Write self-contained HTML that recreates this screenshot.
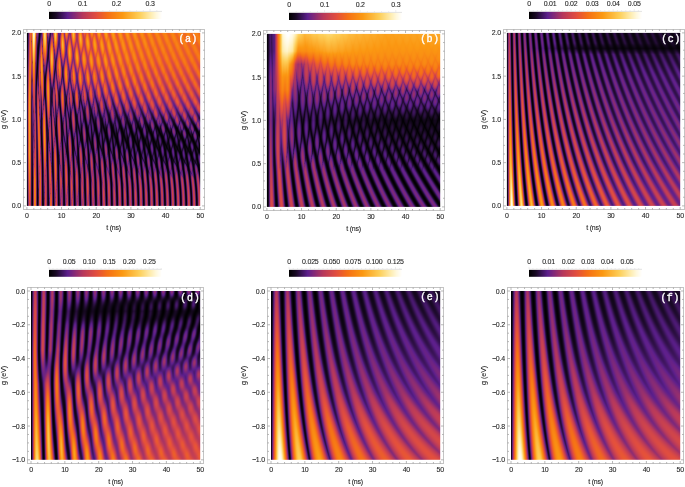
<!DOCTYPE html>
<html><head><meta charset="utf-8">
<style>
html,body{margin:0;padding:0;background:#fff;width:685px;height:487px;overflow:hidden}
#c,#s,#fb{position:absolute;left:0;top:0}
</style></head>
<body>
<svg id="fb" width="685" height="487" viewBox="0 0 685 487" shape-rendering="crispEdges"><defs><linearGradient id="fga"><stop offset="0.00" stop-color="#000"/><stop offset="0.06" stop-color="#18092a"/><stop offset="0.17" stop-color="#5c1f8c"/><stop offset="0.30" stop-color="#b6385c"/><stop offset="0.42" stop-color="#e24e3e"/><stop offset="0.52" stop-color="#f57016"/><stop offset="0.65" stop-color="#fb9812"/><stop offset="0.80" stop-color="#fdce58"/><stop offset="0.90" stop-color="#feecaf"/><stop offset="1.00" stop-color="#fff"/></linearGradient><linearGradient id="fgb"><stop offset="0.00" stop-color="#000"/><stop offset="0.06" stop-color="#18092a"/><stop offset="0.17" stop-color="#5c1f8c"/><stop offset="0.30" stop-color="#b6385c"/><stop offset="0.42" stop-color="#e24e3e"/><stop offset="0.52" stop-color="#f57016"/><stop offset="0.65" stop-color="#fb9812"/><stop offset="0.80" stop-color="#fdce58"/><stop offset="0.90" stop-color="#feecaf"/><stop offset="1.00" stop-color="#fff"/></linearGradient><linearGradient id="fgc"><stop offset="0.00" stop-color="#000"/><stop offset="0.06" stop-color="#18092a"/><stop offset="0.17" stop-color="#5c1f8c"/><stop offset="0.30" stop-color="#b6385c"/><stop offset="0.42" stop-color="#e24e3e"/><stop offset="0.52" stop-color="#f57016"/><stop offset="0.65" stop-color="#fb9812"/><stop offset="0.80" stop-color="#fdce58"/><stop offset="0.90" stop-color="#feecaf"/><stop offset="1.00" stop-color="#fff"/></linearGradient><linearGradient id="fgd"><stop offset="0.00" stop-color="#000"/><stop offset="0.06" stop-color="#18092a"/><stop offset="0.17" stop-color="#5c1f8c"/><stop offset="0.30" stop-color="#b6385c"/><stop offset="0.42" stop-color="#e24e3e"/><stop offset="0.52" stop-color="#f57016"/><stop offset="0.65" stop-color="#fb9812"/><stop offset="0.80" stop-color="#fdce58"/><stop offset="0.90" stop-color="#feecaf"/><stop offset="1.00" stop-color="#fff"/></linearGradient><linearGradient id="fge"><stop offset="0.00" stop-color="#000"/><stop offset="0.06" stop-color="#18092a"/><stop offset="0.17" stop-color="#5c1f8c"/><stop offset="0.30" stop-color="#b6385c"/><stop offset="0.42" stop-color="#e24e3e"/><stop offset="0.52" stop-color="#f57016"/><stop offset="0.65" stop-color="#fb9812"/><stop offset="0.80" stop-color="#fdce58"/><stop offset="0.90" stop-color="#feecaf"/><stop offset="1.00" stop-color="#fff"/></linearGradient><linearGradient id="fgf"><stop offset="0.00" stop-color="#000"/><stop offset="0.06" stop-color="#18092a"/><stop offset="0.17" stop-color="#5c1f8c"/><stop offset="0.30" stop-color="#b6385c"/><stop offset="0.42" stop-color="#e24e3e"/><stop offset="0.52" stop-color="#f57016"/><stop offset="0.65" stop-color="#fb9812"/><stop offset="0.80" stop-color="#fdce58"/><stop offset="0.90" stop-color="#feecaf"/><stop offset="1.00" stop-color="#fff"/></linearGradient></defs><rect x="26.9" y="32.9" width="10.1" height="10.1" fill="#bb6d52"/><rect x="37.0" y="32.9" width="10.0" height="10.1" fill="#96524b"/><rect x="47.0" y="32.9" width="10.0" height="10.1" fill="#a04b50"/><rect x="57.0" y="32.9" width="10.0" height="10.1" fill="#b84c4b"/><rect x="67.0" y="32.9" width="10.0" height="10.1" fill="#cc5644"/><rect x="77.0" y="32.9" width="10.0" height="10.1" fill="#de6336"/><rect x="87.0" y="32.9" width="10.0" height="10.1" fill="#e9672a"/><rect x="97.0" y="32.9" width="10.0" height="10.1" fill="#ed6b26"/><rect x="107.0" y="32.9" width="10.0" height="10.1" fill="#f17121"/><rect x="117.0" y="32.9" width="10.0" height="10.1" fill="#f16f21"/><rect x="127.0" y="32.9" width="10.0" height="10.1" fill="#f4771b"/><rect x="137.0" y="32.9" width="10.0" height="10.1" fill="#f3721d"/><rect x="147.0" y="32.9" width="10.0" height="10.1" fill="#f3711c"/><rect x="157.0" y="32.9" width="10.0" height="10.1" fill="#f4751a"/><rect x="167.0" y="32.9" width="10.0" height="10.1" fill="#f4731a"/><rect x="177.0" y="32.9" width="10.0" height="10.1" fill="#f68e48"/><rect x="187.0" y="32.9" width="10.0" height="10.1" fill="#f79a58"/><rect x="197.0" y="32.9" width="3.2" height="10.1" fill="#f67916"/><rect x="26.9" y="43.0" width="10.1" height="10.0" fill="#bc6245"/><rect x="37.0" y="43.0" width="10.0" height="10.0" fill="#9f4838"/><rect x="47.0" y="43.0" width="10.0" height="10.0" fill="#a34342"/><rect x="57.0" y="43.0" width="10.0" height="10.0" fill="#a64955"/><rect x="67.0" y="43.0" width="10.0" height="10.0" fill="#ce5541"/><rect x="77.0" y="43.0" width="10.0" height="10.0" fill="#d6533e"/><rect x="87.0" y="43.0" width="10.0" height="10.0" fill="#ea6c28"/><rect x="97.0" y="43.0" width="10.0" height="10.0" fill="#e66130"/><rect x="107.0" y="43.0" width="10.0" height="10.0" fill="#ef7023"/><rect x="117.0" y="43.0" width="10.0" height="10.0" fill="#f06f21"/><rect x="127.0" y="43.0" width="10.0" height="10.0" fill="#ef6a24"/><rect x="137.0" y="43.0" width="10.0" height="10.0" fill="#f2701e"/><rect x="147.0" y="43.0" width="10.0" height="10.0" fill="#f26f1e"/><rect x="157.0" y="43.0" width="10.0" height="10.0" fill="#f06b21"/><rect x="167.0" y="43.0" width="10.0" height="10.0" fill="#f16d1f"/><rect x="177.0" y="43.0" width="10.0" height="10.0" fill="#f37221"/><rect x="187.0" y="43.0" width="10.0" height="10.0" fill="#f27121"/><rect x="197.0" y="43.0" width="3.2" height="10.0" fill="#f06721"/><rect x="26.9" y="53.0" width="10.1" height="10.0" fill="#b5553d"/><rect x="37.0" y="53.0" width="10.0" height="10.0" fill="#9f3e3f"/><rect x="47.0" y="53.0" width="10.0" height="10.0" fill="#8c4348"/><rect x="57.0" y="53.0" width="10.0" height="10.0" fill="#ac3e57"/><rect x="67.0" y="53.0" width="10.0" height="10.0" fill="#c45347"/><rect x="77.0" y="53.0" width="10.0" height="10.0" fill="#d95f37"/><rect x="87.0" y="53.0" width="10.0" height="10.0" fill="#dc5938"/><rect x="97.0" y="53.0" width="10.0" height="10.0" fill="#ea6928"/><rect x="107.0" y="53.0" width="10.0" height="10.0" fill="#e6602f"/><rect x="117.0" y="53.0" width="10.0" height="10.0" fill="#ee6a25"/><rect x="127.0" y="53.0" width="10.0" height="10.0" fill="#ef6b23"/><rect x="137.0" y="53.0" width="10.0" height="10.0" fill="#ed6428"/><rect x="147.0" y="53.0" width="10.0" height="10.0" fill="#ee6626"/><rect x="157.0" y="53.0" width="10.0" height="10.0" fill="#f06922"/><rect x="167.0" y="53.0" width="10.0" height="10.0" fill="#ef6823"/><rect x="177.0" y="53.0" width="10.0" height="10.0" fill="#ee6624"/><rect x="187.0" y="53.0" width="10.0" height="10.0" fill="#ef6624"/><rect x="197.0" y="53.0" width="3.2" height="10.0" fill="#f26c1e"/><rect x="26.9" y="63.0" width="10.1" height="10.0" fill="#a9493a"/><rect x="37.0" y="63.0" width="10.0" height="10.0" fill="#873844"/><rect x="47.0" y="63.0" width="10.0" height="10.0" fill="#8d3b4d"/><rect x="57.0" y="63.0" width="10.0" height="10.0" fill="#b84c42"/><rect x="67.0" y="63.0" width="10.0" height="10.0" fill="#a7395e"/><rect x="77.0" y="63.0" width="10.0" height="10.0" fill="#c7484a"/><rect x="87.0" y="63.0" width="10.0" height="10.0" fill="#cf4c44"/><rect x="97.0" y="63.0" width="10.0" height="10.0" fill="#db5738"/><rect x="107.0" y="63.0" width="10.0" height="10.0" fill="#e45e2f"/><rect x="117.0" y="63.0" width="10.0" height="10.0" fill="#e15a34"/><rect x="127.0" y="63.0" width="10.0" height="10.0" fill="#e55d30"/><rect x="137.0" y="63.0" width="10.0" height="10.0" fill="#e9622a"/><rect x="147.0" y="63.0" width="10.0" height="10.0" fill="#e75e2d"/><rect x="157.0" y="63.0" width="10.0" height="10.0" fill="#e65b31"/><rect x="167.0" y="63.0" width="10.0" height="10.0" fill="#e75c2f"/><rect x="177.0" y="63.0" width="10.0" height="10.0" fill="#e95e2c"/><rect x="187.0" y="63.0" width="10.0" height="10.0" fill="#ea5f2b"/><rect x="197.0" y="63.0" width="3.2" height="10.0" fill="#e85b2f"/><rect x="26.9" y="73.0" width="10.1" height="10.0" fill="#9b3f39"/><rect x="37.0" y="73.0" width="10.0" height="10.0" fill="#853540"/><rect x="47.0" y="73.0" width="10.0" height="10.0" fill="#8f3351"/><rect x="57.0" y="73.0" width="10.0" height="10.0" fill="#a4404a"/><rect x="67.0" y="73.0" width="10.0" height="10.0" fill="#a13c55"/><rect x="77.0" y="73.0" width="10.0" height="10.0" fill="#b04254"/><rect x="87.0" y="73.0" width="10.0" height="10.0" fill="#cf533f"/><rect x="97.0" y="73.0" width="10.0" height="10.0" fill="#c1484c"/><rect x="107.0" y="73.0" width="10.0" height="10.0" fill="#d4523d"/><rect x="117.0" y="73.0" width="10.0" height="10.0" fill="#de5835"/><rect x="127.0" y="73.0" width="10.0" height="10.0" fill="#db543a"/><rect x="137.0" y="73.0" width="10.0" height="10.0" fill="#d8513d"/><rect x="147.0" y="73.0" width="10.0" height="10.0" fill="#dd5438"/><rect x="157.0" y="73.0" width="10.0" height="10.0" fill="#e05635"/><rect x="167.0" y="73.0" width="10.0" height="10.0" fill="#df5537"/><rect x="177.0" y="73.0" width="10.0" height="10.0" fill="#de5339"/><rect x="187.0" y="73.0" width="10.0" height="10.0" fill="#dd523a"/><rect x="197.0" y="73.0" width="3.2" height="10.0" fill="#db523b"/><rect x="26.9" y="83.0" width="10.1" height="10.0" fill="#933a41"/><rect x="37.0" y="83.0" width="10.0" height="10.0" fill="#89304a"/><rect x="47.0" y="83.0" width="10.0" height="10.0" fill="#923b4a"/><rect x="57.0" y="83.0" width="10.0" height="10.0" fill="#7a295b"/><rect x="67.0" y="83.0" width="10.0" height="10.0" fill="#882c66"/><rect x="77.0" y="83.0" width="10.0" height="10.0" fill="#8f2f65"/><rect x="87.0" y="83.0" width="10.0" height="10.0" fill="#a4375f"/><rect x="97.0" y="83.0" width="10.0" height="10.0" fill="#bf444e"/><rect x="107.0" y="83.0" width="10.0" height="10.0" fill="#b84253"/><rect x="117.0" y="83.0" width="10.0" height="10.0" fill="#c2464c"/><rect x="127.0" y="83.0" width="10.0" height="10.0" fill="#cd4b45"/><rect x="137.0" y="83.0" width="10.0" height="10.0" fill="#d04d42"/><rect x="147.0" y="83.0" width="10.0" height="10.0" fill="#cd4947"/><rect x="157.0" y="83.0" width="10.0" height="10.0" fill="#cc4848"/><rect x="167.0" y="83.0" width="10.0" height="10.0" fill="#ce4947"/><rect x="177.0" y="83.0" width="10.0" height="10.0" fill="#d04a45"/><rect x="187.0" y="83.0" width="10.0" height="10.0" fill="#d34c43"/><rect x="197.0" y="83.0" width="3.2" height="10.0" fill="#dd513b"/><rect x="26.9" y="93.0" width="10.1" height="10.0" fill="#8c3943"/><rect x="37.0" y="93.0" width="10.0" height="10.0" fill="#802a53"/><rect x="47.0" y="93.0" width="10.0" height="10.0" fill="#943b41"/><rect x="57.0" y="93.0" width="10.0" height="10.0" fill="#712941"/><rect x="67.0" y="93.0" width="10.0" height="10.0" fill="#852d55"/><rect x="77.0" y="93.0" width="10.0" height="10.0" fill="#842c5c"/><rect x="87.0" y="93.0" width="10.0" height="10.0" fill="#77285e"/><rect x="97.0" y="93.0" width="10.0" height="10.0" fill="#913062"/><rect x="107.0" y="93.0" width="10.0" height="10.0" fill="#a8385a"/><rect x="117.0" y="93.0" width="10.0" height="10.0" fill="#a7395d"/><rect x="127.0" y="93.0" width="10.0" height="10.0" fill="#a63860"/><rect x="137.0" y="93.0" width="10.0" height="10.0" fill="#ad3a5c"/><rect x="147.0" y="93.0" width="10.0" height="10.0" fill="#b94055"/><rect x="157.0" y="93.0" width="10.0" height="10.0" fill="#be4152"/><rect x="167.0" y="93.0" width="10.0" height="10.0" fill="#be4053"/><rect x="177.0" y="93.0" width="10.0" height="10.0" fill="#bd4054"/><rect x="187.0" y="93.0" width="10.0" height="10.0" fill="#bd4054"/><rect x="197.0" y="93.0" width="3.2" height="10.0" fill="#a83762"/><rect x="26.9" y="103.0" width="10.1" height="10.0" fill="#883847"/><rect x="37.0" y="103.0" width="10.0" height="10.0" fill="#812b55"/><rect x="47.0" y="103.0" width="10.0" height="10.0" fill="#812e50"/><rect x="57.0" y="103.0" width="10.0" height="10.0" fill="#65224e"/><rect x="67.0" y="103.0" width="10.0" height="10.0" fill="#5a1d5c"/><rect x="77.0" y="103.0" width="10.0" height="10.0" fill="#591d5e"/><rect x="87.0" y="103.0" width="10.0" height="10.0" fill="#652160"/><rect x="97.0" y="103.0" width="10.0" height="10.0" fill="#5f1f58"/><rect x="107.0" y="103.0" width="10.0" height="10.0" fill="#6f2460"/><rect x="117.0" y="103.0" width="10.0" height="10.0" fill="#812a63"/><rect x="127.0" y="103.0" width="10.0" height="10.0" fill="#872c64"/><rect x="137.0" y="103.0" width="10.0" height="10.0" fill="#8d2e65"/><rect x="147.0" y="103.0" width="10.0" height="10.0" fill="#8c2e69"/><rect x="157.0" y="103.0" width="10.0" height="10.0" fill="#912f68"/><rect x="167.0" y="103.0" width="10.0" height="10.0" fill="#963166"/><rect x="177.0" y="103.0" width="10.0" height="10.0" fill="#993265"/><rect x="187.0" y="103.0" width="10.0" height="10.0" fill="#9d3364"/><rect x="197.0" y="103.0" width="3.2" height="10.0" fill="#be3e54"/><rect x="26.9" y="113.0" width="10.1" height="10.0" fill="#89394a"/><rect x="37.0" y="113.0" width="10.0" height="10.0" fill="#8a3542"/><rect x="47.0" y="113.0" width="10.0" height="10.0" fill="#682256"/><rect x="57.0" y="113.0" width="10.0" height="10.0" fill="#642155"/><rect x="67.0" y="113.0" width="10.0" height="10.0" fill="#541b47"/><rect x="77.0" y="113.0" width="10.0" height="10.0" fill="#411652"/><rect x="87.0" y="113.0" width="10.0" height="10.0" fill="#43164c"/><rect x="97.0" y="113.0" width="10.0" height="10.0" fill="#49185b"/><rect x="107.0" y="113.0" width="10.0" height="10.0" fill="#451751"/><rect x="117.0" y="113.0" width="10.0" height="10.0" fill="#431651"/><rect x="127.0" y="113.0" width="10.0" height="10.0" fill="#4b1955"/><rect x="137.0" y="113.0" width="10.0" height="10.0" fill="#551c5d"/><rect x="147.0" y="113.0" width="10.0" height="10.0" fill="#622061"/><rect x="157.0" y="113.0" width="10.0" height="10.0" fill="#662164"/><rect x="167.0" y="113.0" width="10.0" height="10.0" fill="#672263"/><rect x="177.0" y="113.0" width="10.0" height="10.0" fill="#6b2362"/><rect x="187.0" y="113.0" width="10.0" height="10.0" fill="#702462"/><rect x="197.0" y="113.0" width="3.2" height="10.0" fill="#501b68"/><rect x="26.9" y="123.0" width="10.1" height="10.0" fill="#883848"/><rect x="37.0" y="123.0" width="10.0" height="10.0" fill="#923c37"/><rect x="47.0" y="123.0" width="10.0" height="10.0" fill="#601f4a"/><rect x="57.0" y="123.0" width="10.0" height="10.0" fill="#672348"/><rect x="67.0" y="123.0" width="10.0" height="10.0" fill="#4c194d"/><rect x="77.0" y="123.0" width="10.0" height="10.0" fill="#361243"/><rect x="87.0" y="123.0" width="10.0" height="10.0" fill="#280e3c"/><rect x="97.0" y="123.0" width="10.0" height="10.0" fill="#2e103b"/><rect x="107.0" y="123.0" width="10.0" height="10.0" fill="#2f1040"/><rect x="117.0" y="123.0" width="10.0" height="10.0" fill="#2a0e3c"/><rect x="127.0" y="123.0" width="10.0" height="10.0" fill="#2f1041"/><rect x="137.0" y="123.0" width="10.0" height="10.0" fill="#2d0f3d"/><rect x="147.0" y="123.0" width="10.0" height="10.0" fill="#2d0f3a"/><rect x="157.0" y="123.0" width="10.0" height="10.0" fill="#321141"/><rect x="167.0" y="123.0" width="10.0" height="10.0" fill="#361246"/><rect x="177.0" y="123.0" width="10.0" height="10.0" fill="#38134a"/><rect x="187.0" y="123.0" width="10.0" height="10.0" fill="#3c144a"/><rect x="197.0" y="123.0" width="3.2" height="10.0" fill="#561c55"/><rect x="26.9" y="133.0" width="10.1" height="10.0" fill="#883846"/><rect x="37.0" y="133.0" width="10.0" height="10.0" fill="#943e34"/><rect x="47.0" y="133.0" width="10.0" height="10.0" fill="#5f1f49"/><rect x="57.0" y="133.0" width="10.0" height="10.0" fill="#591e4b"/><rect x="67.0" y="133.0" width="10.0" height="10.0" fill="#4f1a4d"/><rect x="77.0" y="133.0" width="10.0" height="10.0" fill="#3d1445"/><rect x="87.0" y="133.0" width="10.0" height="10.0" fill="#2d0f3b"/><rect x="97.0" y="133.0" width="10.0" height="10.0" fill="#220c34"/><rect x="107.0" y="133.0" width="10.0" height="10.0" fill="#210c30"/><rect x="117.0" y="133.0" width="10.0" height="10.0" fill="#240c32"/><rect x="127.0" y="133.0" width="10.0" height="10.0" fill="#1f0b2d"/><rect x="137.0" y="133.0" width="10.0" height="10.0" fill="#200b30"/><rect x="147.0" y="133.0" width="10.0" height="10.0" fill="#230c33"/><rect x="157.0" y="133.0" width="10.0" height="10.0" fill="#210c32"/><rect x="167.0" y="133.0" width="10.0" height="10.0" fill="#210b30"/><rect x="177.0" y="133.0" width="10.0" height="10.0" fill="#230c30"/><rect x="187.0" y="133.0" width="10.0" height="10.0" fill="#250d32"/><rect x="197.0" y="133.0" width="3.2" height="10.0" fill="#170823"/><rect x="26.9" y="143.0" width="10.1" height="10.0" fill="#8d3a44"/><rect x="37.0" y="143.0" width="10.0" height="10.0" fill="#8f3b38"/><rect x="47.0" y="143.0" width="10.0" height="10.0" fill="#682251"/><rect x="57.0" y="143.0" width="10.0" height="10.0" fill="#4d194c"/><rect x="67.0" y="143.0" width="10.0" height="10.0" fill="#561c46"/><rect x="77.0" y="143.0" width="10.0" height="10.0" fill="#451749"/><rect x="87.0" y="143.0" width="10.0" height="10.0" fill="#3a1346"/><rect x="97.0" y="143.0" width="10.0" height="10.0" fill="#35123d"/><rect x="107.0" y="143.0" width="10.0" height="10.0" fill="#2c0f3b"/><rect x="117.0" y="143.0" width="10.0" height="10.0" fill="#270d38"/><rect x="127.0" y="143.0" width="10.0" height="10.0" fill="#260d38"/><rect x="137.0" y="143.0" width="10.0" height="10.0" fill="#240c34"/><rect x="147.0" y="143.0" width="10.0" height="10.0" fill="#200b2f"/><rect x="157.0" y="143.0" width="10.0" height="10.0" fill="#1d0a2b"/><rect x="167.0" y="143.0" width="10.0" height="10.0" fill="#1c0a2a"/><rect x="177.0" y="143.0" width="10.0" height="10.0" fill="#1c0a2a"/><rect x="187.0" y="143.0" width="10.0" height="10.0" fill="#1c0a29"/><rect x="197.0" y="143.0" width="3.2" height="10.0" fill="#170822"/><rect x="26.9" y="153.0" width="10.1" height="10.0" fill="#923b40"/><rect x="37.0" y="153.0" width="10.0" height="10.0" fill="#89333e"/><rect x="47.0" y="153.0" width="10.0" height="10.0" fill="#762946"/><rect x="57.0" y="153.0" width="10.0" height="10.0" fill="#551b49"/><rect x="67.0" y="153.0" width="10.0" height="10.0" fill="#4f1a4b"/><rect x="77.0" y="153.0" width="10.0" height="10.0" fill="#4f1a42"/><rect x="87.0" y="153.0" width="10.0" height="10.0" fill="#4b1847"/><rect x="97.0" y="153.0" width="10.0" height="10.0" fill="#45174a"/><rect x="107.0" y="153.0" width="10.0" height="10.0" fill="#3f1548"/><rect x="117.0" y="153.0" width="10.0" height="10.0" fill="#381345"/><rect x="127.0" y="153.0" width="10.0" height="10.0" fill="#351240"/><rect x="137.0" y="153.0" width="10.0" height="10.0" fill="#33113e"/><rect x="147.0" y="153.0" width="10.0" height="10.0" fill="#2d0f3b"/><rect x="157.0" y="153.0" width="10.0" height="10.0" fill="#280e37"/><rect x="167.0" y="153.0" width="10.0" height="10.0" fill="#270d38"/><rect x="177.0" y="153.0" width="10.0" height="10.0" fill="#260d39"/><rect x="187.0" y="153.0" width="10.0" height="10.0" fill="#260d38"/><rect x="197.0" y="153.0" width="3.2" height="10.0" fill="#2c0f3f"/><rect x="26.9" y="163.0" width="10.1" height="10.0" fill="#923b3c"/><rect x="37.0" y="163.0" width="10.0" height="10.0" fill="#822c47"/><rect x="47.0" y="163.0" width="10.0" height="10.0" fill="#7e2e3a"/><rect x="57.0" y="163.0" width="10.0" height="10.0" fill="#612048"/><rect x="67.0" y="163.0" width="10.0" height="10.0" fill="#5a1d4a"/><rect x="77.0" y="163.0" width="10.0" height="10.0" fill="#551b4c"/><rect x="87.0" y="163.0" width="10.0" height="10.0" fill="#4e1947"/><rect x="97.0" y="163.0" width="10.0" height="10.0" fill="#4f1a46"/><rect x="107.0" y="163.0" width="10.0" height="10.0" fill="#4f1a47"/><rect x="117.0" y="163.0" width="10.0" height="10.0" fill="#4e1a4b"/><rect x="127.0" y="163.0" width="10.0" height="10.0" fill="#48184d"/><rect x="137.0" y="163.0" width="10.0" height="10.0" fill="#46174d"/><rect x="147.0" y="163.0" width="10.0" height="10.0" fill="#42164d"/><rect x="157.0" y="163.0" width="10.0" height="10.0" fill="#40154c"/><rect x="167.0" y="163.0" width="10.0" height="10.0" fill="#40154a"/><rect x="177.0" y="163.0" width="10.0" height="10.0" fill="#3e1448"/><rect x="187.0" y="163.0" width="10.0" height="10.0" fill="#3c1445"/><rect x="197.0" y="163.0" width="3.2" height="10.0" fill="#1e0a29"/><rect x="26.9" y="173.0" width="10.1" height="10.0" fill="#923b37"/><rect x="37.0" y="173.0" width="10.0" height="10.0" fill="#7d2b48"/><rect x="47.0" y="173.0" width="10.0" height="10.0" fill="#7d2c3f"/><rect x="57.0" y="173.0" width="10.0" height="10.0" fill="#6a2442"/><rect x="67.0" y="173.0" width="10.0" height="10.0" fill="#672247"/><rect x="77.0" y="173.0" width="10.0" height="10.0" fill="#5e1f47"/><rect x="87.0" y="173.0" width="10.0" height="10.0" fill="#5e1f48"/><rect x="97.0" y="173.0" width="10.0" height="10.0" fill="#5e1e49"/><rect x="107.0" y="173.0" width="10.0" height="10.0" fill="#5e1e49"/><rect x="117.0" y="173.0" width="10.0" height="10.0" fill="#62204c"/><rect x="127.0" y="173.0" width="10.0" height="10.0" fill="#601f4e"/><rect x="137.0" y="173.0" width="10.0" height="10.0" fill="#601f4d"/><rect x="147.0" y="173.0" width="10.0" height="10.0" fill="#5c1e4a"/><rect x="157.0" y="173.0" width="10.0" height="10.0" fill="#571c48"/><rect x="167.0" y="173.0" width="10.0" height="10.0" fill="#551c49"/><rect x="177.0" y="173.0" width="10.0" height="10.0" fill="#541b4a"/><rect x="187.0" y="173.0" width="10.0" height="10.0" fill="#551c4a"/><rect x="197.0" y="173.0" width="3.2" height="10.0" fill="#7a2756"/><rect x="26.9" y="183.0" width="10.1" height="10.0" fill="#8f3a39"/><rect x="37.0" y="183.0" width="10.0" height="10.0" fill="#792a45"/><rect x="47.0" y="183.0" width="10.0" height="10.0" fill="#762746"/><rect x="57.0" y="183.0" width="10.0" height="10.0" fill="#672247"/><rect x="67.0" y="183.0" width="10.0" height="10.0" fill="#682245"/><rect x="77.0" y="183.0" width="10.0" height="10.0" fill="#632045"/><rect x="87.0" y="183.0" width="10.0" height="10.0" fill="#662243"/><rect x="97.0" y="183.0" width="10.0" height="10.0" fill="#6a2346"/><rect x="107.0" y="183.0" width="10.0" height="10.0" fill="#6a224b"/><rect x="117.0" y="183.0" width="10.0" height="10.0" fill="#6c234c"/><rect x="127.0" y="183.0" width="10.0" height="10.0" fill="#67214b"/><rect x="137.0" y="183.0" width="10.0" height="10.0" fill="#652147"/><rect x="147.0" y="183.0" width="10.0" height="10.0" fill="#601f47"/><rect x="157.0" y="183.0" width="10.0" height="10.0" fill="#5e1e49"/><rect x="167.0" y="183.0" width="10.0" height="10.0" fill="#601f48"/><rect x="177.0" y="183.0" width="10.0" height="10.0" fill="#622047"/><rect x="187.0" y="183.0" width="10.0" height="10.0" fill="#682247"/><rect x="197.0" y="183.0" width="3.2" height="10.0" fill="#9c3261"/><rect x="26.9" y="193.0" width="10.1" height="10.0" fill="#8a363c"/><rect x="37.0" y="193.0" width="10.0" height="10.0" fill="#782a3e"/><rect x="47.0" y="193.0" width="10.0" height="10.0" fill="#732845"/><rect x="57.0" y="193.0" width="10.0" height="10.0" fill="#5d1e4e"/><rect x="67.0" y="193.0" width="10.0" height="10.0" fill="#67214b"/><rect x="77.0" y="193.0" width="10.0" height="10.0" fill="#5f1f4c"/><rect x="87.0" y="193.0" width="10.0" height="10.0" fill="#662146"/><rect x="97.0" y="193.0" width="10.0" height="10.0" fill="#6d234a"/><rect x="107.0" y="193.0" width="10.0" height="10.0" fill="#6d234d"/><rect x="117.0" y="193.0" width="10.0" height="10.0" fill="#71254b"/><rect x="127.0" y="193.0" width="10.0" height="10.0" fill="#6a2247"/><rect x="137.0" y="193.0" width="10.0" height="10.0" fill="#672146"/><rect x="147.0" y="193.0" width="10.0" height="10.0" fill="#622048"/><rect x="157.0" y="193.0" width="10.0" height="10.0" fill="#622048"/><rect x="167.0" y="193.0" width="10.0" height="10.0" fill="#662147"/><rect x="177.0" y="193.0" width="10.0" height="10.0" fill="#6a2245"/><rect x="187.0" y="193.0" width="10.0" height="10.0" fill="#71254a"/><rect x="197.0" y="193.0" width="3.2" height="10.0" fill="#892d50"/><rect x="26.9" y="203.0" width="10.1" height="2.9" fill="#87343d"/><rect x="37.0" y="203.0" width="10.0" height="2.9" fill="#782a3c"/><rect x="47.0" y="203.0" width="10.0" height="2.9" fill="#752b3d"/><rect x="57.0" y="203.0" width="10.0" height="2.9" fill="#5c1e49"/><rect x="67.0" y="203.0" width="10.0" height="2.9" fill="#66224b"/><rect x="77.0" y="203.0" width="10.0" height="2.9" fill="#621f4c"/><rect x="87.0" y="203.0" width="10.0" height="2.9" fill="#672148"/><rect x="97.0" y="203.0" width="10.0" height="2.9" fill="#6e244c"/><rect x="107.0" y="203.0" width="10.0" height="2.9" fill="#6e234f"/><rect x="117.0" y="203.0" width="10.0" height="2.9" fill="#72254b"/><rect x="127.0" y="203.0" width="10.0" height="2.9" fill="#6a2247"/><rect x="137.0" y="203.0" width="10.0" height="2.9" fill="#672247"/><rect x="147.0" y="203.0" width="10.0" height="2.9" fill="#642049"/><rect x="157.0" y="203.0" width="10.0" height="2.9" fill="#642148"/><rect x="167.0" y="203.0" width="10.0" height="2.9" fill="#692247"/><rect x="177.0" y="203.0" width="10.0" height="2.9" fill="#6d2446"/><rect x="187.0" y="203.0" width="10.0" height="2.9" fill="#74264a"/><rect x="197.0" y="203.0" width="3.2" height="2.9" fill="#822a4b"/><rect x="266.9" y="33.9" width="10.1" height="10.1" fill="#501b56"/><rect x="277.0" y="33.9" width="10.0" height="10.1" fill="#fbc887"/><rect x="287.0" y="33.9" width="10.0" height="10.1" fill="#fef0c5"/><rect x="297.0" y="33.9" width="10.0" height="10.1" fill="#fcb63a"/><rect x="307.0" y="33.9" width="10.0" height="10.1" fill="#fcb538"/><rect x="317.0" y="33.9" width="10.0" height="10.1" fill="#fdc249"/><rect x="327.0" y="33.9" width="10.0" height="10.1" fill="#fdc751"/><rect x="337.0" y="33.9" width="10.0" height="10.1" fill="#fcbc41"/><rect x="347.0" y="33.9" width="10.0" height="10.1" fill="#fcb031"/><rect x="357.0" y="33.9" width="10.0" height="10.1" fill="#fcaa29"/><rect x="367.0" y="33.9" width="10.0" height="10.1" fill="#fba522"/><rect x="377.0" y="33.9" width="10.0" height="10.1" fill="#fba01c"/><rect x="387.0" y="33.9" width="10.0" height="10.1" fill="#fb9d18"/><rect x="397.0" y="33.9" width="10.0" height="10.1" fill="#fb9e1a"/><rect x="407.0" y="33.9" width="10.0" height="10.1" fill="#fb9f1b"/><rect x="417.0" y="33.9" width="10.0" height="10.1" fill="#fcad3c"/><rect x="427.0" y="33.9" width="10.0" height="10.1" fill="#fdc26d"/><rect x="437.0" y="33.9" width="3.2" height="10.1" fill="#fcab33"/><rect x="266.9" y="44.0" width="10.1" height="10.0" fill="#501b56"/><rect x="277.0" y="44.0" width="10.0" height="10.0" fill="#fac276"/><rect x="287.0" y="44.0" width="10.0" height="10.0" fill="#fedd8e"/><rect x="297.0" y="44.0" width="10.0" height="10.0" fill="#fa9316"/><rect x="307.0" y="44.0" width="10.0" height="10.0" fill="#fa9818"/><rect x="317.0" y="44.0" width="10.0" height="10.0" fill="#fba423"/><rect x="327.0" y="44.0" width="10.0" height="10.0" fill="#fcab2b"/><rect x="337.0" y="44.0" width="10.0" height="10.0" fill="#fba422"/><rect x="347.0" y="44.0" width="10.0" height="10.0" fill="#fb9e1b"/><rect x="357.0" y="44.0" width="10.0" height="10.0" fill="#fb9b17"/><rect x="367.0" y="44.0" width="10.0" height="10.0" fill="#fb9814"/><rect x="377.0" y="44.0" width="10.0" height="10.0" fill="#fb9613"/><rect x="387.0" y="44.0" width="10.0" height="10.0" fill="#fa9512"/><rect x="397.0" y="44.0" width="10.0" height="10.0" fill="#fa9412"/><rect x="407.0" y="44.0" width="10.0" height="10.0" fill="#fb9513"/><rect x="417.0" y="44.0" width="10.0" height="10.0" fill="#fa9514"/><rect x="427.0" y="44.0" width="10.0" height="10.0" fill="#fb9614"/><rect x="437.0" y="44.0" width="3.2" height="10.0" fill="#fa9413"/><rect x="266.9" y="54.0" width="10.1" height="10.0" fill="#581d60"/><rect x="277.0" y="54.0" width="10.0" height="10.0" fill="#f9ae4b"/><rect x="287.0" y="54.0" width="10.0" height="10.0" fill="#f7a23c"/><rect x="297.0" y="54.0" width="10.0" height="10.0" fill="#db523b"/><rect x="307.0" y="54.0" width="10.0" height="10.0" fill="#ec6626"/><rect x="317.0" y="54.0" width="10.0" height="10.0" fill="#f4771a"/><rect x="327.0" y="54.0" width="10.0" height="10.0" fill="#f78116"/><rect x="337.0" y="54.0" width="10.0" height="10.0" fill="#f88714"/><rect x="347.0" y="54.0" width="10.0" height="10.0" fill="#f88714"/><rect x="357.0" y="54.0" width="10.0" height="10.0" fill="#f98914"/><rect x="367.0" y="54.0" width="10.0" height="10.0" fill="#f98914"/><rect x="377.0" y="54.0" width="10.0" height="10.0" fill="#f98714"/><rect x="387.0" y="54.0" width="10.0" height="10.0" fill="#f98714"/><rect x="397.0" y="54.0" width="10.0" height="10.0" fill="#f98814"/><rect x="407.0" y="54.0" width="10.0" height="10.0" fill="#f98814"/><rect x="417.0" y="54.0" width="10.0" height="10.0" fill="#f98814"/><rect x="427.0" y="54.0" width="10.0" height="10.0" fill="#f88714"/><rect x="437.0" y="54.0" width="3.2" height="10.0" fill="#f98914"/><rect x="266.9" y="64.0" width="10.1" height="10.0" fill="#632064"/><rect x="277.0" y="64.0" width="10.0" height="10.0" fill="#f69229"/><rect x="287.0" y="64.0" width="10.0" height="10.0" fill="#e47030"/><rect x="297.0" y="64.0" width="10.0" height="10.0" fill="#a13366"/><rect x="307.0" y="64.0" width="10.0" height="10.0" fill="#c13f53"/><rect x="317.0" y="64.0" width="10.0" height="10.0" fill="#d44a44"/><rect x="327.0" y="64.0" width="10.0" height="10.0" fill="#e05339"/><rect x="337.0" y="64.0" width="10.0" height="10.0" fill="#e65c30"/><rect x="347.0" y="64.0" width="10.0" height="10.0" fill="#eb6328"/><rect x="357.0" y="64.0" width="10.0" height="10.0" fill="#ed6625"/><rect x="367.0" y="64.0" width="10.0" height="10.0" fill="#ee6724"/><rect x="377.0" y="64.0" width="10.0" height="10.0" fill="#f06b21"/><rect x="387.0" y="64.0" width="10.0" height="10.0" fill="#f16c1f"/><rect x="397.0" y="64.0" width="10.0" height="10.0" fill="#f06b20"/><rect x="407.0" y="64.0" width="10.0" height="10.0" fill="#f16c1f"/><rect x="417.0" y="64.0" width="10.0" height="10.0" fill="#f16d1f"/><rect x="427.0" y="64.0" width="10.0" height="10.0" fill="#f26f1d"/><rect x="437.0" y="64.0" width="3.2" height="10.0" fill="#f36d1b"/><rect x="266.9" y="74.0" width="10.1" height="10.0" fill="#682264"/><rect x="277.0" y="74.0" width="10.0" height="10.0" fill="#f27c1e"/><rect x="287.0" y="74.0" width="10.0" height="10.0" fill="#cf563f"/><rect x="297.0" y="74.0" width="10.0" height="10.0" fill="#832a70"/><rect x="307.0" y="74.0" width="10.0" height="10.0" fill="#953069"/><rect x="317.0" y="74.0" width="10.0" height="10.0" fill="#a03364"/><rect x="327.0" y="74.0" width="10.0" height="10.0" fill="#b43b5a"/><rect x="337.0" y="74.0" width="10.0" height="10.0" fill="#a83761"/><rect x="347.0" y="74.0" width="10.0" height="10.0" fill="#bc3e55"/><rect x="357.0" y="74.0" width="10.0" height="10.0" fill="#bc3e56"/><rect x="367.0" y="74.0" width="10.0" height="10.0" fill="#c54250"/><rect x="377.0" y="74.0" width="10.0" height="10.0" fill="#c24151"/><rect x="387.0" y="74.0" width="10.0" height="10.0" fill="#ca464a"/><rect x="397.0" y="74.0" width="10.0" height="10.0" fill="#ce4649"/><rect x="407.0" y="74.0" width="10.0" height="10.0" fill="#cc4749"/><rect x="417.0" y="74.0" width="10.0" height="10.0" fill="#d04847"/><rect x="427.0" y="74.0" width="10.0" height="10.0" fill="#ce4848"/><rect x="437.0" y="74.0" width="3.2" height="10.0" fill="#cd4c44"/><rect x="266.9" y="84.0" width="10.1" height="10.0" fill="#662165"/><rect x="277.0" y="84.0" width="10.0" height="10.0" fill="#ee6e22"/><rect x="287.0" y="84.0" width="10.0" height="10.0" fill="#b54652"/><rect x="297.0" y="84.0" width="10.0" height="10.0" fill="#581d71"/><rect x="307.0" y="84.0" width="10.0" height="10.0" fill="#6d2476"/><rect x="317.0" y="84.0" width="10.0" height="10.0" fill="#712474"/><rect x="327.0" y="84.0" width="10.0" height="10.0" fill="#70246f"/><rect x="337.0" y="84.0" width="10.0" height="10.0" fill="#82296c"/><rect x="347.0" y="84.0" width="10.0" height="10.0" fill="#73256b"/><rect x="357.0" y="84.0" width="10.0" height="10.0" fill="#7b286e"/><rect x="367.0" y="84.0" width="10.0" height="10.0" fill="#78276f"/><rect x="377.0" y="84.0" width="10.0" height="10.0" fill="#862b6a"/><rect x="387.0" y="84.0" width="10.0" height="10.0" fill="#7a2771"/><rect x="397.0" y="84.0" width="10.0" height="10.0" fill="#7b286d"/><rect x="407.0" y="84.0" width="10.0" height="10.0" fill="#7e296f"/><rect x="417.0" y="84.0" width="10.0" height="10.0" fill="#7c286e"/><rect x="427.0" y="84.0" width="10.0" height="10.0" fill="#822a6d"/><rect x="437.0" y="84.0" width="3.2" height="10.0" fill="#8d2c72"/><rect x="266.9" y="94.0" width="10.1" height="10.0" fill="#5c1e66"/><rect x="277.0" y="94.0" width="10.0" height="10.0" fill="#e15635"/><rect x="287.0" y="94.0" width="10.0" height="10.0" fill="#953561"/><rect x="297.0" y="94.0" width="10.0" height="10.0" fill="#441759"/><rect x="307.0" y="94.0" width="10.0" height="10.0" fill="#5f1f6b"/><rect x="317.0" y="94.0" width="10.0" height="10.0" fill="#5d1e68"/><rect x="327.0" y="94.0" width="10.0" height="10.0" fill="#49185b"/><rect x="337.0" y="94.0" width="10.0" height="10.0" fill="#521b66"/><rect x="347.0" y="94.0" width="10.0" height="10.0" fill="#531c6b"/><rect x="357.0" y="94.0" width="10.0" height="10.0" fill="#511b65"/><rect x="367.0" y="94.0" width="10.0" height="10.0" fill="#4f1b68"/><rect x="377.0" y="94.0" width="10.0" height="10.0" fill="#4c1965"/><rect x="387.0" y="94.0" width="10.0" height="10.0" fill="#561c6a"/><rect x="397.0" y="94.0" width="10.0" height="10.0" fill="#531c6d"/><rect x="407.0" y="94.0" width="10.0" height="10.0" fill="#511b69"/><rect x="417.0" y="94.0" width="10.0" height="10.0" fill="#541c6e"/><rect x="427.0" y="94.0" width="10.0" height="10.0" fill="#521b6c"/><rect x="437.0" y="94.0" width="3.2" height="10.0" fill="#44175e"/><rect x="266.9" y="104.0" width="10.1" height="10.0" fill="#521b60"/><rect x="277.0" y="104.0" width="10.0" height="10.0" fill="#ca434d"/><rect x="287.0" y="104.0" width="10.0" height="10.0" fill="#6f2567"/><rect x="297.0" y="104.0" width="10.0" height="10.0" fill="#301147"/><rect x="307.0" y="104.0" width="10.0" height="10.0" fill="#3b1455"/><rect x="317.0" y="104.0" width="10.0" height="10.0" fill="#34124e"/><rect x="327.0" y="104.0" width="10.0" height="10.0" fill="#3c145a"/><rect x="337.0" y="104.0" width="10.0" height="10.0" fill="#2f1045"/><rect x="347.0" y="104.0" width="10.0" height="10.0" fill="#35124d"/><rect x="357.0" y="104.0" width="10.0" height="10.0" fill="#33124d"/><rect x="367.0" y="104.0" width="10.0" height="10.0" fill="#33124b"/><rect x="377.0" y="104.0" width="10.0" height="10.0" fill="#33124e"/><rect x="387.0" y="104.0" width="10.0" height="10.0" fill="#2d1044"/><rect x="397.0" y="104.0" width="10.0" height="10.0" fill="#2f1047"/><rect x="407.0" y="104.0" width="10.0" height="10.0" fill="#301148"/><rect x="417.0" y="104.0" width="10.0" height="10.0" fill="#2e1045"/><rect x="427.0" y="104.0" width="10.0" height="10.0" fill="#301148"/><rect x="437.0" y="104.0" width="3.2" height="10.0" fill="#3d155d"/><rect x="266.9" y="114.0" width="10.1" height="10.0" fill="#4b1957"/><rect x="277.0" y="114.0" width="10.0" height="10.0" fill="#b2385d"/><rect x="287.0" y="114.0" width="10.0" height="10.0" fill="#4b1960"/><rect x="297.0" y="114.0" width="10.0" height="10.0" fill="#2c0f43"/><rect x="307.0" y="114.0" width="10.0" height="10.0" fill="#280e3d"/><rect x="317.0" y="114.0" width="10.0" height="10.0" fill="#260d3a"/><rect x="327.0" y="114.0" width="10.0" height="10.0" fill="#220c34"/><rect x="337.0" y="114.0" width="10.0" height="10.0" fill="#220c33"/><rect x="347.0" y="114.0" width="10.0" height="10.0" fill="#1a0927"/><rect x="357.0" y="114.0" width="10.0" height="10.0" fill="#180925"/><rect x="367.0" y="114.0" width="10.0" height="10.0" fill="#170822"/><rect x="377.0" y="114.0" width="10.0" height="10.0" fill="#14071f"/><rect x="387.0" y="114.0" width="10.0" height="10.0" fill="#160820"/><rect x="397.0" y="114.0" width="10.0" height="10.0" fill="#13071c"/><rect x="407.0" y="114.0" width="10.0" height="10.0" fill="#12071b"/><rect x="417.0" y="114.0" width="10.0" height="10.0" fill="#11061a"/><rect x="427.0" y="114.0" width="10.0" height="10.0" fill="#110619"/><rect x="437.0" y="114.0" width="3.2" height="10.0" fill="#0b0410"/><rect x="266.9" y="124.0" width="10.1" height="10.0" fill="#4e1a53"/><rect x="277.0" y="124.0" width="10.0" height="10.0" fill="#aa3761"/><rect x="287.0" y="124.0" width="10.0" height="10.0" fill="#471857"/><rect x="297.0" y="124.0" width="10.0" height="10.0" fill="#3f1559"/><rect x="307.0" y="124.0" width="10.0" height="10.0" fill="#290e3e"/><rect x="317.0" y="124.0" width="10.0" height="10.0" fill="#240d36"/><rect x="327.0" y="124.0" width="10.0" height="10.0" fill="#210b32"/><rect x="337.0" y="124.0" width="10.0" height="10.0" fill="#210c31"/><rect x="347.0" y="124.0" width="10.0" height="10.0" fill="#200b30"/><rect x="357.0" y="124.0" width="10.0" height="10.0" fill="#180924"/><rect x="367.0" y="124.0" width="10.0" height="10.0" fill="#180925"/><rect x="377.0" y="124.0" width="10.0" height="10.0" fill="#15081f"/><rect x="387.0" y="124.0" width="10.0" height="10.0" fill="#11061a"/><rect x="397.0" y="124.0" width="10.0" height="10.0" fill="#11061a"/><rect x="407.0" y="124.0" width="10.0" height="10.0" fill="#110619"/><rect x="417.0" y="124.0" width="10.0" height="10.0" fill="#0f0617"/><rect x="427.0" y="124.0" width="10.0" height="10.0" fill="#0e0515"/><rect x="437.0" y="124.0" width="3.2" height="10.0" fill="#100618"/><rect x="266.9" y="134.0" width="10.1" height="10.0" fill="#531b52"/><rect x="277.0" y="134.0" width="10.0" height="10.0" fill="#a63661"/><rect x="287.0" y="134.0" width="10.0" height="10.0" fill="#471852"/><rect x="297.0" y="134.0" width="10.0" height="10.0" fill="#35124d"/><rect x="307.0" y="134.0" width="10.0" height="10.0" fill="#321147"/><rect x="317.0" y="134.0" width="10.0" height="10.0" fill="#34124b"/><rect x="327.0" y="134.0" width="10.0" height="10.0" fill="#290e3d"/><rect x="337.0" y="134.0" width="10.0" height="10.0" fill="#230c36"/><rect x="347.0" y="134.0" width="10.0" height="10.0" fill="#210c32"/><rect x="357.0" y="134.0" width="10.0" height="10.0" fill="#210c32"/><rect x="367.0" y="134.0" width="10.0" height="10.0" fill="#1c0a2b"/><rect x="377.0" y="134.0" width="10.0" height="10.0" fill="#1b0a29"/><rect x="387.0" y="134.0" width="10.0" height="10.0" fill="#1b0a29"/><rect x="397.0" y="134.0" width="10.0" height="10.0" fill="#180924"/><rect x="407.0" y="134.0" width="10.0" height="10.0" fill="#150820"/><rect x="417.0" y="134.0" width="10.0" height="10.0" fill="#150820"/><rect x="427.0" y="134.0" width="10.0" height="10.0" fill="#15081f"/><rect x="437.0" y="134.0" width="3.2" height="10.0" fill="#150820"/><rect x="266.9" y="144.0" width="10.1" height="10.0" fill="#551c50"/><rect x="277.0" y="144.0" width="10.0" height="10.0" fill="#973162"/><rect x="287.0" y="144.0" width="10.0" height="10.0" fill="#44175d"/><rect x="297.0" y="144.0" width="10.0" height="10.0" fill="#351242"/><rect x="307.0" y="144.0" width="10.0" height="10.0" fill="#3f154e"/><rect x="317.0" y="144.0" width="10.0" height="10.0" fill="#331148"/><rect x="327.0" y="144.0" width="10.0" height="10.0" fill="#39134e"/><rect x="337.0" y="144.0" width="10.0" height="10.0" fill="#311147"/><rect x="347.0" y="144.0" width="10.0" height="10.0" fill="#280e3c"/><rect x="357.0" y="144.0" width="10.0" height="10.0" fill="#270e3b"/><rect x="367.0" y="144.0" width="10.0" height="10.0" fill="#240d37"/><rect x="377.0" y="144.0" width="10.0" height="10.0" fill="#200b31"/><rect x="387.0" y="144.0" width="10.0" height="10.0" fill="#1e0b2d"/><rect x="397.0" y="144.0" width="10.0" height="10.0" fill="#1d0a2c"/><rect x="407.0" y="144.0" width="10.0" height="10.0" fill="#1d0a2b"/><rect x="417.0" y="144.0" width="10.0" height="10.0" fill="#1b0a29"/><rect x="427.0" y="144.0" width="10.0" height="10.0" fill="#190926"/><rect x="437.0" y="144.0" width="3.2" height="10.0" fill="#13071c"/><rect x="266.9" y="154.0" width="10.1" height="10.0" fill="#541b4c"/><rect x="277.0" y="154.0" width="10.0" height="10.0" fill="#822a62"/><rect x="287.0" y="154.0" width="10.0" height="10.0" fill="#5b1d5a"/><rect x="297.0" y="154.0" width="10.0" height="10.0" fill="#45174a"/><rect x="307.0" y="154.0" width="10.0" height="10.0" fill="#3c144a"/><rect x="317.0" y="154.0" width="10.0" height="10.0" fill="#3d1448"/><rect x="327.0" y="154.0" width="10.0" height="10.0" fill="#38134a"/><rect x="337.0" y="154.0" width="10.0" height="10.0" fill="#39134d"/><rect x="347.0" y="154.0" width="10.0" height="10.0" fill="#37134b"/><rect x="357.0" y="154.0" width="10.0" height="10.0" fill="#301045"/><rect x="367.0" y="154.0" width="10.0" height="10.0" fill="#2c0f42"/><rect x="377.0" y="154.0" width="10.0" height="10.0" fill="#2b0f41"/><rect x="387.0" y="154.0" width="10.0" height="10.0" fill="#280e3d"/><rect x="397.0" y="154.0" width="10.0" height="10.0" fill="#250d38"/><rect x="407.0" y="154.0" width="10.0" height="10.0" fill="#230c34"/><rect x="417.0" y="154.0" width="10.0" height="10.0" fill="#220c33"/><rect x="427.0" y="154.0" width="10.0" height="10.0" fill="#210c32"/><rect x="437.0" y="154.0" width="3.2" height="10.0" fill="#2f1047"/><rect x="266.9" y="164.0" width="10.1" height="10.0" fill="#521b48"/><rect x="277.0" y="164.0" width="10.0" height="10.0" fill="#7d2857"/><rect x="287.0" y="164.0" width="10.0" height="10.0" fill="#6b224e"/><rect x="297.0" y="164.0" width="10.0" height="10.0" fill="#561c53"/><rect x="307.0" y="164.0" width="10.0" height="10.0" fill="#4e194d"/><rect x="317.0" y="164.0" width="10.0" height="10.0" fill="#46174d"/><rect x="327.0" y="164.0" width="10.0" height="10.0" fill="#42164a"/><rect x="337.0" y="164.0" width="10.0" height="10.0" fill="#3f1549"/><rect x="347.0" y="164.0" width="10.0" height="10.0" fill="#3b144b"/><rect x="357.0" y="164.0" width="10.0" height="10.0" fill="#39134a"/><rect x="367.0" y="164.0" width="10.0" height="10.0" fill="#361249"/><rect x="377.0" y="164.0" width="10.0" height="10.0" fill="#331148"/><rect x="387.0" y="164.0" width="10.0" height="10.0" fill="#301046"/><rect x="397.0" y="164.0" width="10.0" height="10.0" fill="#2f1045"/><rect x="407.0" y="164.0" width="10.0" height="10.0" fill="#2d0f43"/><rect x="417.0" y="164.0" width="10.0" height="10.0" fill="#2b0f41"/><rect x="427.0" y="164.0" width="10.0" height="10.0" fill="#290e3e"/><rect x="437.0" y="164.0" width="3.2" height="10.0" fill="#14071e"/><rect x="266.9" y="174.0" width="10.1" height="10.0" fill="#551c43"/><rect x="277.0" y="174.0" width="10.0" height="10.0" fill="#772751"/><rect x="287.0" y="174.0" width="10.0" height="10.0" fill="#69224b"/><rect x="297.0" y="174.0" width="10.0" height="10.0" fill="#601f4c"/><rect x="307.0" y="174.0" width="10.0" height="10.0" fill="#581c4d"/><rect x="317.0" y="174.0" width="10.0" height="10.0" fill="#511a4e"/><rect x="327.0" y="174.0" width="10.0" height="10.0" fill="#4b184d"/><rect x="337.0" y="174.0" width="10.0" height="10.0" fill="#46174d"/><rect x="347.0" y="174.0" width="10.0" height="10.0" fill="#41164c"/><rect x="357.0" y="174.0" width="10.0" height="10.0" fill="#3e144b"/><rect x="367.0" y="174.0" width="10.0" height="10.0" fill="#3a1349"/><rect x="377.0" y="174.0" width="10.0" height="10.0" fill="#361248"/><rect x="387.0" y="174.0" width="10.0" height="10.0" fill="#341146"/><rect x="397.0" y="174.0" width="10.0" height="10.0" fill="#321145"/><rect x="407.0" y="174.0" width="10.0" height="10.0" fill="#311145"/><rect x="417.0" y="174.0" width="10.0" height="10.0" fill="#301045"/><rect x="427.0" y="174.0" width="10.0" height="10.0" fill="#2f1044"/><rect x="437.0" y="174.0" width="3.2" height="10.0" fill="#40165f"/><rect x="266.9" y="184.0" width="10.1" height="10.0" fill="#591d3f"/><rect x="277.0" y="184.0" width="10.0" height="10.0" fill="#70254b"/><rect x="287.0" y="184.0" width="10.0" height="10.0" fill="#64204a"/><rect x="297.0" y="184.0" width="10.0" height="10.0" fill="#5e1e4b"/><rect x="307.0" y="184.0" width="10.0" height="10.0" fill="#581c4b"/><rect x="317.0" y="184.0" width="10.0" height="10.0" fill="#531b4b"/><rect x="327.0" y="184.0" width="10.0" height="10.0" fill="#4e194b"/><rect x="337.0" y="184.0" width="10.0" height="10.0" fill="#4a184b"/><rect x="347.0" y="184.0" width="10.0" height="10.0" fill="#47174b"/><rect x="357.0" y="184.0" width="10.0" height="10.0" fill="#44164c"/><rect x="367.0" y="184.0" width="10.0" height="10.0" fill="#42164d"/><rect x="377.0" y="184.0" width="10.0" height="10.0" fill="#3f154d"/><rect x="387.0" y="184.0" width="10.0" height="10.0" fill="#3d144e"/><rect x="397.0" y="184.0" width="10.0" height="10.0" fill="#3b144e"/><rect x="407.0" y="184.0" width="10.0" height="10.0" fill="#39134c"/><rect x="417.0" y="184.0" width="10.0" height="10.0" fill="#36124a"/><rect x="427.0" y="184.0" width="10.0" height="10.0" fill="#331147"/><rect x="437.0" y="184.0" width="3.2" height="10.0" fill="#2a0e3a"/><rect x="266.9" y="194.0" width="10.1" height="10.0" fill="#60203f"/><rect x="277.0" y="194.0" width="10.0" height="10.0" fill="#6e2446"/><rect x="287.0" y="194.0" width="10.0" height="10.0" fill="#662148"/><rect x="297.0" y="194.0" width="10.0" height="10.0" fill="#601f4a"/><rect x="307.0" y="194.0" width="10.0" height="10.0" fill="#5c1e4c"/><rect x="317.0" y="194.0" width="10.0" height="10.0" fill="#591d4d"/><rect x="327.0" y="194.0" width="10.0" height="10.0" fill="#561c4f"/><rect x="337.0" y="194.0" width="10.0" height="10.0" fill="#521b50"/><rect x="347.0" y="194.0" width="10.0" height="10.0" fill="#4d194f"/><rect x="357.0" y="194.0" width="10.0" height="10.0" fill="#49184e"/><rect x="367.0" y="194.0" width="10.0" height="10.0" fill="#43164c"/><rect x="377.0" y="194.0" width="10.0" height="10.0" fill="#3e1449"/><rect x="387.0" y="194.0" width="10.0" height="10.0" fill="#3a1347"/><rect x="397.0" y="194.0" width="10.0" height="10.0" fill="#381346"/><rect x="407.0" y="194.0" width="10.0" height="10.0" fill="#391347"/><rect x="417.0" y="194.0" width="10.0" height="10.0" fill="#3a144a"/><rect x="427.0" y="194.0" width="10.0" height="10.0" fill="#3c144d"/><rect x="437.0" y="194.0" width="3.2" height="10.0" fill="#341146"/><rect x="266.9" y="204.0" width="10.1" height="2.9" fill="#65213f"/><rect x="277.0" y="204.0" width="10.0" height="2.9" fill="#702546"/><rect x="287.0" y="204.0" width="10.0" height="2.9" fill="#69224a"/><rect x="297.0" y="204.0" width="10.0" height="2.9" fill="#64204c"/><rect x="307.0" y="204.0" width="10.0" height="2.9" fill="#601f4e"/><rect x="317.0" y="204.0" width="10.0" height="2.9" fill="#5d1e4f"/><rect x="327.0" y="204.0" width="10.0" height="2.9" fill="#581c4f"/><rect x="337.0" y="204.0" width="10.0" height="2.9" fill="#511a4b"/><rect x="347.0" y="204.0" width="10.0" height="2.9" fill="#491848"/><rect x="357.0" y="204.0" width="10.0" height="2.9" fill="#421648"/><rect x="367.0" y="204.0" width="10.0" height="2.9" fill="#3e1448"/><rect x="377.0" y="204.0" width="10.0" height="2.9" fill="#3d1446"/><rect x="387.0" y="204.0" width="10.0" height="2.9" fill="#3f1546"/><rect x="397.0" y="204.0" width="10.0" height="2.9" fill="#44164f"/><rect x="407.0" y="204.0" width="10.0" height="2.9" fill="#461754"/><rect x="417.0" y="204.0" width="10.0" height="2.9" fill="#451754"/><rect x="427.0" y="204.0" width="10.0" height="2.9" fill="#40154f"/><rect x="437.0" y="204.0" width="3.2" height="2.9" fill="#12061a"/><rect x="506.9" y="32.9" width="10.1" height="10.1" fill="#571c48"/><rect x="517.0" y="32.9" width="10.0" height="10.1" fill="#4c194e"/><rect x="527.0" y="32.9" width="10.0" height="10.1" fill="#3b144a"/><rect x="537.0" y="32.9" width="10.0" height="10.1" fill="#290e3a"/><rect x="547.0" y="32.9" width="10.0" height="10.1" fill="#301148"/><rect x="557.0" y="32.9" width="10.0" height="10.1" fill="#260d39"/><rect x="567.0" y="32.9" width="10.0" height="10.1" fill="#200b30"/><rect x="577.0" y="32.9" width="10.0" height="10.1" fill="#1d0a2c"/><rect x="587.0" y="32.9" width="10.0" height="10.1" fill="#1d0a2c"/><rect x="597.0" y="32.9" width="10.0" height="10.1" fill="#180823"/><rect x="607.0" y="32.9" width="10.0" height="10.1" fill="#1c0a2a"/><rect x="617.0" y="32.9" width="10.0" height="10.1" fill="#170923"/><rect x="627.0" y="32.9" width="10.0" height="10.1" fill="#170923"/><rect x="637.0" y="32.9" width="10.0" height="10.1" fill="#1a0a28"/><rect x="647.0" y="32.9" width="10.0" height="10.1" fill="#180924"/><rect x="657.0" y="32.9" width="10.0" height="10.1" fill="#34283d"/><rect x="667.0" y="32.9" width="10.0" height="10.1" fill="#42374b"/><rect x="677.0" y="32.9" width="3.2" height="10.1" fill="#6d6375"/><rect x="506.9" y="43.0" width="10.1" height="10.0" fill="#601f49"/><rect x="517.0" y="43.0" width="10.0" height="10.0" fill="#541b4e"/><rect x="527.0" y="43.0" width="10.0" height="10.0" fill="#381343"/><rect x="537.0" y="43.0" width="10.0" height="10.0" fill="#2f1040"/><rect x="547.0" y="43.0" width="10.0" height="10.0" fill="#301047"/><rect x="557.0" y="43.0" width="10.0" height="10.0" fill="#1b0a29"/><rect x="567.0" y="43.0" width="10.0" height="10.0" fill="#1f0b2f"/><rect x="577.0" y="43.0" width="10.0" height="10.0" fill="#14071e"/><rect x="587.0" y="43.0" width="10.0" height="10.0" fill="#160822"/><rect x="597.0" y="43.0" width="10.0" height="10.0" fill="#14071e"/><rect x="607.0" y="43.0" width="10.0" height="10.0" fill="#100618"/><rect x="617.0" y="43.0" width="10.0" height="10.0" fill="#12071c"/><rect x="627.0" y="43.0" width="10.0" height="10.0" fill="#12071b"/><rect x="637.0" y="43.0" width="10.0" height="10.0" fill="#100618"/><rect x="647.0" y="43.0" width="10.0" height="10.0" fill="#110619"/><rect x="657.0" y="43.0" width="10.0" height="10.0" fill="#160b1e"/><rect x="667.0" y="43.0" width="10.0" height="10.0" fill="#140a1d"/><rect x="677.0" y="43.0" width="3.2" height="10.0" fill="#120919"/><rect x="506.9" y="53.0" width="10.1" height="10.0" fill="#6b234a"/><rect x="517.0" y="53.0" width="10.0" height="10.0" fill="#5b1d48"/><rect x="527.0" y="53.0" width="10.0" height="10.0" fill="#3e1443"/><rect x="537.0" y="53.0" width="10.0" height="10.0" fill="#4c1951"/><rect x="547.0" y="53.0" width="10.0" height="10.0" fill="#3a1449"/><rect x="557.0" y="53.0" width="10.0" height="10.0" fill="#3c144e"/><rect x="567.0" y="53.0" width="10.0" height="10.0" fill="#321146"/><rect x="577.0" y="53.0" width="10.0" height="10.0" fill="#3b1455"/><rect x="587.0" y="53.0" width="10.0" height="10.0" fill="#2c0f41"/><rect x="597.0" y="53.0" width="10.0" height="10.0" fill="#34124f"/><rect x="607.0" y="53.0" width="10.0" height="10.0" fill="#34124f"/><rect x="617.0" y="53.0" width="10.0" height="10.0" fill="#2c0f43"/><rect x="627.0" y="53.0" width="10.0" height="10.0" fill="#2e1046"/><rect x="637.0" y="53.0" width="10.0" height="10.0" fill="#31114b"/><rect x="647.0" y="53.0" width="10.0" height="10.0" fill="#2f1048"/><rect x="657.0" y="53.0" width="10.0" height="10.0" fill="#2c1043"/><rect x="667.0" y="53.0" width="10.0" height="10.0" fill="#2d1044"/><rect x="677.0" y="53.0" width="3.2" height="10.0" fill="#34124f"/><rect x="506.9" y="63.0" width="10.1" height="10.0" fill="#74264a"/><rect x="517.0" y="63.0" width="10.0" height="10.0" fill="#5a1d43"/><rect x="527.0" y="63.0" width="10.0" height="10.0" fill="#471742"/><rect x="537.0" y="63.0" width="10.0" height="10.0" fill="#5a1d58"/><rect x="547.0" y="63.0" width="10.0" height="10.0" fill="#371240"/><rect x="557.0" y="63.0" width="10.0" height="10.0" fill="#4f1a5b"/><rect x="567.0" y="63.0" width="10.0" height="10.0" fill="#371247"/><rect x="577.0" y="63.0" width="10.0" height="10.0" fill="#3e1553"/><rect x="587.0" y="63.0" width="10.0" height="10.0" fill="#43175b"/><rect x="597.0" y="63.0" width="10.0" height="10.0" fill="#36124d"/><rect x="607.0" y="63.0" width="10.0" height="10.0" fill="#3a1456"/><rect x="617.0" y="63.0" width="10.0" height="10.0" fill="#40165f"/><rect x="627.0" y="63.0" width="10.0" height="10.0" fill="#3b1459"/><rect x="637.0" y="63.0" width="10.0" height="10.0" fill="#371354"/><rect x="647.0" y="63.0" width="10.0" height="10.0" fill="#391457"/><rect x="657.0" y="63.0" width="10.0" height="10.0" fill="#3c155b"/><rect x="667.0" y="63.0" width="10.0" height="10.0" fill="#3c155c"/><rect x="677.0" y="63.0" width="3.2" height="10.0" fill="#381456"/><rect x="506.9" y="73.0" width="10.1" height="10.0" fill="#7c2949"/><rect x="517.0" y="73.0" width="10.0" height="10.0" fill="#571c41"/><rect x="527.0" y="73.0" width="10.0" height="10.0" fill="#5b1d47"/><rect x="537.0" y="73.0" width="10.0" height="10.0" fill="#571c4e"/><rect x="547.0" y="73.0" width="10.0" height="10.0" fill="#4a184c"/><rect x="557.0" y="73.0" width="10.0" height="10.0" fill="#45174d"/><rect x="567.0" y="73.0" width="10.0" height="10.0" fill="#521b5a"/><rect x="577.0" y="73.0" width="10.0" height="10.0" fill="#3c144b"/><rect x="587.0" y="73.0" width="10.0" height="10.0" fill="#451759"/><rect x="597.0" y="73.0" width="10.0" height="10.0" fill="#4c1a62"/><rect x="607.0" y="73.0" width="10.0" height="10.0" fill="#43175c"/><rect x="617.0" y="73.0" width="10.0" height="10.0" fill="#40165a"/><rect x="627.0" y="73.0" width="10.0" height="10.0" fill="#451763"/><rect x="637.0" y="73.0" width="10.0" height="10.0" fill="#481868"/><rect x="647.0" y="73.0" width="10.0" height="10.0" fill="#471867"/><rect x="657.0" y="73.0" width="10.0" height="10.0" fill="#441765"/><rect x="667.0" y="73.0" width="10.0" height="10.0" fill="#431764"/><rect x="677.0" y="73.0" width="3.2" height="10.0" fill="#421764"/><rect x="506.9" y="83.0" width="10.1" height="10.0" fill="#832d43"/><rect x="517.0" y="83.0" width="10.0" height="10.0" fill="#561c41"/><rect x="527.0" y="83.0" width="10.0" height="10.0" fill="#71244e"/><rect x="537.0" y="83.0" width="10.0" height="10.0" fill="#4b1842"/><rect x="547.0" y="83.0" width="10.0" height="10.0" fill="#662055"/><rect x="557.0" y="83.0" width="10.0" height="10.0" fill="#431646"/><rect x="567.0" y="83.0" width="10.0" height="10.0" fill="#521b57"/><rect x="577.0" y="83.0" width="10.0" height="10.0" fill="#551c5c"/><rect x="587.0" y="83.0" width="10.0" height="10.0" fill="#451753"/><rect x="597.0" y="83.0" width="10.0" height="10.0" fill="#471859"/><rect x="607.0" y="83.0" width="10.0" height="10.0" fill="#4f1a65"/><rect x="617.0" y="83.0" width="10.0" height="10.0" fill="#4f1a67"/><rect x="627.0" y="83.0" width="10.0" height="10.0" fill="#491964"/><rect x="637.0" y="83.0" width="10.0" height="10.0" fill="#471864"/><rect x="647.0" y="83.0" width="10.0" height="10.0" fill="#481967"/><rect x="657.0" y="83.0" width="10.0" height="10.0" fill="#4a196b"/><rect x="667.0" y="83.0" width="10.0" height="10.0" fill="#4b1a6d"/><rect x="677.0" y="83.0" width="3.2" height="10.0" fill="#531c76"/><rect x="506.9" y="93.0" width="10.1" height="10.0" fill="#88303f"/><rect x="517.0" y="93.0" width="10.0" height="10.0" fill="#5b1e3e"/><rect x="527.0" y="93.0" width="10.0" height="10.0" fill="#7e294e"/><rect x="537.0" y="93.0" width="10.0" height="10.0" fill="#4e1940"/><rect x="547.0" y="93.0" width="10.0" height="10.0" fill="#642052"/><rect x="557.0" y="93.0" width="10.0" height="10.0" fill="#5f1f54"/><rect x="567.0" y="93.0" width="10.0" height="10.0" fill="#481849"/><rect x="577.0" y="93.0" width="10.0" height="10.0" fill="#561c5a"/><rect x="587.0" y="93.0" width="10.0" height="10.0" fill="#5c1e5f"/><rect x="597.0" y="93.0" width="10.0" height="10.0" fill="#511b5f"/><rect x="607.0" y="93.0" width="10.0" height="10.0" fill="#4b195e"/><rect x="617.0" y="93.0" width="10.0" height="10.0" fill="#4e1a63"/><rect x="627.0" y="93.0" width="10.0" height="10.0" fill="#521b69"/><rect x="637.0" y="93.0" width="10.0" height="10.0" fill="#531c6d"/><rect x="647.0" y="93.0" width="10.0" height="10.0" fill="#511b6e"/><rect x="657.0" y="93.0" width="10.0" height="10.0" fill="#4f1b6d"/><rect x="667.0" y="93.0" width="10.0" height="10.0" fill="#4e1a6d"/><rect x="677.0" y="93.0" width="3.2" height="10.0" fill="#411662"/><rect x="506.9" y="103.0" width="10.1" height="10.0" fill="#8a343a"/><rect x="517.0" y="103.0" width="10.0" height="10.0" fill="#67233c"/><rect x="527.0" y="103.0" width="10.0" height="10.0" fill="#7a2849"/><rect x="537.0" y="103.0" width="10.0" height="10.0" fill="#67224a"/><rect x="547.0" y="103.0" width="10.0" height="10.0" fill="#531b44"/><rect x="557.0" y="103.0" width="10.0" height="10.0" fill="#6f2353"/><rect x="567.0" y="103.0" width="10.0" height="10.0" fill="#611f56"/><rect x="577.0" y="103.0" width="10.0" height="10.0" fill="#501a50"/><rect x="587.0" y="103.0" width="10.0" height="10.0" fill="#551c59"/><rect x="597.0" y="103.0" width="10.0" height="10.0" fill="#5d1e63"/><rect x="607.0" y="103.0" width="10.0" height="10.0" fill="#5c1e67"/><rect x="617.0" y="103.0" width="10.0" height="10.0" fill="#571d68"/><rect x="627.0" y="103.0" width="10.0" height="10.0" fill="#531c68"/><rect x="637.0" y="103.0" width="10.0" height="10.0" fill="#521b6a"/><rect x="647.0" y="103.0" width="10.0" height="10.0" fill="#531c6d"/><rect x="657.0" y="103.0" width="10.0" height="10.0" fill="#531c6f"/><rect x="667.0" y="103.0" width="10.0" height="10.0" fill="#541c71"/><rect x="677.0" y="103.0" width="3.2" height="10.0" fill="#60207e"/><rect x="506.9" y="113.0" width="10.1" height="10.0" fill="#8b3637"/><rect x="517.0" y="113.0" width="10.0" height="10.0" fill="#782a3e"/><rect x="527.0" y="113.0" width="10.0" height="10.0" fill="#6d2443"/><rect x="537.0" y="113.0" width="10.0" height="10.0" fill="#822b4a"/><rect x="547.0" y="113.0" width="10.0" height="10.0" fill="#5a1d45"/><rect x="557.0" y="113.0" width="10.0" height="10.0" fill="#5d1e4c"/><rect x="567.0" y="113.0" width="10.0" height="10.0" fill="#6f2455"/><rect x="577.0" y="113.0" width="10.0" height="10.0" fill="#6a2259"/><rect x="587.0" y="113.0" width="10.0" height="10.0" fill="#5c1e5b"/><rect x="597.0" y="113.0" width="10.0" height="10.0" fill="#581d5d"/><rect x="607.0" y="113.0" width="10.0" height="10.0" fill="#591d64"/><rect x="617.0" y="113.0" width="10.0" height="10.0" fill="#5c1e69"/><rect x="627.0" y="113.0" width="10.0" height="10.0" fill="#5e1f6c"/><rect x="637.0" y="113.0" width="10.0" height="10.0" fill="#5d1f6f"/><rect x="647.0" y="113.0" width="10.0" height="10.0" fill="#5b1e71"/><rect x="657.0" y="113.0" width="10.0" height="10.0" fill="#5a1e72"/><rect x="667.0" y="113.0" width="10.0" height="10.0" fill="#581d73"/><rect x="677.0" y="113.0" width="3.2" height="10.0" fill="#4d1a6c"/><rect x="506.9" y="123.0" width="10.1" height="10.0" fill="#8c3935"/><rect x="517.0" y="123.0" width="10.0" height="10.0" fill="#8c353d"/><rect x="527.0" y="123.0" width="10.0" height="10.0" fill="#622239"/><rect x="537.0" y="123.0" width="10.0" height="10.0" fill="#862d47"/><rect x="547.0" y="123.0" width="10.0" height="10.0" fill="#79284c"/><rect x="557.0" y="123.0" width="10.0" height="10.0" fill="#602049"/><rect x="567.0" y="123.0" width="10.0" height="10.0" fill="#61204e"/><rect x="577.0" y="123.0" width="10.0" height="10.0" fill="#6c2359"/><rect x="587.0" y="123.0" width="10.0" height="10.0" fill="#70245d"/><rect x="597.0" y="123.0" width="10.0" height="10.0" fill="#6b2262"/><rect x="607.0" y="123.0" width="10.0" height="10.0" fill="#662166"/><rect x="617.0" y="123.0" width="10.0" height="10.0" fill="#622068"/><rect x="627.0" y="123.0" width="10.0" height="10.0" fill="#601f6b"/><rect x="637.0" y="123.0" width="10.0" height="10.0" fill="#5f1f6e"/><rect x="647.0" y="123.0" width="10.0" height="10.0" fill="#5f1f70"/><rect x="657.0" y="123.0" width="10.0" height="10.0" fill="#5e1f72"/><rect x="667.0" y="123.0" width="10.0" height="10.0" fill="#5e1f74"/><rect x="677.0" y="123.0" width="3.2" height="10.0" fill="#632078"/><rect x="506.9" y="133.0" width="10.1" height="10.0" fill="#8d3c34"/><rect x="517.0" y="133.0" width="10.0" height="10.0" fill="#9d4036"/><rect x="527.0" y="133.0" width="10.0" height="10.0" fill="#692637"/><rect x="537.0" y="133.0" width="10.0" height="10.0" fill="#752845"/><rect x="547.0" y="133.0" width="10.0" height="10.0" fill="#862d48"/><rect x="557.0" y="133.0" width="10.0" height="10.0" fill="#7d294e"/><rect x="567.0" y="133.0" width="10.0" height="10.0" fill="#6d2452"/><rect x="577.0" y="133.0" width="10.0" height="10.0" fill="#672253"/><rect x="587.0" y="133.0" width="10.0" height="10.0" fill="#6a225a"/><rect x="597.0" y="133.0" width="10.0" height="10.0" fill="#6d2361"/><rect x="607.0" y="133.0" width="10.0" height="10.0" fill="#6e2366"/><rect x="617.0" y="133.0" width="10.0" height="10.0" fill="#6d2369"/><rect x="627.0" y="133.0" width="10.0" height="10.0" fill="#6c236c"/><rect x="637.0" y="133.0" width="10.0" height="10.0" fill="#6a226f"/><rect x="647.0" y="133.0" width="10.0" height="10.0" fill="#682271"/><rect x="657.0" y="133.0" width="10.0" height="10.0" fill="#662273"/><rect x="667.0" y="133.0" width="10.0" height="10.0" fill="#652175"/><rect x="677.0" y="133.0" width="3.2" height="10.0" fill="#682275"/><rect x="506.9" y="143.0" width="10.1" height="10.0" fill="#8d3f35"/><rect x="517.0" y="143.0" width="10.0" height="10.0" fill="#a5492e"/><rect x="527.0" y="143.0" width="10.0" height="10.0" fill="#7f2f3e"/><rect x="537.0" y="143.0" width="10.0" height="10.0" fill="#6d2739"/><rect x="547.0" y="143.0" width="10.0" height="10.0" fill="#7a2a49"/><rect x="557.0" y="143.0" width="10.0" height="10.0" fill="#842c4c"/><rect x="567.0" y="143.0" width="10.0" height="10.0" fill="#822b50"/><rect x="577.0" y="143.0" width="10.0" height="10.0" fill="#7c2856"/><rect x="587.0" y="143.0" width="10.0" height="10.0" fill="#76265c"/><rect x="597.0" y="143.0" width="10.0" height="10.0" fill="#732560"/><rect x="607.0" y="143.0" width="10.0" height="10.0" fill="#722565"/><rect x="617.0" y="143.0" width="10.0" height="10.0" fill="#712468"/><rect x="627.0" y="143.0" width="10.0" height="10.0" fill="#6f246b"/><rect x="637.0" y="143.0" width="10.0" height="10.0" fill="#6e246e"/><rect x="647.0" y="143.0" width="10.0" height="10.0" fill="#6d2371"/><rect x="657.0" y="143.0" width="10.0" height="10.0" fill="#6d2373"/><rect x="667.0" y="143.0" width="10.0" height="10.0" fill="#6c2376"/><rect x="677.0" y="143.0" width="3.2" height="10.0" fill="#5f1f78"/><rect x="506.9" y="153.0" width="10.1" height="10.0" fill="#8c4337"/><rect x="517.0" y="153.0" width="10.0" height="10.0" fill="#a54e2d"/><rect x="527.0" y="153.0" width="10.0" height="10.0" fill="#963b38"/><rect x="537.0" y="153.0" width="10.0" height="10.0" fill="#7c2d3f"/><rect x="547.0" y="153.0" width="10.0" height="10.0" fill="#75293f"/><rect x="557.0" y="153.0" width="10.0" height="10.0" fill="#7a2a4a"/><rect x="567.0" y="153.0" width="10.0" height="10.0" fill="#7f2a51"/><rect x="577.0" y="153.0" width="10.0" height="10.0" fill="#802a56"/><rect x="587.0" y="153.0" width="10.0" height="10.0" fill="#802a5b"/><rect x="597.0" y="153.0" width="10.0" height="10.0" fill="#7f295f"/><rect x="607.0" y="153.0" width="10.0" height="10.0" fill="#7d2864"/><rect x="617.0" y="153.0" width="10.0" height="10.0" fill="#7b2767"/><rect x="627.0" y="153.0" width="10.0" height="10.0" fill="#78276b"/><rect x="637.0" y="153.0" width="10.0" height="10.0" fill="#76266e"/><rect x="647.0" y="153.0" width="10.0" height="10.0" fill="#742571"/><rect x="657.0" y="153.0" width="10.0" height="10.0" fill="#732573"/><rect x="667.0" y="153.0" width="10.0" height="10.0" fill="#722576"/><rect x="677.0" y="153.0" width="3.2" height="10.0" fill="#852a74"/><rect x="506.9" y="163.0" width="10.1" height="10.0" fill="#8c4939"/><rect x="517.0" y="163.0" width="10.0" height="10.0" fill="#a34e31"/><rect x="527.0" y="163.0" width="10.0" height="10.0" fill="#9c4530"/><rect x="537.0" y="163.0" width="10.0" height="10.0" fill="#92383b"/><rect x="547.0" y="163.0" width="10.0" height="10.0" fill="#853043"/><rect x="557.0" y="163.0" width="10.0" height="10.0" fill="#812d47"/><rect x="567.0" y="163.0" width="10.0" height="10.0" fill="#812c4d"/><rect x="577.0" y="163.0" width="10.0" height="10.0" fill="#822b54"/><rect x="587.0" y="163.0" width="10.0" height="10.0" fill="#832b5a"/><rect x="597.0" y="163.0" width="10.0" height="10.0" fill="#832b5f"/><rect x="607.0" y="163.0" width="10.0" height="10.0" fill="#832a64"/><rect x="617.0" y="163.0" width="10.0" height="10.0" fill="#822a67"/><rect x="627.0" y="163.0" width="10.0" height="10.0" fill="#80296a"/><rect x="637.0" y="163.0" width="10.0" height="10.0" fill="#7f286d"/><rect x="647.0" y="163.0" width="10.0" height="10.0" fill="#7e2870"/><rect x="657.0" y="163.0" width="10.0" height="10.0" fill="#7d2873"/><rect x="667.0" y="163.0" width="10.0" height="10.0" fill="#7b2875"/><rect x="677.0" y="163.0" width="3.2" height="10.0" fill="#66227e"/><rect x="506.9" y="173.0" width="10.1" height="10.0" fill="#8e513e"/><rect x="517.0" y="173.0" width="10.0" height="10.0" fill="#9f4f37"/><rect x="527.0" y="173.0" width="10.0" height="10.0" fill="#9c4730"/><rect x="537.0" y="173.0" width="10.0" height="10.0" fill="#963f35"/><rect x="547.0" y="173.0" width="10.0" height="10.0" fill="#91383c"/><rect x="557.0" y="173.0" width="10.0" height="10.0" fill="#8e3444"/><rect x="567.0" y="173.0" width="10.0" height="10.0" fill="#8d314c"/><rect x="577.0" y="173.0" width="10.0" height="10.0" fill="#8c3053"/><rect x="587.0" y="173.0" width="10.0" height="10.0" fill="#8b2e59"/><rect x="597.0" y="173.0" width="10.0" height="10.0" fill="#8a2d5f"/><rect x="607.0" y="173.0" width="10.0" height="10.0" fill="#892d64"/><rect x="617.0" y="173.0" width="10.0" height="10.0" fill="#882c68"/><rect x="627.0" y="173.0" width="10.0" height="10.0" fill="#862b6b"/><rect x="637.0" y="173.0" width="10.0" height="10.0" fill="#842a6e"/><rect x="647.0" y="173.0" width="10.0" height="10.0" fill="#842a71"/><rect x="657.0" y="173.0" width="10.0" height="10.0" fill="#842a72"/><rect x="667.0" y="173.0" width="10.0" height="10.0" fill="#852a74"/><rect x="677.0" y="173.0" width="3.2" height="10.0" fill="#962f6d"/><rect x="506.9" y="183.0" width="10.1" height="10.0" fill="#945b44"/><rect x="517.0" y="183.0" width="10.0" height="10.0" fill="#9a533c"/><rect x="527.0" y="183.0" width="10.0" height="10.0" fill="#994834"/><rect x="537.0" y="183.0" width="10.0" height="10.0" fill="#954135"/><rect x="547.0" y="183.0" width="10.0" height="10.0" fill="#913a3b"/><rect x="557.0" y="183.0" width="10.0" height="10.0" fill="#923841"/><rect x="567.0" y="183.0" width="10.0" height="10.0" fill="#933649"/><rect x="577.0" y="183.0" width="10.0" height="10.0" fill="#943550"/><rect x="587.0" y="183.0" width="10.0" height="10.0" fill="#953357"/><rect x="597.0" y="183.0" width="10.0" height="10.0" fill="#96325d"/><rect x="607.0" y="183.0" width="10.0" height="10.0" fill="#963162"/><rect x="617.0" y="183.0" width="10.0" height="10.0" fill="#953165"/><rect x="627.0" y="183.0" width="10.0" height="10.0" fill="#943068"/><rect x="637.0" y="183.0" width="10.0" height="10.0" fill="#922f6b"/><rect x="647.0" y="183.0" width="10.0" height="10.0" fill="#902e6e"/><rect x="657.0" y="183.0" width="10.0" height="10.0" fill="#8e2d70"/><rect x="667.0" y="183.0" width="10.0" height="10.0" fill="#8d2d72"/><rect x="677.0" y="183.0" width="3.2" height="10.0" fill="#852b76"/><rect x="506.9" y="193.0" width="10.1" height="10.0" fill="#9d6650"/><rect x="517.0" y="193.0" width="10.0" height="10.0" fill="#9c5a3d"/><rect x="527.0" y="193.0" width="10.0" height="10.0" fill="#994c35"/><rect x="537.0" y="193.0" width="10.0" height="10.0" fill="#974434"/><rect x="547.0" y="193.0" width="10.0" height="10.0" fill="#973e3a"/><rect x="557.0" y="193.0" width="10.0" height="10.0" fill="#9a3d40"/><rect x="567.0" y="193.0" width="10.0" height="10.0" fill="#9e3c46"/><rect x="577.0" y="193.0" width="10.0" height="10.0" fill="#9f3a4c"/><rect x="587.0" y="193.0" width="10.0" height="10.0" fill="#9e3853"/><rect x="597.0" y="193.0" width="10.0" height="10.0" fill="#9c355a"/><rect x="607.0" y="193.0" width="10.0" height="10.0" fill="#9a3361"/><rect x="617.0" y="193.0" width="10.0" height="10.0" fill="#963166"/><rect x="627.0" y="193.0" width="10.0" height="10.0" fill="#94306a"/><rect x="637.0" y="193.0" width="10.0" height="10.0" fill="#932f6d"/><rect x="647.0" y="193.0" width="10.0" height="10.0" fill="#94306d"/><rect x="657.0" y="193.0" width="10.0" height="10.0" fill="#96306c"/><rect x="667.0" y="193.0" width="10.0" height="10.0" fill="#99316b"/><rect x="677.0" y="193.0" width="3.2" height="10.0" fill="#932f6e"/><rect x="506.9" y="203.0" width="10.1" height="2.9" fill="#a36d59"/><rect x="517.0" y="203.0" width="10.0" height="2.9" fill="#a16041"/><rect x="527.0" y="203.0" width="10.0" height="2.9" fill="#9e5136"/><rect x="537.0" y="203.0" width="10.0" height="2.9" fill="#9d4835"/><rect x="547.0" y="203.0" width="10.0" height="2.9" fill="#9c423a"/><rect x="557.0" y="203.0" width="10.0" height="2.9" fill="#9f403e"/><rect x="567.0" y="203.0" width="10.0" height="2.9" fill="#9f3e3f"/><rect x="577.0" y="203.0" width="10.0" height="2.9" fill="#9c3b48"/><rect x="587.0" y="203.0" width="10.0" height="2.9" fill="#993754"/><rect x="597.0" y="203.0" width="10.0" height="2.9" fill="#97345e"/><rect x="607.0" y="203.0" width="10.0" height="2.9" fill="#983265"/><rect x="617.0" y="203.0" width="10.0" height="2.9" fill="#983267"/><rect x="627.0" y="203.0" width="10.0" height="2.9" fill="#9b3368"/><rect x="637.0" y="203.0" width="10.0" height="2.9" fill="#a03466"/><rect x="647.0" y="203.0" width="10.0" height="2.9" fill="#a33465"/><rect x="657.0" y="203.0" width="10.0" height="2.9" fill="#a23466"/><rect x="667.0" y="203.0" width="10.0" height="2.9" fill="#9d3268"/><rect x="677.0" y="203.0" width="3.2" height="2.9" fill="#7b287b"/><rect x="31.0" y="291.0" width="10.0" height="10.0" fill="#561c41"/><rect x="41.0" y="291.0" width="10.0" height="10.0" fill="#5c1e4f"/><rect x="51.0" y="291.0" width="10.0" height="10.0" fill="#5c1d4f"/><rect x="61.0" y="291.0" width="10.0" height="10.0" fill="#501a53"/><rect x="71.0" y="291.0" width="10.0" height="10.0" fill="#3d144b"/><rect x="81.0" y="291.0" width="10.0" height="10.0" fill="#33113f"/><rect x="91.0" y="291.0" width="10.0" height="10.0" fill="#321140"/><rect x="101.0" y="291.0" width="10.0" height="10.0" fill="#361248"/><rect x="111.0" y="291.0" width="10.0" height="10.0" fill="#391349"/><rect x="121.0" y="291.0" width="10.0" height="10.0" fill="#341144"/><rect x="131.0" y="291.0" width="10.0" height="10.0" fill="#2a0e39"/><rect x="141.0" y="291.0" width="10.0" height="10.0" fill="#260d33"/><rect x="151.0" y="291.0" width="10.0" height="10.0" fill="#270e35"/><rect x="161.0" y="291.0" width="10.0" height="10.0" fill="#2c0f3c"/><rect x="171.0" y="291.0" width="10.0" height="10.0" fill="#2d0f3b"/><rect x="181.0" y="291.0" width="10.0" height="10.0" fill="#60496c"/><rect x="191.0" y="291.0" width="9.2" height="10.0" fill="#5f4b69"/><rect x="31.0" y="301.0" width="10.0" height="10.0" fill="#5d1f40"/><rect x="41.0" y="301.0" width="10.0" height="10.0" fill="#5f1f4f"/><rect x="51.0" y="301.0" width="10.0" height="10.0" fill="#511a51"/><rect x="61.0" y="301.0" width="10.0" height="10.0" fill="#35124a"/><rect x="71.0" y="301.0" width="10.0" height="10.0" fill="#1d0a2c"/><rect x="81.0" y="301.0" width="10.0" height="10.0" fill="#14071e"/><rect x="91.0" y="301.0" width="10.0" height="10.0" fill="#14071e"/><rect x="101.0" y="301.0" width="10.0" height="10.0" fill="#14071e"/><rect x="111.0" y="301.0" width="10.0" height="10.0" fill="#11061a"/><rect x="121.0" y="301.0" width="10.0" height="10.0" fill="#100618"/><rect x="131.0" y="301.0" width="10.0" height="10.0" fill="#12071b"/><rect x="141.0" y="301.0" width="10.0" height="10.0" fill="#180823"/><rect x="151.0" y="301.0" width="10.0" height="10.0" fill="#1b0a29"/><rect x="161.0" y="301.0" width="10.0" height="10.0" fill="#190926"/><rect x="171.0" y="301.0" width="10.0" height="10.0" fill="#170823"/><rect x="181.0" y="301.0" width="10.0" height="10.0" fill="#21122d"/><rect x="191.0" y="301.0" width="9.2" height="10.0" fill="#251433"/><rect x="31.0" y="311.0" width="10.0" height="10.0" fill="#632140"/><rect x="41.0" y="311.0" width="10.0" height="10.0" fill="#63204f"/><rect x="51.0" y="311.0" width="10.0" height="10.0" fill="#4a1854"/><rect x="61.0" y="311.0" width="10.0" height="10.0" fill="#260d39"/><rect x="71.0" y="311.0" width="10.0" height="10.0" fill="#14071e"/><rect x="81.0" y="311.0" width="10.0" height="10.0" fill="#12071b"/><rect x="91.0" y="311.0" width="10.0" height="10.0" fill="#170823"/><rect x="101.0" y="311.0" width="10.0" height="10.0" fill="#160822"/><rect x="111.0" y="311.0" width="10.0" height="10.0" fill="#13071d"/><rect x="121.0" y="311.0" width="10.0" height="10.0" fill="#14071e"/><rect x="131.0" y="311.0" width="10.0" height="10.0" fill="#160821"/><rect x="141.0" y="311.0" width="10.0" height="10.0" fill="#150820"/><rect x="151.0" y="311.0" width="10.0" height="10.0" fill="#100618"/><rect x="161.0" y="311.0" width="10.0" height="10.0" fill="#0e0515"/><rect x="171.0" y="311.0" width="10.0" height="10.0" fill="#110619"/><rect x="181.0" y="311.0" width="10.0" height="10.0" fill="#15071f"/><rect x="191.0" y="311.0" width="9.2" height="10.0" fill="#14071e"/><rect x="31.0" y="321.0" width="10.0" height="10.0" fill="#67223f"/><rect x="41.0" y="321.0" width="10.0" height="10.0" fill="#6c234f"/><rect x="51.0" y="321.0" width="10.0" height="10.0" fill="#521b56"/><rect x="61.0" y="321.0" width="10.0" height="10.0" fill="#2f1042"/><rect x="71.0" y="321.0" width="10.0" height="10.0" fill="#2b0e3b"/><rect x="81.0" y="321.0" width="10.0" height="10.0" fill="#36124a"/><rect x="91.0" y="321.0" width="10.0" height="10.0" fill="#3a134f"/><rect x="101.0" y="321.0" width="10.0" height="10.0" fill="#290e3e"/><rect x="111.0" y="321.0" width="10.0" height="10.0" fill="#200b31"/><rect x="121.0" y="321.0" width="10.0" height="10.0" fill="#240d36"/><rect x="131.0" y="321.0" width="10.0" height="10.0" fill="#270e3b"/><rect x="141.0" y="321.0" width="10.0" height="10.0" fill="#220c33"/><rect x="151.0" y="321.0" width="10.0" height="10.0" fill="#220c32"/><rect x="161.0" y="321.0" width="10.0" height="10.0" fill="#290e3d"/><rect x="171.0" y="321.0" width="10.0" height="10.0" fill="#2b0f42"/><rect x="181.0" y="321.0" width="10.0" height="10.0" fill="#220c34"/><rect x="191.0" y="321.0" width="9.2" height="10.0" fill="#1f0b2f"/><rect x="31.0" y="331.0" width="10.0" height="10.0" fill="#6b253f"/><rect x="41.0" y="331.0" width="10.0" height="10.0" fill="#72254f"/><rect x="51.0" y="331.0" width="10.0" height="10.0" fill="#541b57"/><rect x="61.0" y="331.0" width="10.0" height="10.0" fill="#3d1441"/><rect x="71.0" y="331.0" width="10.0" height="10.0" fill="#4b184c"/><rect x="81.0" y="331.0" width="10.0" height="10.0" fill="#581c54"/><rect x="91.0" y="331.0" width="10.0" height="10.0" fill="#411653"/><rect x="101.0" y="331.0" width="10.0" height="10.0" fill="#290e3d"/><rect x="111.0" y="331.0" width="10.0" height="10.0" fill="#33114a"/><rect x="121.0" y="331.0" width="10.0" height="10.0" fill="#441757"/><rect x="131.0" y="331.0" width="10.0" height="10.0" fill="#3a144f"/><rect x="141.0" y="331.0" width="10.0" height="10.0" fill="#2d0f40"/><rect x="151.0" y="331.0" width="10.0" height="10.0" fill="#301148"/><rect x="161.0" y="331.0" width="10.0" height="10.0" fill="#371350"/><rect x="171.0" y="331.0" width="10.0" height="10.0" fill="#311145"/><rect x="181.0" y="331.0" width="10.0" height="10.0" fill="#301043"/><rect x="191.0" y="331.0" width="9.2" height="10.0" fill="#35124c"/><rect x="31.0" y="341.0" width="10.0" height="10.0" fill="#71293d"/><rect x="41.0" y="341.0" width="10.0" height="10.0" fill="#762650"/><rect x="51.0" y="341.0" width="10.0" height="10.0" fill="#591d54"/><rect x="61.0" y="341.0" width="10.0" height="10.0" fill="#501a3e"/><rect x="71.0" y="341.0" width="10.0" height="10.0" fill="#611f51"/><rect x="81.0" y="341.0" width="10.0" height="10.0" fill="#551c58"/><rect x="91.0" y="341.0" width="10.0" height="10.0" fill="#351249"/><rect x="101.0" y="341.0" width="10.0" height="10.0" fill="#3c144a"/><rect x="111.0" y="341.0" width="10.0" height="10.0" fill="#521b59"/><rect x="121.0" y="341.0" width="10.0" height="10.0" fill="#421657"/><rect x="131.0" y="341.0" width="10.0" height="10.0" fill="#2d1043"/><rect x="141.0" y="341.0" width="10.0" height="10.0" fill="#3b1451"/><rect x="151.0" y="341.0" width="10.0" height="10.0" fill="#4a195c"/><rect x="161.0" y="341.0" width="10.0" height="10.0" fill="#3a1450"/><rect x="171.0" y="341.0" width="10.0" height="10.0" fill="#321148"/><rect x="181.0" y="341.0" width="10.0" height="10.0" fill="#401657"/><rect x="191.0" y="341.0" width="9.2" height="10.0" fill="#421659"/><rect x="31.0" y="351.0" width="10.0" height="10.0" fill="#742b3a"/><rect x="41.0" y="351.0" width="10.0" height="10.0" fill="#6d235d"/><rect x="51.0" y="351.0" width="10.0" height="10.0" fill="#5c1e4e"/><rect x="61.0" y="351.0" width="10.0" height="10.0" fill="#61203e"/><rect x="71.0" y="351.0" width="10.0" height="10.0" fill="#5f1f56"/><rect x="81.0" y="351.0" width="10.0" height="10.0" fill="#45175b"/><rect x="91.0" y="351.0" width="10.0" height="10.0" fill="#481847"/><rect x="101.0" y="351.0" width="10.0" height="10.0" fill="#581d57"/><rect x="111.0" y="351.0" width="10.0" height="10.0" fill="#48185e"/><rect x="121.0" y="351.0" width="10.0" height="10.0" fill="#3b144f"/><rect x="131.0" y="351.0" width="10.0" height="10.0" fill="#4d1959"/><rect x="141.0" y="351.0" width="10.0" height="10.0" fill="#521b62"/><rect x="151.0" y="351.0" width="10.0" height="10.0" fill="#3f165b"/><rect x="161.0" y="351.0" width="10.0" height="10.0" fill="#431758"/><rect x="171.0" y="351.0" width="10.0" height="10.0" fill="#551c65"/><rect x="181.0" y="351.0" width="10.0" height="10.0" fill="#4a1963"/><rect x="191.0" y="351.0" width="9.2" height="10.0" fill="#42165c"/><rect x="31.0" y="361.0" width="10.0" height="10.0" fill="#792e37"/><rect x="41.0" y="361.0" width="10.0" height="10.0" fill="#642178"/><rect x="51.0" y="361.0" width="10.0" height="10.0" fill="#692342"/><rect x="61.0" y="361.0" width="10.0" height="10.0" fill="#682340"/><rect x="71.0" y="361.0" width="10.0" height="10.0" fill="#501b6a"/><rect x="81.0" y="361.0" width="10.0" height="10.0" fill="#571c4e"/><rect x="91.0" y="361.0" width="10.0" height="10.0" fill="#5e1e4c"/><rect x="101.0" y="361.0" width="10.0" height="10.0" fill="#511b6b"/><rect x="111.0" y="361.0" width="10.0" height="10.0" fill="#551c5f"/><rect x="121.0" y="361.0" width="10.0" height="10.0" fill="#5c1e5a"/><rect x="131.0" y="361.0" width="10.0" height="10.0" fill="#571d71"/><rect x="141.0" y="361.0" width="10.0" height="10.0" fill="#591d6c"/><rect x="151.0" y="361.0" width="10.0" height="10.0" fill="#5e1f66"/><rect x="161.0" y="361.0" width="10.0" height="10.0" fill="#5d1f75"/><rect x="171.0" y="361.0" width="10.0" height="10.0" fill="#5d1f73"/><rect x="181.0" y="361.0" width="10.0" height="10.0" fill="#5f1f6c"/><rect x="191.0" y="361.0" width="9.2" height="10.0" fill="#622077"/><rect x="31.0" y="371.0" width="10.0" height="10.0" fill="#823337"/><rect x="41.0" y="371.0" width="10.0" height="10.0" fill="#72256d"/><rect x="51.0" y="371.0" width="10.0" height="10.0" fill="#7a2e38"/><rect x="61.0" y="371.0" width="10.0" height="10.0" fill="#67224f"/><rect x="71.0" y="371.0" width="10.0" height="10.0" fill="#61205b"/><rect x="81.0" y="371.0" width="10.0" height="10.0" fill="#6e244a"/><rect x="91.0" y="371.0" width="10.0" height="10.0" fill="#591d64"/><rect x="101.0" y="371.0" width="10.0" height="10.0" fill="#6a2360"/><rect x="111.0" y="371.0" width="10.0" height="10.0" fill="#6e2363"/><rect x="121.0" y="371.0" width="10.0" height="10.0" fill="#612072"/><rect x="131.0" y="371.0" width="10.0" height="10.0" fill="#75266c"/><rect x="141.0" y="371.0" width="10.0" height="10.0" fill="#6f2473"/><rect x="151.0" y="371.0" width="10.0" height="10.0" fill="#6c237a"/><rect x="161.0" y="371.0" width="10.0" height="10.0" fill="#7b2873"/><rect x="171.0" y="371.0" width="10.0" height="10.0" fill="#70247b"/><rect x="181.0" y="371.0" width="10.0" height="10.0" fill="#75267b"/><rect x="191.0" y="371.0" width="9.2" height="10.0" fill="#7b2778"/><rect x="31.0" y="381.0" width="10.0" height="10.0" fill="#8f3a38"/><rect x="41.0" y="381.0" width="10.0" height="10.0" fill="#872d51"/><rect x="51.0" y="381.0" width="10.0" height="10.0" fill="#853437"/><rect x="61.0" y="381.0" width="10.0" height="10.0" fill="#6f2356"/><rect x="71.0" y="381.0" width="10.0" height="10.0" fill="#7b2a46"/><rect x="81.0" y="381.0" width="10.0" height="10.0" fill="#6e2356"/><rect x="91.0" y="381.0" width="10.0" height="10.0" fill="#6c2458"/><rect x="101.0" y="381.0" width="10.0" height="10.0" fill="#80295e"/><rect x="111.0" y="381.0" width="10.0" height="10.0" fill="#6c236e"/><rect x="121.0" y="381.0" width="10.0" height="10.0" fill="#832a69"/><rect x="131.0" y="381.0" width="10.0" height="10.0" fill="#7c2872"/><rect x="141.0" y="381.0" width="10.0" height="10.0" fill="#7e2876"/><rect x="151.0" y="381.0" width="10.0" height="10.0" fill="#8a2c71"/><rect x="161.0" y="381.0" width="10.0" height="10.0" fill="#7f2978"/><rect x="171.0" y="381.0" width="10.0" height="10.0" fill="#8b2c73"/><rect x="181.0" y="381.0" width="10.0" height="10.0" fill="#8a2c73"/><rect x="191.0" y="381.0" width="9.2" height="10.0" fill="#892c74"/><rect x="31.0" y="391.0" width="10.0" height="10.0" fill="#994139"/><rect x="41.0" y="391.0" width="10.0" height="10.0" fill="#92383f"/><rect x="51.0" y="391.0" width="10.0" height="10.0" fill="#8b353c"/><rect x="61.0" y="391.0" width="10.0" height="10.0" fill="#752843"/><rect x="71.0" y="391.0" width="10.0" height="10.0" fill="#862e47"/><rect x="81.0" y="391.0" width="10.0" height="10.0" fill="#682256"/><rect x="91.0" y="391.0" width="10.0" height="10.0" fill="#872d56"/><rect x="101.0" y="391.0" width="10.0" height="10.0" fill="#782768"/><rect x="111.0" y="391.0" width="10.0" height="10.0" fill="#8a2d68"/><rect x="121.0" y="391.0" width="10.0" height="10.0" fill="#8a2d6d"/><rect x="131.0" y="391.0" width="10.0" height="10.0" fill="#8c2d70"/><rect x="141.0" y="391.0" width="10.0" height="10.0" fill="#98316b"/><rect x="151.0" y="391.0" width="10.0" height="10.0" fill="#942f6e"/><rect x="161.0" y="391.0" width="10.0" height="10.0" fill="#9b316a"/><rect x="171.0" y="391.0" width="10.0" height="10.0" fill="#9b316a"/><rect x="181.0" y="391.0" width="10.0" height="10.0" fill="#9d3269"/><rect x="191.0" y="391.0" width="9.2" height="10.0" fill="#9e3269"/><rect x="31.0" y="401.0" width="10.0" height="10.0" fill="#a54939"/><rect x="41.0" y="401.0" width="10.0" height="10.0" fill="#994332"/><rect x="51.0" y="401.0" width="10.0" height="10.0" fill="#8d333e"/><rect x="61.0" y="401.0" width="10.0" height="10.0" fill="#7d323b"/><rect x="71.0" y="401.0" width="10.0" height="10.0" fill="#812b4c"/><rect x="81.0" y="401.0" width="10.0" height="10.0" fill="#7b2a54"/><rect x="91.0" y="401.0" width="10.0" height="10.0" fill="#8a3058"/><rect x="101.0" y="401.0" width="10.0" height="10.0" fill="#8c2e66"/><rect x="111.0" y="401.0" width="10.0" height="10.0" fill="#9c3464"/><rect x="121.0" y="401.0" width="10.0" height="10.0" fill="#9c3268"/><rect x="131.0" y="401.0" width="10.0" height="10.0" fill="#a43564"/><rect x="141.0" y="401.0" width="10.0" height="10.0" fill="#a53564"/><rect x="151.0" y="401.0" width="10.0" height="10.0" fill="#a63563"/><rect x="161.0" y="401.0" width="10.0" height="10.0" fill="#a63564"/><rect x="171.0" y="401.0" width="10.0" height="10.0" fill="#a73563"/><rect x="181.0" y="401.0" width="10.0" height="10.0" fill="#a63564"/><rect x="191.0" y="401.0" width="9.2" height="10.0" fill="#a73563"/><rect x="31.0" y="411.0" width="10.0" height="10.0" fill="#b05338"/><rect x="41.0" y="411.0" width="10.0" height="10.0" fill="#9c4d2e"/><rect x="51.0" y="411.0" width="10.0" height="10.0" fill="#8a333b"/><rect x="61.0" y="411.0" width="10.0" height="10.0" fill="#89373c"/><rect x="71.0" y="411.0" width="10.0" height="10.0" fill="#7a2a4b"/><rect x="81.0" y="411.0" width="10.0" height="10.0" fill="#92344d"/><rect x="91.0" y="411.0" width="10.0" height="10.0" fill="#92325a"/><rect x="101.0" y="411.0" width="10.0" height="10.0" fill="#a73a5a"/><rect x="111.0" y="411.0" width="10.0" height="10.0" fill="#ab3860"/><rect x="121.0" y="411.0" width="10.0" height="10.0" fill="#ae3a5e"/><rect x="131.0" y="411.0" width="10.0" height="10.0" fill="#ac385f"/><rect x="141.0" y="411.0" width="10.0" height="10.0" fill="#ad385f"/><rect x="151.0" y="411.0" width="10.0" height="10.0" fill="#ad385f"/><rect x="161.0" y="411.0" width="10.0" height="10.0" fill="#b0385e"/><rect x="171.0" y="411.0" width="10.0" height="10.0" fill="#b2395d"/><rect x="181.0" y="411.0" width="10.0" height="10.0" fill="#b73b5a"/><rect x="191.0" y="411.0" width="9.2" height="10.0" fill="#bc3c57"/><rect x="31.0" y="421.0" width="10.0" height="10.0" fill="#b95d38"/><rect x="41.0" y="421.0" width="10.0" height="10.0" fill="#9d5430"/><rect x="51.0" y="421.0" width="10.0" height="10.0" fill="#833539"/><rect x="61.0" y="421.0" width="10.0" height="10.0" fill="#90383d"/><rect x="71.0" y="421.0" width="10.0" height="10.0" fill="#843049"/><rect x="81.0" y="421.0" width="10.0" height="10.0" fill="#993e46"/><rect x="91.0" y="421.0" width="10.0" height="10.0" fill="#ab3d52"/><rect x="101.0" y="421.0" width="10.0" height="10.0" fill="#b43d57"/><rect x="111.0" y="421.0" width="10.0" height="10.0" fill="#b23e59"/><rect x="121.0" y="421.0" width="10.0" height="10.0" fill="#ac395f"/><rect x="131.0" y="421.0" width="10.0" height="10.0" fill="#b13a5c"/><rect x="141.0" y="421.0" width="10.0" height="10.0" fill="#b33a5c"/><rect x="151.0" y="421.0" width="10.0" height="10.0" fill="#ba3d57"/><rect x="161.0" y="421.0" width="10.0" height="10.0" fill="#bf3e55"/><rect x="171.0" y="421.0" width="10.0" height="10.0" fill="#c34052"/><rect x="181.0" y="421.0" width="10.0" height="10.0" fill="#c44052"/><rect x="191.0" y="421.0" width="9.2" height="10.0" fill="#c13e54"/><rect x="31.0" y="431.0" width="10.0" height="10.0" fill="#c16637"/><rect x="41.0" y="431.0" width="10.0" height="10.0" fill="#9d5834"/><rect x="51.0" y="431.0" width="10.0" height="10.0" fill="#7f3639"/><rect x="61.0" y="431.0" width="10.0" height="10.0" fill="#8a393f"/><rect x="71.0" y="431.0" width="10.0" height="10.0" fill="#983c41"/><rect x="81.0" y="431.0" width="10.0" height="10.0" fill="#ae4246"/><rect x="91.0" y="431.0" width="10.0" height="10.0" fill="#b7464a"/><rect x="101.0" y="431.0" width="10.0" height="10.0" fill="#b04053"/><rect x="111.0" y="431.0" width="10.0" height="10.0" fill="#ad3a5d"/><rect x="121.0" y="431.0" width="10.0" height="10.0" fill="#b43c59"/><rect x="131.0" y="431.0" width="10.0" height="10.0" fill="#b83d58"/><rect x="141.0" y="431.0" width="10.0" height="10.0" fill="#c6434f"/><rect x="151.0" y="431.0" width="10.0" height="10.0" fill="#ca434d"/><rect x="161.0" y="431.0" width="10.0" height="10.0" fill="#c9434e"/><rect x="171.0" y="431.0" width="10.0" height="10.0" fill="#c74150"/><rect x="181.0" y="431.0" width="10.0" height="10.0" fill="#c54051"/><rect x="191.0" y="431.0" width="9.2" height="10.0" fill="#c74150"/><rect x="31.0" y="441.0" width="10.0" height="10.0" fill="#c77138"/><rect x="41.0" y="441.0" width="10.0" height="10.0" fill="#9c5a37"/><rect x="51.0" y="441.0" width="10.0" height="10.0" fill="#823839"/><rect x="61.0" y="441.0" width="10.0" height="10.0" fill="#853e40"/><rect x="71.0" y="441.0" width="10.0" height="10.0" fill="#a84c37"/><rect x="81.0" y="441.0" width="10.0" height="10.0" fill="#c04b46"/><rect x="91.0" y="441.0" width="10.0" height="10.0" fill="#b44447"/><rect x="101.0" y="441.0" width="10.0" height="10.0" fill="#ad4057"/><rect x="111.0" y="441.0" width="10.0" height="10.0" fill="#b13c5b"/><rect x="121.0" y="441.0" width="10.0" height="10.0" fill="#be444f"/><rect x="131.0" y="441.0" width="10.0" height="10.0" fill="#cd4847"/><rect x="141.0" y="441.0" width="10.0" height="10.0" fill="#d04847"/><rect x="151.0" y="441.0" width="10.0" height="10.0" fill="#cc454b"/><rect x="161.0" y="441.0" width="10.0" height="10.0" fill="#ca444d"/><rect x="171.0" y="441.0" width="10.0" height="10.0" fill="#cb434d"/><rect x="181.0" y="441.0" width="10.0" height="10.0" fill="#d14748"/><rect x="191.0" y="441.0" width="9.2" height="10.0" fill="#d64945"/><rect x="31.0" y="451.0" width="10.0" height="8.8" fill="#ca7c3e"/><rect x="41.0" y="451.0" width="10.0" height="8.8" fill="#9c5839"/><rect x="51.0" y="451.0" width="10.0" height="8.8" fill="#893a37"/><rect x="61.0" y="451.0" width="10.0" height="8.8" fill="#8e463d"/><rect x="71.0" y="451.0" width="10.0" height="8.8" fill="#ba573a"/><rect x="81.0" y="451.0" width="10.0" height="8.8" fill="#bb513c"/><rect x="91.0" y="451.0" width="10.0" height="8.8" fill="#a44251"/><rect x="101.0" y="451.0" width="10.0" height="8.8" fill="#ad3c5b"/><rect x="111.0" y="451.0" width="10.0" height="8.8" fill="#c1474b"/><rect x="121.0" y="451.0" width="10.0" height="8.8" fill="#d24c42"/><rect x="131.0" y="451.0" width="10.0" height="8.8" fill="#d44c43"/><rect x="141.0" y="451.0" width="10.0" height="8.8" fill="#ce4848"/><rect x="151.0" y="451.0" width="10.0" height="8.8" fill="#cd454a"/><rect x="161.0" y="451.0" width="10.0" height="8.8" fill="#d14847"/><rect x="171.0" y="451.0" width="10.0" height="8.8" fill="#d94c41"/><rect x="181.0" y="451.0" width="10.0" height="8.8" fill="#d94c41"/><rect x="191.0" y="451.0" width="9.2" height="8.8" fill="#d34847"/><rect x="271.0" y="291.0" width="10.0" height="10.0" fill="#621f50"/><rect x="281.0" y="291.0" width="10.0" height="10.0" fill="#571c4e"/><rect x="291.0" y="291.0" width="10.0" height="10.0" fill="#471748"/><rect x="301.0" y="291.0" width="10.0" height="10.0" fill="#3a1345"/><rect x="311.0" y="291.0" width="10.0" height="10.0" fill="#311042"/><rect x="321.0" y="291.0" width="10.0" height="10.0" fill="#301042"/><rect x="331.0" y="291.0" width="10.0" height="10.0" fill="#331146"/><rect x="341.0" y="291.0" width="10.0" height="10.0" fill="#36124d"/><rect x="351.0" y="291.0" width="10.0" height="10.0" fill="#371352"/><rect x="361.0" y="291.0" width="10.0" height="10.0" fill="#361352"/><rect x="371.0" y="291.0" width="10.0" height="10.0" fill="#34124e"/><rect x="381.0" y="291.0" width="10.0" height="10.0" fill="#301149"/><rect x="391.0" y="291.0" width="10.0" height="10.0" fill="#2c0f43"/><rect x="401.0" y="291.0" width="10.0" height="10.0" fill="#290f3e"/><rect x="411.0" y="291.0" width="10.0" height="10.0" fill="#280e3c"/><rect x="421.0" y="291.0" width="10.0" height="10.0" fill="#635171"/><rect x="431.0" y="291.0" width="9.2" height="10.0" fill="#533e63"/><rect x="271.0" y="301.0" width="10.0" height="10.0" fill="#6f2450"/><rect x="281.0" y="301.0" width="10.0" height="10.0" fill="#611f4a"/><rect x="291.0" y="301.0" width="10.0" height="10.0" fill="#4b1845"/><rect x="301.0" y="301.0" width="10.0" height="10.0" fill="#3b1446"/><rect x="311.0" y="301.0" width="10.0" height="10.0" fill="#351243"/><rect x="321.0" y="301.0" width="10.0" height="10.0" fill="#381346"/><rect x="331.0" y="301.0" width="10.0" height="10.0" fill="#3d1452"/><rect x="341.0" y="301.0" width="10.0" height="10.0" fill="#3e1557"/><rect x="351.0" y="301.0" width="10.0" height="10.0" fill="#3c1457"/><rect x="361.0" y="301.0" width="10.0" height="10.0" fill="#371352"/><rect x="371.0" y="301.0" width="10.0" height="10.0" fill="#32114c"/><rect x="381.0" y="301.0" width="10.0" height="10.0" fill="#301148"/><rect x="391.0" y="301.0" width="10.0" height="10.0" fill="#301149"/><rect x="401.0" y="301.0" width="10.0" height="10.0" fill="#32114c"/><rect x="411.0" y="301.0" width="10.0" height="10.0" fill="#33124d"/><rect x="421.0" y="301.0" width="10.0" height="10.0" fill="#35164e"/><rect x="431.0" y="301.0" width="9.2" height="10.0" fill="#321549"/><rect x="271.0" y="311.0" width="10.0" height="10.0" fill="#7d2950"/><rect x="281.0" y="311.0" width="10.0" height="10.0" fill="#672145"/><rect x="291.0" y="311.0" width="10.0" height="10.0" fill="#4c1946"/><rect x="301.0" y="311.0" width="10.0" height="10.0" fill="#3f1547"/><rect x="311.0" y="311.0" width="10.0" height="10.0" fill="#3f1543"/><rect x="321.0" y="311.0" width="10.0" height="10.0" fill="#441753"/><rect x="331.0" y="311.0" width="10.0" height="10.0" fill="#46175c"/><rect x="341.0" y="311.0" width="10.0" height="10.0" fill="#401659"/><rect x="351.0" y="311.0" width="10.0" height="10.0" fill="#381350"/><rect x="361.0" y="311.0" width="10.0" height="10.0" fill="#33124c"/><rect x="371.0" y="311.0" width="10.0" height="10.0" fill="#361350"/><rect x="381.0" y="311.0" width="10.0" height="10.0" fill="#3b1459"/><rect x="391.0" y="311.0" width="10.0" height="10.0" fill="#3e155e"/><rect x="401.0" y="311.0" width="10.0" height="10.0" fill="#3b145a"/><rect x="411.0" y="311.0" width="10.0" height="10.0" fill="#351351"/><rect x="421.0" y="311.0" width="10.0" height="10.0" fill="#32114c"/><rect x="431.0" y="311.0" width="9.2" height="10.0" fill="#33124e"/><rect x="271.0" y="321.0" width="10.0" height="10.0" fill="#8a2e4d"/><rect x="281.0" y="321.0" width="10.0" height="10.0" fill="#6c2341"/><rect x="291.0" y="321.0" width="10.0" height="10.0" fill="#4e1947"/><rect x="301.0" y="321.0" width="10.0" height="10.0" fill="#461746"/><rect x="311.0" y="321.0" width="10.0" height="10.0" fill="#4d194a"/><rect x="321.0" y="321.0" width="10.0" height="10.0" fill="#501a5e"/><rect x="331.0" y="321.0" width="10.0" height="10.0" fill="#49185d"/><rect x="341.0" y="321.0" width="10.0" height="10.0" fill="#3b144f"/><rect x="351.0" y="321.0" width="10.0" height="10.0" fill="#34124d"/><rect x="361.0" y="321.0" width="10.0" height="10.0" fill="#3b1453"/><rect x="371.0" y="321.0" width="10.0" height="10.0" fill="#451864"/><rect x="381.0" y="321.0" width="10.0" height="10.0" fill="#461867"/><rect x="391.0" y="321.0" width="10.0" height="10.0" fill="#3e155d"/><rect x="401.0" y="321.0" width="10.0" height="10.0" fill="#381355"/><rect x="411.0" y="321.0" width="10.0" height="10.0" fill="#3b145a"/><rect x="421.0" y="321.0" width="10.0" height="10.0" fill="#411662"/><rect x="431.0" y="321.0" width="9.2" height="10.0" fill="#411662"/><rect x="271.0" y="331.0" width="10.0" height="10.0" fill="#963448"/><rect x="281.0" y="331.0" width="10.0" height="10.0" fill="#6f253f"/><rect x="291.0" y="331.0" width="10.0" height="10.0" fill="#521b48"/><rect x="301.0" y="331.0" width="10.0" height="10.0" fill="#541b42"/><rect x="311.0" y="331.0" width="10.0" height="10.0" fill="#5f1f57"/><rect x="321.0" y="331.0" width="10.0" height="10.0" fill="#591d62"/><rect x="331.0" y="331.0" width="10.0" height="10.0" fill="#451752"/><rect x="341.0" y="331.0" width="10.0" height="10.0" fill="#38134f"/><rect x="351.0" y="331.0" width="10.0" height="10.0" fill="#411655"/><rect x="361.0" y="331.0" width="10.0" height="10.0" fill="#4f1a6a"/><rect x="371.0" y="331.0" width="10.0" height="10.0" fill="#4c1a6a"/><rect x="381.0" y="331.0" width="10.0" height="10.0" fill="#40165e"/><rect x="391.0" y="331.0" width="10.0" height="10.0" fill="#3f155c"/><rect x="401.0" y="331.0" width="10.0" height="10.0" fill="#48186a"/><rect x="411.0" y="331.0" width="10.0" height="10.0" fill="#4a196f"/><rect x="421.0" y="331.0" width="10.0" height="10.0" fill="#421765"/><rect x="431.0" y="331.0" width="9.2" height="10.0" fill="#3e155e"/><rect x="271.0" y="341.0" width="10.0" height="10.0" fill="#a23b40"/><rect x="281.0" y="341.0" width="10.0" height="10.0" fill="#712740"/><rect x="291.0" y="341.0" width="10.0" height="10.0" fill="#581d47"/><rect x="301.0" y="341.0" width="10.0" height="10.0" fill="#662142"/><rect x="311.0" y="341.0" width="10.0" height="10.0" fill="#6f2463"/><rect x="321.0" y="341.0" width="10.0" height="10.0" fill="#581d57"/><rect x="331.0" y="341.0" width="10.0" height="10.0" fill="#3f1551"/><rect x="341.0" y="341.0" width="10.0" height="10.0" fill="#451754"/><rect x="351.0" y="341.0" width="10.0" height="10.0" fill="#571d6c"/><rect x="361.0" y="341.0" width="10.0" height="10.0" fill="#531c6b"/><rect x="371.0" y="341.0" width="10.0" height="10.0" fill="#43175f"/><rect x="381.0" y="341.0" width="10.0" height="10.0" fill="#461863"/><rect x="391.0" y="341.0" width="10.0" height="10.0" fill="#531c74"/><rect x="401.0" y="341.0" width="10.0" height="10.0" fill="#4f1b71"/><rect x="411.0" y="341.0" width="10.0" height="10.0" fill="#451766"/><rect x="421.0" y="341.0" width="10.0" height="10.0" fill="#4a196c"/><rect x="431.0" y="341.0" width="9.2" height="10.0" fill="#511b7a"/><rect x="271.0" y="351.0" width="10.0" height="10.0" fill="#ab4338"/><rect x="281.0" y="351.0" width="10.0" height="10.0" fill="#722840"/><rect x="291.0" y="351.0" width="10.0" height="10.0" fill="#5f2045"/><rect x="301.0" y="351.0" width="10.0" height="10.0" fill="#7d2948"/><rect x="311.0" y="351.0" width="10.0" height="10.0" fill="#782663"/><rect x="321.0" y="351.0" width="10.0" height="10.0" fill="#4f1a4e"/><rect x="331.0" y="351.0" width="10.0" height="10.0" fill="#451754"/><rect x="341.0" y="351.0" width="10.0" height="10.0" fill="#5e1f65"/><rect x="351.0" y="351.0" width="10.0" height="10.0" fill="#5f1f6f"/><rect x="361.0" y="351.0" width="10.0" height="10.0" fill="#481861"/><rect x="371.0" y="351.0" width="10.0" height="10.0" fill="#4c1a66"/><rect x="381.0" y="351.0" width="10.0" height="10.0" fill="#5d1f78"/><rect x="391.0" y="351.0" width="10.0" height="10.0" fill="#531c71"/><rect x="401.0" y="351.0" width="10.0" height="10.0" fill="#49196b"/><rect x="411.0" y="351.0" width="10.0" height="10.0" fill="#561d76"/><rect x="421.0" y="351.0" width="10.0" height="10.0" fill="#561d7b"/><rect x="431.0" y="351.0" width="9.2" height="10.0" fill="#4b1970"/><rect x="271.0" y="361.0" width="10.0" height="10.0" fill="#b34c32"/><rect x="281.0" y="361.0" width="10.0" height="10.0" fill="#752a41"/><rect x="291.0" y="361.0" width="10.0" height="10.0" fill="#6b273f"/><rect x="301.0" y="361.0" width="10.0" height="10.0" fill="#973251"/><rect x="311.0" y="361.0" width="10.0" height="10.0" fill="#772654"/><rect x="321.0" y="361.0" width="10.0" height="10.0" fill="#4a1854"/><rect x="331.0" y="361.0" width="10.0" height="10.0" fill="#601f57"/><rect x="341.0" y="361.0" width="10.0" height="10.0" fill="#722574"/><rect x="351.0" y="361.0" width="10.0" height="10.0" fill="#551c62"/><rect x="361.0" y="361.0" width="10.0" height="10.0" fill="#501b67"/><rect x="371.0" y="361.0" width="10.0" height="10.0" fill="#692278"/><rect x="381.0" y="361.0" width="10.0" height="10.0" fill="#5d1f72"/><rect x="391.0" y="361.0" width="10.0" height="10.0" fill="#511b70"/><rect x="401.0" y="361.0" width="10.0" height="10.0" fill="#63217a"/><rect x="411.0" y="361.0" width="10.0" height="10.0" fill="#5e1f7a"/><rect x="421.0" y="361.0" width="10.0" height="10.0" fill="#541c77"/><rect x="431.0" y="361.0" width="9.2" height="10.0" fill="#632180"/><rect x="271.0" y="371.0" width="10.0" height="10.0" fill="#b9552d"/><rect x="281.0" y="371.0" width="10.0" height="10.0" fill="#782b41"/><rect x="291.0" y="371.0" width="10.0" height="10.0" fill="#7b3035"/><rect x="301.0" y="371.0" width="10.0" height="10.0" fill="#ae3a57"/><rect x="311.0" y="371.0" width="10.0" height="10.0" fill="#6c234b"/><rect x="321.0" y="371.0" width="10.0" height="10.0" fill="#551c56"/><rect x="331.0" y="371.0" width="10.0" height="10.0" fill="#842a64"/><rect x="341.0" y="371.0" width="10.0" height="10.0" fill="#6e2365"/><rect x="351.0" y="371.0" width="10.0" height="10.0" fill="#531c69"/><rect x="361.0" y="371.0" width="10.0" height="10.0" fill="#732570"/><rect x="371.0" y="371.0" width="10.0" height="10.0" fill="#6c2373"/><rect x="381.0" y="371.0" width="10.0" height="10.0" fill="#581d75"/><rect x="391.0" y="371.0" width="10.0" height="10.0" fill="#702478"/><rect x="401.0" y="371.0" width="10.0" height="10.0" fill="#682279"/><rect x="411.0" y="371.0" width="10.0" height="10.0" fill="#5d1f7a"/><rect x="421.0" y="371.0" width="10.0" height="10.0" fill="#70257d"/><rect x="431.0" y="371.0" width="9.2" height="10.0" fill="#60207f"/><rect x="271.0" y="381.0" width="10.0" height="10.0" fill="#be5f2b"/><rect x="281.0" y="381.0" width="10.0" height="10.0" fill="#7c2c42"/><rect x="291.0" y="381.0" width="10.0" height="10.0" fill="#903d2f"/><rect x="301.0" y="381.0" width="10.0" height="10.0" fill="#b8404e"/><rect x="311.0" y="381.0" width="10.0" height="10.0" fill="#612051"/><rect x="321.0" y="381.0" width="10.0" height="10.0" fill="#712552"/><rect x="331.0" y="381.0" width="10.0" height="10.0" fill="#973068"/><rect x="341.0" y="381.0" width="10.0" height="10.0" fill="#5e1f65"/><rect x="351.0" y="381.0" width="10.0" height="10.0" fill="#702469"/><rect x="361.0" y="381.0" width="10.0" height="10.0" fill="#842a72"/><rect x="371.0" y="381.0" width="10.0" height="10.0" fill="#5f1f76"/><rect x="381.0" y="381.0" width="10.0" height="10.0" fill="#782675"/><rect x="391.0" y="381.0" width="10.0" height="10.0" fill="#772677"/><rect x="401.0" y="381.0" width="10.0" height="10.0" fill="#65217c"/><rect x="411.0" y="381.0" width="10.0" height="10.0" fill="#7e2978"/><rect x="421.0" y="381.0" width="10.0" height="10.0" fill="#6a237f"/><rect x="431.0" y="381.0" width="9.2" height="10.0" fill="#75267c"/><rect x="271.0" y="391.0" width="10.0" height="10.0" fill="#c1692f"/><rect x="281.0" y="391.0" width="10.0" height="10.0" fill="#802e42"/><rect x="291.0" y="391.0" width="10.0" height="10.0" fill="#aa4d2e"/><rect x="301.0" y="391.0" width="10.0" height="10.0" fill="#b24240"/><rect x="311.0" y="391.0" width="10.0" height="10.0" fill="#632056"/><rect x="321.0" y="391.0" width="10.0" height="10.0" fill="#9d3455"/><rect x="331.0" y="391.0" width="10.0" height="10.0" fill="#8c2d5c"/><rect x="341.0" y="391.0" width="10.0" height="10.0" fill="#65216c"/><rect x="351.0" y="391.0" width="10.0" height="10.0" fill="#9c3168"/><rect x="361.0" y="391.0" width="10.0" height="10.0" fill="#732570"/><rect x="371.0" y="391.0" width="10.0" height="10.0" fill="#7b2773"/><rect x="381.0" y="391.0" width="10.0" height="10.0" fill="#8e2d70"/><rect x="391.0" y="391.0" width="10.0" height="10.0" fill="#6d237d"/><rect x="401.0" y="391.0" width="10.0" height="10.0" fill="#8f2d70"/><rect x="411.0" y="391.0" width="10.0" height="10.0" fill="#76267c"/><rect x="421.0" y="391.0" width="10.0" height="10.0" fill="#822977"/><rect x="431.0" y="391.0" width="9.2" height="10.0" fill="#812978"/><rect x="271.0" y="401.0" width="10.0" height="10.0" fill="#c47237"/><rect x="281.0" y="401.0" width="10.0" height="10.0" fill="#843141"/><rect x="291.0" y="401.0" width="10.0" height="10.0" fill="#c75f2f"/><rect x="301.0" y="401.0" width="10.0" height="10.0" fill="#a04035"/><rect x="311.0" y="401.0" width="10.0" height="10.0" fill="#742852"/><rect x="321.0" y="401.0" width="10.0" height="10.0" fill="#c6434e"/><rect x="331.0" y="401.0" width="10.0" height="10.0" fill="#78275f"/><rect x="341.0" y="401.0" width="10.0" height="10.0" fill="#912f61"/><rect x="351.0" y="401.0" width="10.0" height="10.0" fill="#a33462"/><rect x="361.0" y="401.0" width="10.0" height="10.0" fill="#772676"/><rect x="371.0" y="401.0" width="10.0" height="10.0" fill="#ab3661"/><rect x="381.0" y="401.0" width="10.0" height="10.0" fill="#7d2878"/><rect x="391.0" y="401.0" width="10.0" height="10.0" fill="#9c3169"/><rect x="401.0" y="401.0" width="10.0" height="10.0" fill="#8d2d72"/><rect x="411.0" y="401.0" width="10.0" height="10.0" fill="#8d2d71"/><rect x="421.0" y="401.0" width="10.0" height="10.0" fill="#98306c"/><rect x="431.0" y="401.0" width="9.2" height="10.0" fill="#882b74"/><rect x="271.0" y="411.0" width="10.0" height="10.0" fill="#c67c40"/><rect x="281.0" y="411.0" width="10.0" height="10.0" fill="#883641"/><rect x="291.0" y="411.0" width="10.0" height="10.0" fill="#e1712c"/><rect x="301.0" y="411.0" width="10.0" height="10.0" fill="#8d3839"/><rect x="311.0" y="411.0" width="10.0" height="10.0" fill="#943a43"/><rect x="321.0" y="411.0" width="10.0" height="10.0" fill="#ca4946"/><rect x="331.0" y="411.0" width="10.0" height="10.0" fill="#7a2868"/><rect x="341.0" y="411.0" width="10.0" height="10.0" fill="#c64250"/><rect x="351.0" y="411.0" width="10.0" height="10.0" fill="#892c6b"/><rect x="361.0" y="411.0" width="10.0" height="10.0" fill="#aa375f"/><rect x="371.0" y="411.0" width="10.0" height="10.0" fill="#a13466"/><rect x="381.0" y="411.0" width="10.0" height="10.0" fill="#97306c"/><rect x="391.0" y="411.0" width="10.0" height="10.0" fill="#ae375f"/><rect x="401.0" y="411.0" width="10.0" height="10.0" fill="#902e70"/><rect x="411.0" y="411.0" width="10.0" height="10.0" fill="#b1385e"/><rect x="421.0" y="411.0" width="10.0" height="10.0" fill="#8f2d71"/><rect x="431.0" y="411.0" width="9.2" height="10.0" fill="#b0375f"/><rect x="271.0" y="421.0" width="10.0" height="10.0" fill="#c9844d"/><rect x="281.0" y="421.0" width="10.0" height="10.0" fill="#8d3f41"/><rect x="291.0" y="421.0" width="10.0" height="10.0" fill="#f18025"/><rect x="301.0" y="421.0" width="10.0" height="10.0" fill="#833146"/><rect x="311.0" y="421.0" width="10.0" height="10.0" fill="#c25539"/><rect x="321.0" y="421.0" width="10.0" height="10.0" fill="#ae4243"/><rect x="331.0" y="421.0" width="10.0" height="10.0" fill="#9b3759"/><rect x="341.0" y="421.0" width="10.0" height="10.0" fill="#cc4749"/><rect x="351.0" y="421.0" width="10.0" height="10.0" fill="#8f2e6e"/><rect x="361.0" y="421.0" width="10.0" height="10.0" fill="#d0464a"/><rect x="371.0" y="421.0" width="10.0" height="10.0" fill="#912e6f"/><rect x="381.0" y="421.0" width="10.0" height="10.0" fill="#c9424e"/><rect x="391.0" y="421.0" width="10.0" height="10.0" fill="#952f6d"/><rect x="401.0" y="421.0" width="10.0" height="10.0" fill="#c54051"/><rect x="411.0" y="421.0" width="10.0" height="10.0" fill="#97306c"/><rect x="421.0" y="421.0" width="10.0" height="10.0" fill="#c13e54"/><rect x="431.0" y="421.0" width="9.2" height="10.0" fill="#99306b"/><rect x="271.0" y="431.0" width="10.0" height="10.0" fill="#cb8b5c"/><rect x="281.0" y="431.0" width="10.0" height="10.0" fill="#944b43"/><rect x="291.0" y="431.0" width="10.0" height="10.0" fill="#f58d27"/><rect x="301.0" y="431.0" width="10.0" height="10.0" fill="#832d4e"/><rect x="311.0" y="431.0" width="10.0" height="10.0" fill="#e86e26"/><rect x="321.0" y="431.0" width="10.0" height="10.0" fill="#913456"/><rect x="331.0" y="431.0" width="10.0" height="10.0" fill="#d1543a"/><rect x="341.0" y="431.0" width="10.0" height="10.0" fill="#a73a5a"/><rect x="351.0" y="431.0" width="10.0" height="10.0" fill="#c1454d"/><rect x="361.0" y="431.0" width="10.0" height="10.0" fill="#b23b5b"/><rect x="371.0" y="431.0" width="10.0" height="10.0" fill="#bd4054"/><rect x="381.0" y="431.0" width="10.0" height="10.0" fill="#b33a5b"/><rect x="391.0" y="431.0" width="10.0" height="10.0" fill="#bf3f54"/><rect x="401.0" y="431.0" width="10.0" height="10.0" fill="#ae385f"/><rect x="411.0" y="431.0" width="10.0" height="10.0" fill="#c44052"/><rect x="421.0" y="431.0" width="10.0" height="10.0" fill="#a73563"/><rect x="431.0" y="431.0" width="9.2" height="10.0" fill="#c9424f"/><rect x="271.0" y="441.0" width="10.0" height="10.0" fill="#cd9269"/><rect x="281.0" y="441.0" width="10.0" height="10.0" fill="#9e5b49"/><rect x="291.0" y="441.0" width="10.0" height="10.0" fill="#f09234"/><rect x="301.0" y="441.0" width="10.0" height="10.0" fill="#8c354b"/><rect x="311.0" y="441.0" width="10.0" height="10.0" fill="#f47c1c"/><rect x="321.0" y="441.0" width="10.0" height="10.0" fill="#903060"/><rect x="331.0" y="441.0" width="10.0" height="10.0" fill="#ee6923"/><rect x="341.0" y="441.0" width="10.0" height="10.0" fill="#983269"/><rect x="351.0" y="441.0" width="10.0" height="10.0" fill="#e65a30"/><rect x="361.0" y="441.0" width="10.0" height="10.0" fill="#9f3367"/><rect x="371.0" y="441.0" width="10.0" height="10.0" fill="#de4f3d"/><rect x="381.0" y="441.0" width="10.0" height="10.0" fill="#a83662"/><rect x="391.0" y="441.0" width="10.0" height="10.0" fill="#d54846"/><rect x="401.0" y="441.0" width="10.0" height="10.0" fill="#b43b5b"/><rect x="411.0" y="441.0" width="10.0" height="10.0" fill="#c44052"/><rect x="421.0" y="441.0" width="10.0" height="10.0" fill="#c54151"/><rect x="431.0" y="441.0" width="9.2" height="10.0" fill="#b0385e"/><rect x="271.0" y="451.0" width="10.0" height="8.8" fill="#d09674"/><rect x="281.0" y="451.0" width="10.0" height="8.8" fill="#ab6c52"/><rect x="291.0" y="451.0" width="10.0" height="8.8" fill="#e79042"/><rect x="301.0" y="451.0" width="10.0" height="8.8" fill="#9d4844"/><rect x="311.0" y="451.0" width="10.0" height="8.8" fill="#eb7925"/><rect x="321.0" y="451.0" width="10.0" height="8.8" fill="#a44053"/><rect x="331.0" y="451.0" width="10.0" height="8.8" fill="#e6662a"/><rect x="341.0" y="451.0" width="10.0" height="8.8" fill="#b34155"/><rect x="351.0" y="451.0" width="10.0" height="8.8" fill="#d8533a"/><rect x="361.0" y="451.0" width="10.0" height="8.8" fill="#c6484a"/><rect x="371.0" y="451.0" width="10.0" height="8.8" fill="#c3434f"/><rect x="381.0" y="451.0" width="10.0" height="8.8" fill="#d74d40"/><rect x="391.0" y="451.0" width="10.0" height="8.8" fill="#b1395d"/><rect x="401.0" y="451.0" width="10.0" height="8.8" fill="#df4f3d"/><rect x="411.0" y="451.0" width="10.0" height="8.8" fill="#b1385e"/><rect x="421.0" y="451.0" width="10.0" height="8.8" fill="#d34748"/><rect x="431.0" y="451.0" width="9.2" height="8.8" fill="#ca434e"/><rect x="511.0" y="291.0" width="10.0" height="10.0" fill="#621f50"/><rect x="521.0" y="291.0" width="10.0" height="10.0" fill="#571c4e"/><rect x="531.0" y="291.0" width="10.0" height="10.0" fill="#471748"/><rect x="541.0" y="291.0" width="10.0" height="10.0" fill="#3a1345"/><rect x="551.0" y="291.0" width="10.0" height="10.0" fill="#301042"/><rect x="561.0" y="291.0" width="10.0" height="10.0" fill="#2f1041"/><rect x="571.0" y="291.0" width="10.0" height="10.0" fill="#311145"/><rect x="581.0" y="291.0" width="10.0" height="10.0" fill="#33124c"/><rect x="591.0" y="291.0" width="10.0" height="10.0" fill="#34124f"/><rect x="601.0" y="291.0" width="10.0" height="10.0" fill="#33124d"/><rect x="611.0" y="291.0" width="10.0" height="10.0" fill="#301149"/><rect x="621.0" y="291.0" width="10.0" height="10.0" fill="#2d1045"/><rect x="631.0" y="291.0" width="10.0" height="10.0" fill="#2a0f3f"/><rect x="641.0" y="291.0" width="10.0" height="10.0" fill="#270e3c"/><rect x="651.0" y="291.0" width="10.0" height="10.0" fill="#260e3a"/><rect x="661.0" y="291.0" width="10.0" height="10.0" fill="#604e6e"/><rect x="671.0" y="291.0" width="9.2" height="10.0" fill="#4b365b"/><rect x="511.0" y="301.0" width="10.0" height="10.0" fill="#6f2450"/><rect x="521.0" y="301.0" width="10.0" height="10.0" fill="#611f4a"/><rect x="531.0" y="301.0" width="10.0" height="10.0" fill="#4a1845"/><rect x="541.0" y="301.0" width="10.0" height="10.0" fill="#3b1446"/><rect x="551.0" y="301.0" width="10.0" height="10.0" fill="#341243"/><rect x="561.0" y="301.0" width="10.0" height="10.0" fill="#371246"/><rect x="571.0" y="301.0" width="10.0" height="10.0" fill="#3b1452"/><rect x="581.0" y="301.0" width="10.0" height="10.0" fill="#3b1457"/><rect x="591.0" y="301.0" width="10.0" height="10.0" fill="#391456"/><rect x="601.0" y="301.0" width="10.0" height="10.0" fill="#34124f"/><rect x="611.0" y="301.0" width="10.0" height="10.0" fill="#2f1148"/><rect x="621.0" y="301.0" width="10.0" height="10.0" fill="#2d1044"/><rect x="631.0" y="301.0" width="10.0" height="10.0" fill="#2e1046"/><rect x="641.0" y="301.0" width="10.0" height="10.0" fill="#301149"/><rect x="651.0" y="301.0" width="10.0" height="10.0" fill="#31114a"/><rect x="661.0" y="301.0" width="10.0" height="10.0" fill="#371a4e"/><rect x="671.0" y="301.0" width="9.2" height="10.0" fill="#341849"/><rect x="511.0" y="311.0" width="10.0" height="10.0" fill="#7d2950"/><rect x="521.0" y="311.0" width="10.0" height="10.0" fill="#672145"/><rect x="531.0" y="311.0" width="10.0" height="10.0" fill="#4c1946"/><rect x="541.0" y="311.0" width="10.0" height="10.0" fill="#3e1547"/><rect x="551.0" y="311.0" width="10.0" height="10.0" fill="#3d1443"/><rect x="561.0" y="311.0" width="10.0" height="10.0" fill="#421653"/><rect x="571.0" y="311.0" width="10.0" height="10.0" fill="#43175c"/><rect x="581.0" y="311.0" width="10.0" height="10.0" fill="#3e155a"/><rect x="591.0" y="311.0" width="10.0" height="10.0" fill="#361351"/><rect x="601.0" y="311.0" width="10.0" height="10.0" fill="#31114b"/><rect x="611.0" y="311.0" width="10.0" height="10.0" fill="#33124d"/><rect x="621.0" y="311.0" width="10.0" height="10.0" fill="#381355"/><rect x="631.0" y="311.0" width="10.0" height="10.0" fill="#3b1459"/><rect x="641.0" y="311.0" width="10.0" height="10.0" fill="#381355"/><rect x="651.0" y="311.0" width="10.0" height="10.0" fill="#33124d"/><rect x="661.0" y="311.0" width="10.0" height="10.0" fill="#301149"/><rect x="671.0" y="311.0" width="9.2" height="10.0" fill="#31114a"/><rect x="511.0" y="321.0" width="10.0" height="10.0" fill="#8a2e4d"/><rect x="521.0" y="321.0" width="10.0" height="10.0" fill="#6c2341"/><rect x="531.0" y="321.0" width="10.0" height="10.0" fill="#4e1948"/><rect x="541.0" y="321.0" width="10.0" height="10.0" fill="#461745"/><rect x="551.0" y="321.0" width="10.0" height="10.0" fill="#4b184a"/><rect x="561.0" y="321.0" width="10.0" height="10.0" fill="#4d1a5f"/><rect x="571.0" y="321.0" width="10.0" height="10.0" fill="#47185e"/><rect x="581.0" y="321.0" width="10.0" height="10.0" fill="#3a1451"/><rect x="591.0" y="321.0" width="10.0" height="10.0" fill="#34124e"/><rect x="601.0" y="321.0" width="10.0" height="10.0" fill="#3a1454"/><rect x="611.0" y="321.0" width="10.0" height="10.0" fill="#421762"/><rect x="621.0" y="321.0" width="10.0" height="10.0" fill="#421764"/><rect x="631.0" y="321.0" width="10.0" height="10.0" fill="#3b1459"/><rect x="641.0" y="321.0" width="10.0" height="10.0" fill="#361352"/><rect x="651.0" y="321.0" width="10.0" height="10.0" fill="#391456"/><rect x="661.0" y="321.0" width="10.0" height="10.0" fill="#3d155d"/><rect x="671.0" y="321.0" width="9.2" height="10.0" fill="#3d155c"/><rect x="511.0" y="331.0" width="10.0" height="10.0" fill="#963448"/><rect x="521.0" y="331.0" width="10.0" height="10.0" fill="#6f253f"/><rect x="531.0" y="331.0" width="10.0" height="10.0" fill="#521b48"/><rect x="541.0" y="331.0" width="10.0" height="10.0" fill="#531b42"/><rect x="551.0" y="331.0" width="10.0" height="10.0" fill="#5c1e58"/><rect x="561.0" y="331.0" width="10.0" height="10.0" fill="#561c63"/><rect x="571.0" y="331.0" width="10.0" height="10.0" fill="#431654"/><rect x="581.0" y="331.0" width="10.0" height="10.0" fill="#391452"/><rect x="591.0" y="331.0" width="10.0" height="10.0" fill="#411658"/><rect x="601.0" y="331.0" width="10.0" height="10.0" fill="#4c1a6b"/><rect x="611.0" y="331.0" width="10.0" height="10.0" fill="#49196a"/><rect x="621.0" y="331.0" width="10.0" height="10.0" fill="#3e155d"/><rect x="631.0" y="331.0" width="10.0" height="10.0" fill="#3d155b"/><rect x="641.0" y="331.0" width="10.0" height="10.0" fill="#451868"/><rect x="651.0" y="331.0" width="10.0" height="10.0" fill="#47186b"/><rect x="661.0" y="331.0" width="10.0" height="10.0" fill="#3f1660"/><rect x="671.0" y="331.0" width="9.2" height="10.0" fill="#3c155a"/><rect x="511.0" y="341.0" width="10.0" height="10.0" fill="#a23b40"/><rect x="521.0" y="341.0" width="10.0" height="10.0" fill="#712740"/><rect x="531.0" y="341.0" width="10.0" height="10.0" fill="#581d47"/><rect x="541.0" y="341.0" width="10.0" height="10.0" fill="#662142"/><rect x="551.0" y="341.0" width="10.0" height="10.0" fill="#6c2363"/><rect x="561.0" y="341.0" width="10.0" height="10.0" fill="#551c58"/><rect x="571.0" y="341.0" width="10.0" height="10.0" fill="#3e1553"/><rect x="581.0" y="341.0" width="10.0" height="10.0" fill="#451758"/><rect x="591.0" y="341.0" width="10.0" height="10.0" fill="#561c6e"/><rect x="601.0" y="341.0" width="10.0" height="10.0" fill="#511b6e"/><rect x="611.0" y="341.0" width="10.0" height="10.0" fill="#431762"/><rect x="621.0" y="341.0" width="10.0" height="10.0" fill="#451864"/><rect x="631.0" y="341.0" width="10.0" height="10.0" fill="#501b74"/><rect x="641.0" y="341.0" width="10.0" height="10.0" fill="#4c1a71"/><rect x="651.0" y="341.0" width="10.0" height="10.0" fill="#431765"/><rect x="661.0" y="341.0" width="10.0" height="10.0" fill="#47186b"/><rect x="671.0" y="341.0" width="9.2" height="10.0" fill="#4d1a75"/><rect x="511.0" y="351.0" width="10.0" height="10.0" fill="#ab4338"/><rect x="521.0" y="351.0" width="10.0" height="10.0" fill="#722840"/><rect x="531.0" y="351.0" width="10.0" height="10.0" fill="#5f2045"/><rect x="541.0" y="351.0" width="10.0" height="10.0" fill="#7c2948"/><rect x="551.0" y="351.0" width="10.0" height="10.0" fill="#742564"/><rect x="561.0" y="351.0" width="10.0" height="10.0" fill="#4c194f"/><rect x="571.0" y="351.0" width="10.0" height="10.0" fill="#451757"/><rect x="581.0" y="351.0" width="10.0" height="10.0" fill="#5c1e69"/><rect x="591.0" y="351.0" width="10.0" height="10.0" fill="#5d1f72"/><rect x="601.0" y="351.0" width="10.0" height="10.0" fill="#491965"/><rect x="611.0" y="351.0" width="10.0" height="10.0" fill="#4d1a6a"/><rect x="621.0" y="351.0" width="10.0" height="10.0" fill="#5a1e7a"/><rect x="631.0" y="351.0" width="10.0" height="10.0" fill="#521c74"/><rect x="641.0" y="351.0" width="10.0" height="10.0" fill="#49196c"/><rect x="651.0" y="351.0" width="10.0" height="10.0" fill="#531c77"/><rect x="661.0" y="351.0" width="10.0" height="10.0" fill="#531c7b"/><rect x="671.0" y="351.0" width="9.2" height="10.0" fill="#49196e"/><rect x="511.0" y="361.0" width="10.0" height="10.0" fill="#b34c32"/><rect x="521.0" y="361.0" width="10.0" height="10.0" fill="#752a41"/><rect x="531.0" y="361.0" width="10.0" height="10.0" fill="#6b273f"/><rect x="541.0" y="361.0" width="10.0" height="10.0" fill="#963151"/><rect x="551.0" y="361.0" width="10.0" height="10.0" fill="#752555"/><rect x="561.0" y="361.0" width="10.0" height="10.0" fill="#491855"/><rect x="571.0" y="361.0" width="10.0" height="10.0" fill="#5e1f5b"/><rect x="581.0" y="361.0" width="10.0" height="10.0" fill="#6f2476"/><rect x="591.0" y="361.0" width="10.0" height="10.0" fill="#551c67"/><rect x="601.0" y="361.0" width="10.0" height="10.0" fill="#521b6c"/><rect x="611.0" y="361.0" width="10.0" height="10.0" fill="#67227b"/><rect x="621.0" y="361.0" width="10.0" height="10.0" fill="#5c1f76"/><rect x="631.0" y="361.0" width="10.0" height="10.0" fill="#521b74"/><rect x="641.0" y="361.0" width="10.0" height="10.0" fill="#60207c"/><rect x="651.0" y="361.0" width="10.0" height="10.0" fill="#5c1f7d"/><rect x="661.0" y="361.0" width="10.0" height="10.0" fill="#531c78"/><rect x="671.0" y="361.0" width="9.2" height="10.0" fill="#5f2081"/><rect x="511.0" y="371.0" width="10.0" height="10.0" fill="#b9552d"/><rect x="521.0" y="371.0" width="10.0" height="10.0" fill="#782b41"/><rect x="531.0" y="371.0" width="10.0" height="10.0" fill="#7b3035"/><rect x="541.0" y="371.0" width="10.0" height="10.0" fill="#ad3a58"/><rect x="551.0" y="371.0" width="10.0" height="10.0" fill="#6a224c"/><rect x="561.0" y="371.0" width="10.0" height="10.0" fill="#541c58"/><rect x="571.0" y="371.0" width="10.0" height="10.0" fill="#812967"/><rect x="581.0" y="371.0" width="10.0" height="10.0" fill="#6c2368"/><rect x="591.0" y="371.0" width="10.0" height="10.0" fill="#551c6e"/><rect x="601.0" y="371.0" width="10.0" height="10.0" fill="#712474"/><rect x="611.0" y="371.0" width="10.0" height="10.0" fill="#6b2377"/><rect x="621.0" y="371.0" width="10.0" height="10.0" fill="#5a1e79"/><rect x="631.0" y="371.0" width="10.0" height="10.0" fill="#6e247b"/><rect x="641.0" y="371.0" width="10.0" height="10.0" fill="#67227d"/><rect x="651.0" y="371.0" width="10.0" height="10.0" fill="#5d1f7e"/><rect x="661.0" y="371.0" width="10.0" height="10.0" fill="#6d2480"/><rect x="671.0" y="371.0" width="9.2" height="10.0" fill="#602082"/><rect x="511.0" y="381.0" width="10.0" height="10.0" fill="#be5f2b"/><rect x="521.0" y="381.0" width="10.0" height="10.0" fill="#7c2c42"/><rect x="531.0" y="381.0" width="10.0" height="10.0" fill="#903d2f"/><rect x="541.0" y="381.0" width="10.0" height="10.0" fill="#b73f4f"/><rect x="551.0" y="381.0" width="10.0" height="10.0" fill="#5f1f51"/><rect x="561.0" y="381.0" width="10.0" height="10.0" fill="#702554"/><rect x="571.0" y="381.0" width="10.0" height="10.0" fill="#942f6a"/><rect x="581.0" y="381.0" width="10.0" height="10.0" fill="#5f1f6a"/><rect x="591.0" y="381.0" width="10.0" height="10.0" fill="#70246d"/><rect x="601.0" y="381.0" width="10.0" height="10.0" fill="#812975"/><rect x="611.0" y="381.0" width="10.0" height="10.0" fill="#61207a"/><rect x="621.0" y="381.0" width="10.0" height="10.0" fill="#762678"/><rect x="631.0" y="381.0" width="10.0" height="10.0" fill="#75267b"/><rect x="641.0" y="381.0" width="10.0" height="10.0" fill="#662280"/><rect x="651.0" y="381.0" width="10.0" height="10.0" fill="#7b287a"/><rect x="661.0" y="381.0" width="10.0" height="10.0" fill="#6a2382"/><rect x="671.0" y="381.0" width="9.2" height="10.0" fill="#74267e"/><rect x="511.0" y="391.0" width="10.0" height="10.0" fill="#c1692f"/><rect x="521.0" y="391.0" width="10.0" height="10.0" fill="#802e42"/><rect x="531.0" y="391.0" width="10.0" height="10.0" fill="#aa4d2e"/><rect x="541.0" y="391.0" width="10.0" height="10.0" fill="#b14141"/><rect x="551.0" y="391.0" width="10.0" height="10.0" fill="#622057"/><rect x="561.0" y="391.0" width="10.0" height="10.0" fill="#9b3357"/><rect x="571.0" y="391.0" width="10.0" height="10.0" fill="#8a2c5e"/><rect x="581.0" y="391.0" width="10.0" height="10.0" fill="#672270"/><rect x="591.0" y="391.0" width="10.0" height="10.0" fill="#98306a"/><rect x="601.0" y="391.0" width="10.0" height="10.0" fill="#732574"/><rect x="611.0" y="391.0" width="10.0" height="10.0" fill="#7a2777"/><rect x="621.0" y="391.0" width="10.0" height="10.0" fill="#8b2c73"/><rect x="631.0" y="391.0" width="10.0" height="10.0" fill="#6e2480"/><rect x="641.0" y="391.0" width="10.0" height="10.0" fill="#8b2c72"/><rect x="651.0" y="391.0" width="10.0" height="10.0" fill="#77267d"/><rect x="661.0" y="391.0" width="10.0" height="10.0" fill="#812978"/><rect x="671.0" y="391.0" width="9.2" height="10.0" fill="#7f2979"/><rect x="511.0" y="401.0" width="10.0" height="10.0" fill="#c47237"/><rect x="521.0" y="401.0" width="10.0" height="10.0" fill="#843141"/><rect x="531.0" y="401.0" width="10.0" height="10.0" fill="#c75f2f"/><rect x="541.0" y="401.0" width="10.0" height="10.0" fill="#a03f37"/><rect x="551.0" y="401.0" width="10.0" height="10.0" fill="#732754"/><rect x="561.0" y="401.0" width="10.0" height="10.0" fill="#c24151"/><rect x="571.0" y="401.0" width="10.0" height="10.0" fill="#782763"/><rect x="581.0" y="401.0" width="10.0" height="10.0" fill="#902f65"/><rect x="591.0" y="401.0" width="10.0" height="10.0" fill="#a13364"/><rect x="601.0" y="401.0" width="10.0" height="10.0" fill="#782778"/><rect x="611.0" y="401.0" width="10.0" height="10.0" fill="#a73464"/><rect x="621.0" y="401.0" width="10.0" height="10.0" fill="#7e2979"/><rect x="631.0" y="401.0" width="10.0" height="10.0" fill="#99306b"/><rect x="641.0" y="401.0" width="10.0" height="10.0" fill="#8c2c72"/><rect x="651.0" y="401.0" width="10.0" height="10.0" fill="#8d2d72"/><rect x="661.0" y="401.0" width="10.0" height="10.0" fill="#962f6d"/><rect x="671.0" y="401.0" width="9.2" height="10.0" fill="#892c74"/><rect x="511.0" y="411.0" width="10.0" height="10.0" fill="#c67c40"/><rect x="521.0" y="411.0" width="10.0" height="10.0" fill="#883641"/><rect x="531.0" y="411.0" width="10.0" height="10.0" fill="#e1712c"/><rect x="541.0" y="411.0" width="10.0" height="10.0" fill="#8d383a"/><rect x="551.0" y="411.0" width="10.0" height="10.0" fill="#943946"/><rect x="561.0" y="411.0" width="10.0" height="10.0" fill="#c7464a"/><rect x="571.0" y="411.0" width="10.0" height="10.0" fill="#7b286b"/><rect x="581.0" y="411.0" width="10.0" height="10.0" fill="#c24053"/><rect x="591.0" y="411.0" width="10.0" height="10.0" fill="#892c6e"/><rect x="601.0" y="411.0" width="10.0" height="10.0" fill="#a83662"/><rect x="611.0" y="411.0" width="10.0" height="10.0" fill="#9f3368"/><rect x="621.0" y="411.0" width="10.0" height="10.0" fill="#96306c"/><rect x="631.0" y="411.0" width="10.0" height="10.0" fill="#ab3661"/><rect x="641.0" y="411.0" width="10.0" height="10.0" fill="#912e70"/><rect x="651.0" y="411.0" width="10.0" height="10.0" fill="#af375f"/><rect x="661.0" y="411.0" width="10.0" height="10.0" fill="#912e70"/><rect x="671.0" y="411.0" width="9.2" height="10.0" fill="#ad3660"/><rect x="511.0" y="421.0" width="10.0" height="10.0" fill="#c9844d"/><rect x="521.0" y="421.0" width="10.0" height="10.0" fill="#8d3f41"/><rect x="531.0" y="421.0" width="10.0" height="10.0" fill="#f18025"/><rect x="541.0" y="421.0" width="10.0" height="10.0" fill="#833047"/><rect x="551.0" y="421.0" width="10.0" height="10.0" fill="#c1533b"/><rect x="561.0" y="421.0" width="10.0" height="10.0" fill="#ad4048"/><rect x="571.0" y="421.0" width="10.0" height="10.0" fill="#9b365d"/><rect x="581.0" y="421.0" width="10.0" height="10.0" fill="#c9444d"/><rect x="591.0" y="421.0" width="10.0" height="10.0" fill="#902e6f"/><rect x="601.0" y="421.0" width="10.0" height="10.0" fill="#cb434d"/><rect x="611.0" y="421.0" width="10.0" height="10.0" fill="#932f6f"/><rect x="621.0" y="421.0" width="10.0" height="10.0" fill="#c44052"/><rect x="631.0" y="421.0" width="10.0" height="10.0" fill="#96306d"/><rect x="641.0" y="421.0" width="10.0" height="10.0" fill="#c13e54"/><rect x="651.0" y="421.0" width="10.0" height="10.0" fill="#99306b"/><rect x="661.0" y="421.0" width="10.0" height="10.0" fill="#be3d56"/><rect x="671.0" y="421.0" width="9.2" height="10.0" fill="#9b316a"/><rect x="511.0" y="431.0" width="10.0" height="10.0" fill="#cb8b5c"/><rect x="521.0" y="431.0" width="10.0" height="10.0" fill="#944b43"/><rect x="531.0" y="431.0" width="10.0" height="10.0" fill="#f58d27"/><rect x="541.0" y="431.0" width="10.0" height="10.0" fill="#832d4f"/><rect x="551.0" y="431.0" width="10.0" height="10.0" fill="#e76b28"/><rect x="561.0" y="431.0" width="10.0" height="10.0" fill="#923359"/><rect x="571.0" y="431.0" width="10.0" height="10.0" fill="#d0513e"/><rect x="581.0" y="431.0" width="10.0" height="10.0" fill="#a8395e"/><rect x="591.0" y="431.0" width="10.0" height="10.0" fill="#c04350"/><rect x="601.0" y="431.0" width="10.0" height="10.0" fill="#b23a5c"/><rect x="611.0" y="431.0" width="10.0" height="10.0" fill="#bc3e56"/><rect x="621.0" y="431.0" width="10.0" height="10.0" fill="#b33a5c"/><rect x="631.0" y="431.0" width="10.0" height="10.0" fill="#bd3e56"/><rect x="641.0" y="431.0" width="10.0" height="10.0" fill="#af385f"/><rect x="651.0" y="431.0" width="10.0" height="10.0" fill="#c23f53"/><rect x="661.0" y="431.0" width="10.0" height="10.0" fill="#aa3662"/><rect x="671.0" y="431.0" width="9.2" height="10.0" fill="#c74150"/><rect x="511.0" y="441.0" width="10.0" height="10.0" fill="#cd9269"/><rect x="521.0" y="441.0" width="10.0" height="10.0" fill="#9e5b49"/><rect x="531.0" y="441.0" width="10.0" height="10.0" fill="#f09234"/><rect x="541.0" y="441.0" width="10.0" height="10.0" fill="#8c354c"/><rect x="551.0" y="441.0" width="10.0" height="10.0" fill="#f3781d"/><rect x="561.0" y="441.0" width="10.0" height="10.0" fill="#913063"/><rect x="571.0" y="441.0" width="10.0" height="10.0" fill="#ec6426"/><rect x="581.0" y="441.0" width="10.0" height="10.0" fill="#9c3269"/><rect x="591.0" y="441.0" width="10.0" height="10.0" fill="#e35536"/><rect x="601.0" y="441.0" width="10.0" height="10.0" fill="#a33465"/><rect x="611.0" y="441.0" width="10.0" height="10.0" fill="#da4b42"/><rect x="621.0" y="441.0" width="10.0" height="10.0" fill="#ab3761"/><rect x="631.0" y="441.0" width="10.0" height="10.0" fill="#d24649"/><rect x="641.0" y="441.0" width="10.0" height="10.0" fill="#b73b5a"/><rect x="651.0" y="441.0" width="10.0" height="10.0" fill="#c44052"/><rect x="661.0" y="441.0" width="10.0" height="10.0" fill="#c64151"/><rect x="671.0" y="441.0" width="9.2" height="10.0" fill="#b4395c"/><rect x="511.0" y="451.0" width="10.0" height="8.8" fill="#d09674"/><rect x="521.0" y="451.0" width="10.0" height="8.8" fill="#ab6c52"/><rect x="531.0" y="451.0" width="10.0" height="8.8" fill="#e79042"/><rect x="541.0" y="451.0" width="10.0" height="8.8" fill="#9d4845"/><rect x="551.0" y="451.0" width="10.0" height="8.8" fill="#ea7525"/><rect x="561.0" y="451.0" width="10.0" height="8.8" fill="#a63f55"/><rect x="571.0" y="451.0" width="10.0" height="8.8" fill="#e5622b"/><rect x="581.0" y="451.0" width="10.0" height="8.8" fill="#b64155"/><rect x="591.0" y="451.0" width="10.0" height="8.8" fill="#d7503d"/><rect x="601.0" y="451.0" width="10.0" height="8.8" fill="#c7464b"/><rect x="611.0" y="451.0" width="10.0" height="8.8" fill="#c44250"/><rect x="621.0" y="451.0" width="10.0" height="8.8" fill="#d64a44"/><rect x="631.0" y="451.0" width="10.0" height="8.8" fill="#b63a5b"/><rect x="641.0" y="451.0" width="10.0" height="8.8" fill="#dd4d40"/><rect x="651.0" y="451.0" width="10.0" height="8.8" fill="#b63a5b"/><rect x="661.0" y="451.0" width="10.0" height="8.8" fill="#d44748"/><rect x="671.0" y="451.0" width="9.2" height="8.8" fill="#cd444c"/><rect x="49.0" y="11.8" width="113.0" height="7.2" fill="url(#fga)"/><rect x="289.0" y="12.8" width="113.0" height="7.2" fill="url(#fgb)"/><rect x="529.0" y="11.8" width="113.0" height="7.2" fill="url(#fgc)"/><rect x="49.0" y="269.9" width="112.8" height="6.9" fill="url(#fgd)"/><rect x="289.0" y="269.9" width="113.0" height="6.9" fill="url(#fge)"/><rect x="529.0" y="269.9" width="113.0" height="6.9" fill="url(#fgf)"/></svg>
<canvas id="c" width="685" height="487"></canvas>
<svg id="s" width="685" height="487" viewBox="0 0 685 487">
<rect x="23.5" y="29.5" width="181.0" height="180.0" fill="none" stroke="#c4c4c4" stroke-width="1"/>
<line x1="26.90" y1="209.50" x2="26.90" y2="207.00" stroke="#8a8a8a" stroke-width="0.6"/>
<line x1="26.90" y1="29.50" x2="26.90" y2="32.00" stroke="#8a8a8a" stroke-width="0.6"/>
<text x="26.90" y="218.00" font-size="7.0" fill="#262626" text-anchor="middle" font-family="Liberation Sans" letter-spacing="-0.2" stroke="#262626" stroke-width="0.1">0</text>
<line x1="33.83" y1="209.50" x2="33.83" y2="208.00" stroke="#8a8a8a" stroke-width="0.6"/>
<line x1="33.83" y1="29.50" x2="33.83" y2="31.00" stroke="#8a8a8a" stroke-width="0.6"/>
<line x1="40.76" y1="209.50" x2="40.76" y2="208.00" stroke="#8a8a8a" stroke-width="0.6"/>
<line x1="40.76" y1="29.50" x2="40.76" y2="31.00" stroke="#8a8a8a" stroke-width="0.6"/>
<line x1="47.70" y1="209.50" x2="47.70" y2="208.00" stroke="#8a8a8a" stroke-width="0.6"/>
<line x1="47.70" y1="29.50" x2="47.70" y2="31.00" stroke="#8a8a8a" stroke-width="0.6"/>
<line x1="54.63" y1="209.50" x2="54.63" y2="208.00" stroke="#8a8a8a" stroke-width="0.6"/>
<line x1="54.63" y1="29.50" x2="54.63" y2="31.00" stroke="#8a8a8a" stroke-width="0.6"/>
<line x1="61.56" y1="209.50" x2="61.56" y2="207.00" stroke="#8a8a8a" stroke-width="0.6"/>
<line x1="61.56" y1="29.50" x2="61.56" y2="32.00" stroke="#8a8a8a" stroke-width="0.6"/>
<text x="61.56" y="218.00" font-size="7.0" fill="#262626" text-anchor="middle" font-family="Liberation Sans" letter-spacing="-0.2" stroke="#262626" stroke-width="0.1">10</text>
<line x1="68.49" y1="209.50" x2="68.49" y2="208.00" stroke="#8a8a8a" stroke-width="0.6"/>
<line x1="68.49" y1="29.50" x2="68.49" y2="31.00" stroke="#8a8a8a" stroke-width="0.6"/>
<line x1="75.42" y1="209.50" x2="75.42" y2="208.00" stroke="#8a8a8a" stroke-width="0.6"/>
<line x1="75.42" y1="29.50" x2="75.42" y2="31.00" stroke="#8a8a8a" stroke-width="0.6"/>
<line x1="82.36" y1="209.50" x2="82.36" y2="208.00" stroke="#8a8a8a" stroke-width="0.6"/>
<line x1="82.36" y1="29.50" x2="82.36" y2="31.00" stroke="#8a8a8a" stroke-width="0.6"/>
<line x1="89.29" y1="209.50" x2="89.29" y2="208.00" stroke="#8a8a8a" stroke-width="0.6"/>
<line x1="89.29" y1="29.50" x2="89.29" y2="31.00" stroke="#8a8a8a" stroke-width="0.6"/>
<line x1="96.22" y1="209.50" x2="96.22" y2="207.00" stroke="#8a8a8a" stroke-width="0.6"/>
<line x1="96.22" y1="29.50" x2="96.22" y2="32.00" stroke="#8a8a8a" stroke-width="0.6"/>
<text x="96.22" y="218.00" font-size="7.0" fill="#262626" text-anchor="middle" font-family="Liberation Sans" letter-spacing="-0.2" stroke="#262626" stroke-width="0.1">20</text>
<line x1="103.15" y1="209.50" x2="103.15" y2="208.00" stroke="#8a8a8a" stroke-width="0.6"/>
<line x1="103.15" y1="29.50" x2="103.15" y2="31.00" stroke="#8a8a8a" stroke-width="0.6"/>
<line x1="110.08" y1="209.50" x2="110.08" y2="208.00" stroke="#8a8a8a" stroke-width="0.6"/>
<line x1="110.08" y1="29.50" x2="110.08" y2="31.00" stroke="#8a8a8a" stroke-width="0.6"/>
<line x1="117.02" y1="209.50" x2="117.02" y2="208.00" stroke="#8a8a8a" stroke-width="0.6"/>
<line x1="117.02" y1="29.50" x2="117.02" y2="31.00" stroke="#8a8a8a" stroke-width="0.6"/>
<line x1="123.95" y1="209.50" x2="123.95" y2="208.00" stroke="#8a8a8a" stroke-width="0.6"/>
<line x1="123.95" y1="29.50" x2="123.95" y2="31.00" stroke="#8a8a8a" stroke-width="0.6"/>
<line x1="130.88" y1="209.50" x2="130.88" y2="207.00" stroke="#8a8a8a" stroke-width="0.6"/>
<line x1="130.88" y1="29.50" x2="130.88" y2="32.00" stroke="#8a8a8a" stroke-width="0.6"/>
<text x="130.88" y="218.00" font-size="7.0" fill="#262626" text-anchor="middle" font-family="Liberation Sans" letter-spacing="-0.2" stroke="#262626" stroke-width="0.1">30</text>
<line x1="137.81" y1="209.50" x2="137.81" y2="208.00" stroke="#8a8a8a" stroke-width="0.6"/>
<line x1="137.81" y1="29.50" x2="137.81" y2="31.00" stroke="#8a8a8a" stroke-width="0.6"/>
<line x1="144.74" y1="209.50" x2="144.74" y2="208.00" stroke="#8a8a8a" stroke-width="0.6"/>
<line x1="144.74" y1="29.50" x2="144.74" y2="31.00" stroke="#8a8a8a" stroke-width="0.6"/>
<line x1="151.68" y1="209.50" x2="151.68" y2="208.00" stroke="#8a8a8a" stroke-width="0.6"/>
<line x1="151.68" y1="29.50" x2="151.68" y2="31.00" stroke="#8a8a8a" stroke-width="0.6"/>
<line x1="158.61" y1="209.50" x2="158.61" y2="208.00" stroke="#8a8a8a" stroke-width="0.6"/>
<line x1="158.61" y1="29.50" x2="158.61" y2="31.00" stroke="#8a8a8a" stroke-width="0.6"/>
<line x1="165.54" y1="209.50" x2="165.54" y2="207.00" stroke="#8a8a8a" stroke-width="0.6"/>
<line x1="165.54" y1="29.50" x2="165.54" y2="32.00" stroke="#8a8a8a" stroke-width="0.6"/>
<text x="165.54" y="218.00" font-size="7.0" fill="#262626" text-anchor="middle" font-family="Liberation Sans" letter-spacing="-0.2" stroke="#262626" stroke-width="0.1">40</text>
<line x1="172.47" y1="209.50" x2="172.47" y2="208.00" stroke="#8a8a8a" stroke-width="0.6"/>
<line x1="172.47" y1="29.50" x2="172.47" y2="31.00" stroke="#8a8a8a" stroke-width="0.6"/>
<line x1="179.40" y1="209.50" x2="179.40" y2="208.00" stroke="#8a8a8a" stroke-width="0.6"/>
<line x1="179.40" y1="29.50" x2="179.40" y2="31.00" stroke="#8a8a8a" stroke-width="0.6"/>
<line x1="186.34" y1="209.50" x2="186.34" y2="208.00" stroke="#8a8a8a" stroke-width="0.6"/>
<line x1="186.34" y1="29.50" x2="186.34" y2="31.00" stroke="#8a8a8a" stroke-width="0.6"/>
<line x1="193.27" y1="209.50" x2="193.27" y2="208.00" stroke="#8a8a8a" stroke-width="0.6"/>
<line x1="193.27" y1="29.50" x2="193.27" y2="31.00" stroke="#8a8a8a" stroke-width="0.6"/>
<line x1="200.20" y1="209.50" x2="200.20" y2="207.00" stroke="#8a8a8a" stroke-width="0.6"/>
<line x1="200.20" y1="29.50" x2="200.20" y2="32.00" stroke="#8a8a8a" stroke-width="0.6"/>
<text x="200.20" y="218.00" font-size="7.0" fill="#262626" text-anchor="middle" font-family="Liberation Sans" letter-spacing="-0.2" stroke="#262626" stroke-width="0.1">50</text>
<line x1="23.50" y1="205.90" x2="26.00" y2="205.90" stroke="#8a8a8a" stroke-width="0.6"/>
<line x1="204.50" y1="205.90" x2="202.00" y2="205.90" stroke="#8a8a8a" stroke-width="0.6"/>
<text x="21.00" y="208.40" font-size="7.0" fill="#262626" text-anchor="end" font-family="Liberation Sans" letter-spacing="-0.2" stroke="#262626" stroke-width="0.1">0.0</text>
<line x1="23.50" y1="197.25" x2="25.00" y2="197.25" stroke="#8a8a8a" stroke-width="0.6"/>
<line x1="204.50" y1="197.25" x2="203.00" y2="197.25" stroke="#8a8a8a" stroke-width="0.6"/>
<line x1="23.50" y1="188.60" x2="25.00" y2="188.60" stroke="#8a8a8a" stroke-width="0.6"/>
<line x1="204.50" y1="188.60" x2="203.00" y2="188.60" stroke="#8a8a8a" stroke-width="0.6"/>
<line x1="23.50" y1="179.95" x2="25.00" y2="179.95" stroke="#8a8a8a" stroke-width="0.6"/>
<line x1="204.50" y1="179.95" x2="203.00" y2="179.95" stroke="#8a8a8a" stroke-width="0.6"/>
<line x1="23.50" y1="171.30" x2="25.00" y2="171.30" stroke="#8a8a8a" stroke-width="0.6"/>
<line x1="204.50" y1="171.30" x2="203.00" y2="171.30" stroke="#8a8a8a" stroke-width="0.6"/>
<line x1="23.50" y1="162.65" x2="26.00" y2="162.65" stroke="#8a8a8a" stroke-width="0.6"/>
<line x1="204.50" y1="162.65" x2="202.00" y2="162.65" stroke="#8a8a8a" stroke-width="0.6"/>
<text x="21.00" y="165.15" font-size="7.0" fill="#262626" text-anchor="end" font-family="Liberation Sans" letter-spacing="-0.2" stroke="#262626" stroke-width="0.1">0.5</text>
<line x1="23.50" y1="154.00" x2="25.00" y2="154.00" stroke="#8a8a8a" stroke-width="0.6"/>
<line x1="204.50" y1="154.00" x2="203.00" y2="154.00" stroke="#8a8a8a" stroke-width="0.6"/>
<line x1="23.50" y1="145.35" x2="25.00" y2="145.35" stroke="#8a8a8a" stroke-width="0.6"/>
<line x1="204.50" y1="145.35" x2="203.00" y2="145.35" stroke="#8a8a8a" stroke-width="0.6"/>
<line x1="23.50" y1="136.70" x2="25.00" y2="136.70" stroke="#8a8a8a" stroke-width="0.6"/>
<line x1="204.50" y1="136.70" x2="203.00" y2="136.70" stroke="#8a8a8a" stroke-width="0.6"/>
<line x1="23.50" y1="128.05" x2="25.00" y2="128.05" stroke="#8a8a8a" stroke-width="0.6"/>
<line x1="204.50" y1="128.05" x2="203.00" y2="128.05" stroke="#8a8a8a" stroke-width="0.6"/>
<line x1="23.50" y1="119.40" x2="26.00" y2="119.40" stroke="#8a8a8a" stroke-width="0.6"/>
<line x1="204.50" y1="119.40" x2="202.00" y2="119.40" stroke="#8a8a8a" stroke-width="0.6"/>
<text x="21.00" y="121.90" font-size="7.0" fill="#262626" text-anchor="end" font-family="Liberation Sans" letter-spacing="-0.2" stroke="#262626" stroke-width="0.1">1.0</text>
<line x1="23.50" y1="110.75" x2="25.00" y2="110.75" stroke="#8a8a8a" stroke-width="0.6"/>
<line x1="204.50" y1="110.75" x2="203.00" y2="110.75" stroke="#8a8a8a" stroke-width="0.6"/>
<line x1="23.50" y1="102.10" x2="25.00" y2="102.10" stroke="#8a8a8a" stroke-width="0.6"/>
<line x1="204.50" y1="102.10" x2="203.00" y2="102.10" stroke="#8a8a8a" stroke-width="0.6"/>
<line x1="23.50" y1="93.45" x2="25.00" y2="93.45" stroke="#8a8a8a" stroke-width="0.6"/>
<line x1="204.50" y1="93.45" x2="203.00" y2="93.45" stroke="#8a8a8a" stroke-width="0.6"/>
<line x1="23.50" y1="84.80" x2="25.00" y2="84.80" stroke="#8a8a8a" stroke-width="0.6"/>
<line x1="204.50" y1="84.80" x2="203.00" y2="84.80" stroke="#8a8a8a" stroke-width="0.6"/>
<line x1="23.50" y1="76.15" x2="26.00" y2="76.15" stroke="#8a8a8a" stroke-width="0.6"/>
<line x1="204.50" y1="76.15" x2="202.00" y2="76.15" stroke="#8a8a8a" stroke-width="0.6"/>
<text x="21.00" y="78.65" font-size="7.0" fill="#262626" text-anchor="end" font-family="Liberation Sans" letter-spacing="-0.2" stroke="#262626" stroke-width="0.1">1.5</text>
<line x1="23.50" y1="67.50" x2="25.00" y2="67.50" stroke="#8a8a8a" stroke-width="0.6"/>
<line x1="204.50" y1="67.50" x2="203.00" y2="67.50" stroke="#8a8a8a" stroke-width="0.6"/>
<line x1="23.50" y1="58.85" x2="25.00" y2="58.85" stroke="#8a8a8a" stroke-width="0.6"/>
<line x1="204.50" y1="58.85" x2="203.00" y2="58.85" stroke="#8a8a8a" stroke-width="0.6"/>
<line x1="23.50" y1="50.20" x2="25.00" y2="50.20" stroke="#8a8a8a" stroke-width="0.6"/>
<line x1="204.50" y1="50.20" x2="203.00" y2="50.20" stroke="#8a8a8a" stroke-width="0.6"/>
<line x1="23.50" y1="41.55" x2="25.00" y2="41.55" stroke="#8a8a8a" stroke-width="0.6"/>
<line x1="204.50" y1="41.55" x2="203.00" y2="41.55" stroke="#8a8a8a" stroke-width="0.6"/>
<line x1="23.50" y1="32.90" x2="26.00" y2="32.90" stroke="#8a8a8a" stroke-width="0.6"/>
<line x1="204.50" y1="32.90" x2="202.00" y2="32.90" stroke="#8a8a8a" stroke-width="0.6"/>
<text x="21.00" y="35.40" font-size="7.0" fill="#262626" text-anchor="end" font-family="Liberation Sans" letter-spacing="-0.2" stroke="#262626" stroke-width="0.1">2.0</text>
<text x="113.55" y="229.70" font-size="7.0" fill="#262626" text-anchor="middle" font-family="Liberation Sans" letter-spacing="-0.2" stroke="#262626" stroke-width="0.1">t (ns)</text>
<text transform="translate(6.30,119.40) rotate(-90)" x="0" y="0" font-size="7.0" fill="#262626" text-anchor="middle" font-family="Liberation Sans" stroke="#262626" stroke-width="0.1">g (eV)</text>
<text x="178.45" y="42.00" font-size="10" fill="#fff" font-family="Liberation Mono" letter-spacing="0.45" stroke="#fff" stroke-width="0.35">(a)</text>
<rect x="263.5" y="30.5" width="181.0" height="180.0" fill="none" stroke="#c4c4c4" stroke-width="1"/>
<line x1="266.90" y1="210.50" x2="266.90" y2="208.00" stroke="#8a8a8a" stroke-width="0.6"/>
<line x1="266.90" y1="30.50" x2="266.90" y2="33.00" stroke="#8a8a8a" stroke-width="0.6"/>
<text x="266.90" y="219.00" font-size="7.0" fill="#262626" text-anchor="middle" font-family="Liberation Sans" letter-spacing="-0.2" stroke="#262626" stroke-width="0.1">0</text>
<line x1="273.83" y1="210.50" x2="273.83" y2="209.00" stroke="#8a8a8a" stroke-width="0.6"/>
<line x1="273.83" y1="30.50" x2="273.83" y2="32.00" stroke="#8a8a8a" stroke-width="0.6"/>
<line x1="280.76" y1="210.50" x2="280.76" y2="209.00" stroke="#8a8a8a" stroke-width="0.6"/>
<line x1="280.76" y1="30.50" x2="280.76" y2="32.00" stroke="#8a8a8a" stroke-width="0.6"/>
<line x1="287.70" y1="210.50" x2="287.70" y2="209.00" stroke="#8a8a8a" stroke-width="0.6"/>
<line x1="287.70" y1="30.50" x2="287.70" y2="32.00" stroke="#8a8a8a" stroke-width="0.6"/>
<line x1="294.63" y1="210.50" x2="294.63" y2="209.00" stroke="#8a8a8a" stroke-width="0.6"/>
<line x1="294.63" y1="30.50" x2="294.63" y2="32.00" stroke="#8a8a8a" stroke-width="0.6"/>
<line x1="301.56" y1="210.50" x2="301.56" y2="208.00" stroke="#8a8a8a" stroke-width="0.6"/>
<line x1="301.56" y1="30.50" x2="301.56" y2="33.00" stroke="#8a8a8a" stroke-width="0.6"/>
<text x="301.56" y="219.00" font-size="7.0" fill="#262626" text-anchor="middle" font-family="Liberation Sans" letter-spacing="-0.2" stroke="#262626" stroke-width="0.1">10</text>
<line x1="308.49" y1="210.50" x2="308.49" y2="209.00" stroke="#8a8a8a" stroke-width="0.6"/>
<line x1="308.49" y1="30.50" x2="308.49" y2="32.00" stroke="#8a8a8a" stroke-width="0.6"/>
<line x1="315.42" y1="210.50" x2="315.42" y2="209.00" stroke="#8a8a8a" stroke-width="0.6"/>
<line x1="315.42" y1="30.50" x2="315.42" y2="32.00" stroke="#8a8a8a" stroke-width="0.6"/>
<line x1="322.36" y1="210.50" x2="322.36" y2="209.00" stroke="#8a8a8a" stroke-width="0.6"/>
<line x1="322.36" y1="30.50" x2="322.36" y2="32.00" stroke="#8a8a8a" stroke-width="0.6"/>
<line x1="329.29" y1="210.50" x2="329.29" y2="209.00" stroke="#8a8a8a" stroke-width="0.6"/>
<line x1="329.29" y1="30.50" x2="329.29" y2="32.00" stroke="#8a8a8a" stroke-width="0.6"/>
<line x1="336.22" y1="210.50" x2="336.22" y2="208.00" stroke="#8a8a8a" stroke-width="0.6"/>
<line x1="336.22" y1="30.50" x2="336.22" y2="33.00" stroke="#8a8a8a" stroke-width="0.6"/>
<text x="336.22" y="219.00" font-size="7.0" fill="#262626" text-anchor="middle" font-family="Liberation Sans" letter-spacing="-0.2" stroke="#262626" stroke-width="0.1">20</text>
<line x1="343.15" y1="210.50" x2="343.15" y2="209.00" stroke="#8a8a8a" stroke-width="0.6"/>
<line x1="343.15" y1="30.50" x2="343.15" y2="32.00" stroke="#8a8a8a" stroke-width="0.6"/>
<line x1="350.08" y1="210.50" x2="350.08" y2="209.00" stroke="#8a8a8a" stroke-width="0.6"/>
<line x1="350.08" y1="30.50" x2="350.08" y2="32.00" stroke="#8a8a8a" stroke-width="0.6"/>
<line x1="357.02" y1="210.50" x2="357.02" y2="209.00" stroke="#8a8a8a" stroke-width="0.6"/>
<line x1="357.02" y1="30.50" x2="357.02" y2="32.00" stroke="#8a8a8a" stroke-width="0.6"/>
<line x1="363.95" y1="210.50" x2="363.95" y2="209.00" stroke="#8a8a8a" stroke-width="0.6"/>
<line x1="363.95" y1="30.50" x2="363.95" y2="32.00" stroke="#8a8a8a" stroke-width="0.6"/>
<line x1="370.88" y1="210.50" x2="370.88" y2="208.00" stroke="#8a8a8a" stroke-width="0.6"/>
<line x1="370.88" y1="30.50" x2="370.88" y2="33.00" stroke="#8a8a8a" stroke-width="0.6"/>
<text x="370.88" y="219.00" font-size="7.0" fill="#262626" text-anchor="middle" font-family="Liberation Sans" letter-spacing="-0.2" stroke="#262626" stroke-width="0.1">30</text>
<line x1="377.81" y1="210.50" x2="377.81" y2="209.00" stroke="#8a8a8a" stroke-width="0.6"/>
<line x1="377.81" y1="30.50" x2="377.81" y2="32.00" stroke="#8a8a8a" stroke-width="0.6"/>
<line x1="384.74" y1="210.50" x2="384.74" y2="209.00" stroke="#8a8a8a" stroke-width="0.6"/>
<line x1="384.74" y1="30.50" x2="384.74" y2="32.00" stroke="#8a8a8a" stroke-width="0.6"/>
<line x1="391.68" y1="210.50" x2="391.68" y2="209.00" stroke="#8a8a8a" stroke-width="0.6"/>
<line x1="391.68" y1="30.50" x2="391.68" y2="32.00" stroke="#8a8a8a" stroke-width="0.6"/>
<line x1="398.61" y1="210.50" x2="398.61" y2="209.00" stroke="#8a8a8a" stroke-width="0.6"/>
<line x1="398.61" y1="30.50" x2="398.61" y2="32.00" stroke="#8a8a8a" stroke-width="0.6"/>
<line x1="405.54" y1="210.50" x2="405.54" y2="208.00" stroke="#8a8a8a" stroke-width="0.6"/>
<line x1="405.54" y1="30.50" x2="405.54" y2="33.00" stroke="#8a8a8a" stroke-width="0.6"/>
<text x="405.54" y="219.00" font-size="7.0" fill="#262626" text-anchor="middle" font-family="Liberation Sans" letter-spacing="-0.2" stroke="#262626" stroke-width="0.1">40</text>
<line x1="412.47" y1="210.50" x2="412.47" y2="209.00" stroke="#8a8a8a" stroke-width="0.6"/>
<line x1="412.47" y1="30.50" x2="412.47" y2="32.00" stroke="#8a8a8a" stroke-width="0.6"/>
<line x1="419.40" y1="210.50" x2="419.40" y2="209.00" stroke="#8a8a8a" stroke-width="0.6"/>
<line x1="419.40" y1="30.50" x2="419.40" y2="32.00" stroke="#8a8a8a" stroke-width="0.6"/>
<line x1="426.34" y1="210.50" x2="426.34" y2="209.00" stroke="#8a8a8a" stroke-width="0.6"/>
<line x1="426.34" y1="30.50" x2="426.34" y2="32.00" stroke="#8a8a8a" stroke-width="0.6"/>
<line x1="433.27" y1="210.50" x2="433.27" y2="209.00" stroke="#8a8a8a" stroke-width="0.6"/>
<line x1="433.27" y1="30.50" x2="433.27" y2="32.00" stroke="#8a8a8a" stroke-width="0.6"/>
<line x1="440.20" y1="210.50" x2="440.20" y2="208.00" stroke="#8a8a8a" stroke-width="0.6"/>
<line x1="440.20" y1="30.50" x2="440.20" y2="33.00" stroke="#8a8a8a" stroke-width="0.6"/>
<text x="440.20" y="219.00" font-size="7.0" fill="#262626" text-anchor="middle" font-family="Liberation Sans" letter-spacing="-0.2" stroke="#262626" stroke-width="0.1">50</text>
<line x1="263.50" y1="206.90" x2="266.00" y2="206.90" stroke="#8a8a8a" stroke-width="0.6"/>
<line x1="444.50" y1="206.90" x2="442.00" y2="206.90" stroke="#8a8a8a" stroke-width="0.6"/>
<text x="261.00" y="209.40" font-size="7.0" fill="#262626" text-anchor="end" font-family="Liberation Sans" letter-spacing="-0.2" stroke="#262626" stroke-width="0.1">0.0</text>
<line x1="263.50" y1="198.25" x2="265.00" y2="198.25" stroke="#8a8a8a" stroke-width="0.6"/>
<line x1="444.50" y1="198.25" x2="443.00" y2="198.25" stroke="#8a8a8a" stroke-width="0.6"/>
<line x1="263.50" y1="189.60" x2="265.00" y2="189.60" stroke="#8a8a8a" stroke-width="0.6"/>
<line x1="444.50" y1="189.60" x2="443.00" y2="189.60" stroke="#8a8a8a" stroke-width="0.6"/>
<line x1="263.50" y1="180.95" x2="265.00" y2="180.95" stroke="#8a8a8a" stroke-width="0.6"/>
<line x1="444.50" y1="180.95" x2="443.00" y2="180.95" stroke="#8a8a8a" stroke-width="0.6"/>
<line x1="263.50" y1="172.30" x2="265.00" y2="172.30" stroke="#8a8a8a" stroke-width="0.6"/>
<line x1="444.50" y1="172.30" x2="443.00" y2="172.30" stroke="#8a8a8a" stroke-width="0.6"/>
<line x1="263.50" y1="163.65" x2="266.00" y2="163.65" stroke="#8a8a8a" stroke-width="0.6"/>
<line x1="444.50" y1="163.65" x2="442.00" y2="163.65" stroke="#8a8a8a" stroke-width="0.6"/>
<text x="261.00" y="166.15" font-size="7.0" fill="#262626" text-anchor="end" font-family="Liberation Sans" letter-spacing="-0.2" stroke="#262626" stroke-width="0.1">0.5</text>
<line x1="263.50" y1="155.00" x2="265.00" y2="155.00" stroke="#8a8a8a" stroke-width="0.6"/>
<line x1="444.50" y1="155.00" x2="443.00" y2="155.00" stroke="#8a8a8a" stroke-width="0.6"/>
<line x1="263.50" y1="146.35" x2="265.00" y2="146.35" stroke="#8a8a8a" stroke-width="0.6"/>
<line x1="444.50" y1="146.35" x2="443.00" y2="146.35" stroke="#8a8a8a" stroke-width="0.6"/>
<line x1="263.50" y1="137.70" x2="265.00" y2="137.70" stroke="#8a8a8a" stroke-width="0.6"/>
<line x1="444.50" y1="137.70" x2="443.00" y2="137.70" stroke="#8a8a8a" stroke-width="0.6"/>
<line x1="263.50" y1="129.05" x2="265.00" y2="129.05" stroke="#8a8a8a" stroke-width="0.6"/>
<line x1="444.50" y1="129.05" x2="443.00" y2="129.05" stroke="#8a8a8a" stroke-width="0.6"/>
<line x1="263.50" y1="120.40" x2="266.00" y2="120.40" stroke="#8a8a8a" stroke-width="0.6"/>
<line x1="444.50" y1="120.40" x2="442.00" y2="120.40" stroke="#8a8a8a" stroke-width="0.6"/>
<text x="261.00" y="122.90" font-size="7.0" fill="#262626" text-anchor="end" font-family="Liberation Sans" letter-spacing="-0.2" stroke="#262626" stroke-width="0.1">1.0</text>
<line x1="263.50" y1="111.75" x2="265.00" y2="111.75" stroke="#8a8a8a" stroke-width="0.6"/>
<line x1="444.50" y1="111.75" x2="443.00" y2="111.75" stroke="#8a8a8a" stroke-width="0.6"/>
<line x1="263.50" y1="103.10" x2="265.00" y2="103.10" stroke="#8a8a8a" stroke-width="0.6"/>
<line x1="444.50" y1="103.10" x2="443.00" y2="103.10" stroke="#8a8a8a" stroke-width="0.6"/>
<line x1="263.50" y1="94.45" x2="265.00" y2="94.45" stroke="#8a8a8a" stroke-width="0.6"/>
<line x1="444.50" y1="94.45" x2="443.00" y2="94.45" stroke="#8a8a8a" stroke-width="0.6"/>
<line x1="263.50" y1="85.80" x2="265.00" y2="85.80" stroke="#8a8a8a" stroke-width="0.6"/>
<line x1="444.50" y1="85.80" x2="443.00" y2="85.80" stroke="#8a8a8a" stroke-width="0.6"/>
<line x1="263.50" y1="77.15" x2="266.00" y2="77.15" stroke="#8a8a8a" stroke-width="0.6"/>
<line x1="444.50" y1="77.15" x2="442.00" y2="77.15" stroke="#8a8a8a" stroke-width="0.6"/>
<text x="261.00" y="79.65" font-size="7.0" fill="#262626" text-anchor="end" font-family="Liberation Sans" letter-spacing="-0.2" stroke="#262626" stroke-width="0.1">1.5</text>
<line x1="263.50" y1="68.50" x2="265.00" y2="68.50" stroke="#8a8a8a" stroke-width="0.6"/>
<line x1="444.50" y1="68.50" x2="443.00" y2="68.50" stroke="#8a8a8a" stroke-width="0.6"/>
<line x1="263.50" y1="59.85" x2="265.00" y2="59.85" stroke="#8a8a8a" stroke-width="0.6"/>
<line x1="444.50" y1="59.85" x2="443.00" y2="59.85" stroke="#8a8a8a" stroke-width="0.6"/>
<line x1="263.50" y1="51.20" x2="265.00" y2="51.20" stroke="#8a8a8a" stroke-width="0.6"/>
<line x1="444.50" y1="51.20" x2="443.00" y2="51.20" stroke="#8a8a8a" stroke-width="0.6"/>
<line x1="263.50" y1="42.55" x2="265.00" y2="42.55" stroke="#8a8a8a" stroke-width="0.6"/>
<line x1="444.50" y1="42.55" x2="443.00" y2="42.55" stroke="#8a8a8a" stroke-width="0.6"/>
<line x1="263.50" y1="33.90" x2="266.00" y2="33.90" stroke="#8a8a8a" stroke-width="0.6"/>
<line x1="444.50" y1="33.90" x2="442.00" y2="33.90" stroke="#8a8a8a" stroke-width="0.6"/>
<text x="261.00" y="36.40" font-size="7.0" fill="#262626" text-anchor="end" font-family="Liberation Sans" letter-spacing="-0.2" stroke="#262626" stroke-width="0.1">2.0</text>
<text x="353.55" y="230.70" font-size="7.0" fill="#262626" text-anchor="middle" font-family="Liberation Sans" letter-spacing="-0.2" stroke="#262626" stroke-width="0.1">t (ns)</text>
<text transform="translate(246.30,120.40) rotate(-90)" x="0" y="0" font-size="7.0" fill="#262626" text-anchor="middle" font-family="Liberation Sans" stroke="#262626" stroke-width="0.1">g (eV)</text>
<text x="420.15" y="41.80" font-size="10" fill="#fff" font-family="Liberation Mono" letter-spacing="0.40" stroke="#fff" stroke-width="0.35">(b)</text>
<rect x="503.5" y="29.5" width="181.0" height="180.0" fill="none" stroke="#c4c4c4" stroke-width="1"/>
<line x1="506.90" y1="209.50" x2="506.90" y2="207.00" stroke="#8a8a8a" stroke-width="0.6"/>
<line x1="506.90" y1="29.50" x2="506.90" y2="32.00" stroke="#8a8a8a" stroke-width="0.6"/>
<text x="506.90" y="218.00" font-size="7.0" fill="#262626" text-anchor="middle" font-family="Liberation Sans" letter-spacing="-0.2" stroke="#262626" stroke-width="0.1">0</text>
<line x1="513.83" y1="209.50" x2="513.83" y2="208.00" stroke="#8a8a8a" stroke-width="0.6"/>
<line x1="513.83" y1="29.50" x2="513.83" y2="31.00" stroke="#8a8a8a" stroke-width="0.6"/>
<line x1="520.76" y1="209.50" x2="520.76" y2="208.00" stroke="#8a8a8a" stroke-width="0.6"/>
<line x1="520.76" y1="29.50" x2="520.76" y2="31.00" stroke="#8a8a8a" stroke-width="0.6"/>
<line x1="527.70" y1="209.50" x2="527.70" y2="208.00" stroke="#8a8a8a" stroke-width="0.6"/>
<line x1="527.70" y1="29.50" x2="527.70" y2="31.00" stroke="#8a8a8a" stroke-width="0.6"/>
<line x1="534.63" y1="209.50" x2="534.63" y2="208.00" stroke="#8a8a8a" stroke-width="0.6"/>
<line x1="534.63" y1="29.50" x2="534.63" y2="31.00" stroke="#8a8a8a" stroke-width="0.6"/>
<line x1="541.56" y1="209.50" x2="541.56" y2="207.00" stroke="#8a8a8a" stroke-width="0.6"/>
<line x1="541.56" y1="29.50" x2="541.56" y2="32.00" stroke="#8a8a8a" stroke-width="0.6"/>
<text x="541.56" y="218.00" font-size="7.0" fill="#262626" text-anchor="middle" font-family="Liberation Sans" letter-spacing="-0.2" stroke="#262626" stroke-width="0.1">10</text>
<line x1="548.49" y1="209.50" x2="548.49" y2="208.00" stroke="#8a8a8a" stroke-width="0.6"/>
<line x1="548.49" y1="29.50" x2="548.49" y2="31.00" stroke="#8a8a8a" stroke-width="0.6"/>
<line x1="555.42" y1="209.50" x2="555.42" y2="208.00" stroke="#8a8a8a" stroke-width="0.6"/>
<line x1="555.42" y1="29.50" x2="555.42" y2="31.00" stroke="#8a8a8a" stroke-width="0.6"/>
<line x1="562.36" y1="209.50" x2="562.36" y2="208.00" stroke="#8a8a8a" stroke-width="0.6"/>
<line x1="562.36" y1="29.50" x2="562.36" y2="31.00" stroke="#8a8a8a" stroke-width="0.6"/>
<line x1="569.29" y1="209.50" x2="569.29" y2="208.00" stroke="#8a8a8a" stroke-width="0.6"/>
<line x1="569.29" y1="29.50" x2="569.29" y2="31.00" stroke="#8a8a8a" stroke-width="0.6"/>
<line x1="576.22" y1="209.50" x2="576.22" y2="207.00" stroke="#8a8a8a" stroke-width="0.6"/>
<line x1="576.22" y1="29.50" x2="576.22" y2="32.00" stroke="#8a8a8a" stroke-width="0.6"/>
<text x="576.22" y="218.00" font-size="7.0" fill="#262626" text-anchor="middle" font-family="Liberation Sans" letter-spacing="-0.2" stroke="#262626" stroke-width="0.1">20</text>
<line x1="583.15" y1="209.50" x2="583.15" y2="208.00" stroke="#8a8a8a" stroke-width="0.6"/>
<line x1="583.15" y1="29.50" x2="583.15" y2="31.00" stroke="#8a8a8a" stroke-width="0.6"/>
<line x1="590.08" y1="209.50" x2="590.08" y2="208.00" stroke="#8a8a8a" stroke-width="0.6"/>
<line x1="590.08" y1="29.50" x2="590.08" y2="31.00" stroke="#8a8a8a" stroke-width="0.6"/>
<line x1="597.02" y1="209.50" x2="597.02" y2="208.00" stroke="#8a8a8a" stroke-width="0.6"/>
<line x1="597.02" y1="29.50" x2="597.02" y2="31.00" stroke="#8a8a8a" stroke-width="0.6"/>
<line x1="603.95" y1="209.50" x2="603.95" y2="208.00" stroke="#8a8a8a" stroke-width="0.6"/>
<line x1="603.95" y1="29.50" x2="603.95" y2="31.00" stroke="#8a8a8a" stroke-width="0.6"/>
<line x1="610.88" y1="209.50" x2="610.88" y2="207.00" stroke="#8a8a8a" stroke-width="0.6"/>
<line x1="610.88" y1="29.50" x2="610.88" y2="32.00" stroke="#8a8a8a" stroke-width="0.6"/>
<text x="610.88" y="218.00" font-size="7.0" fill="#262626" text-anchor="middle" font-family="Liberation Sans" letter-spacing="-0.2" stroke="#262626" stroke-width="0.1">30</text>
<line x1="617.81" y1="209.50" x2="617.81" y2="208.00" stroke="#8a8a8a" stroke-width="0.6"/>
<line x1="617.81" y1="29.50" x2="617.81" y2="31.00" stroke="#8a8a8a" stroke-width="0.6"/>
<line x1="624.74" y1="209.50" x2="624.74" y2="208.00" stroke="#8a8a8a" stroke-width="0.6"/>
<line x1="624.74" y1="29.50" x2="624.74" y2="31.00" stroke="#8a8a8a" stroke-width="0.6"/>
<line x1="631.68" y1="209.50" x2="631.68" y2="208.00" stroke="#8a8a8a" stroke-width="0.6"/>
<line x1="631.68" y1="29.50" x2="631.68" y2="31.00" stroke="#8a8a8a" stroke-width="0.6"/>
<line x1="638.61" y1="209.50" x2="638.61" y2="208.00" stroke="#8a8a8a" stroke-width="0.6"/>
<line x1="638.61" y1="29.50" x2="638.61" y2="31.00" stroke="#8a8a8a" stroke-width="0.6"/>
<line x1="645.54" y1="209.50" x2="645.54" y2="207.00" stroke="#8a8a8a" stroke-width="0.6"/>
<line x1="645.54" y1="29.50" x2="645.54" y2="32.00" stroke="#8a8a8a" stroke-width="0.6"/>
<text x="645.54" y="218.00" font-size="7.0" fill="#262626" text-anchor="middle" font-family="Liberation Sans" letter-spacing="-0.2" stroke="#262626" stroke-width="0.1">40</text>
<line x1="652.47" y1="209.50" x2="652.47" y2="208.00" stroke="#8a8a8a" stroke-width="0.6"/>
<line x1="652.47" y1="29.50" x2="652.47" y2="31.00" stroke="#8a8a8a" stroke-width="0.6"/>
<line x1="659.40" y1="209.50" x2="659.40" y2="208.00" stroke="#8a8a8a" stroke-width="0.6"/>
<line x1="659.40" y1="29.50" x2="659.40" y2="31.00" stroke="#8a8a8a" stroke-width="0.6"/>
<line x1="666.34" y1="209.50" x2="666.34" y2="208.00" stroke="#8a8a8a" stroke-width="0.6"/>
<line x1="666.34" y1="29.50" x2="666.34" y2="31.00" stroke="#8a8a8a" stroke-width="0.6"/>
<line x1="673.27" y1="209.50" x2="673.27" y2="208.00" stroke="#8a8a8a" stroke-width="0.6"/>
<line x1="673.27" y1="29.50" x2="673.27" y2="31.00" stroke="#8a8a8a" stroke-width="0.6"/>
<line x1="680.20" y1="209.50" x2="680.20" y2="207.00" stroke="#8a8a8a" stroke-width="0.6"/>
<line x1="680.20" y1="29.50" x2="680.20" y2="32.00" stroke="#8a8a8a" stroke-width="0.6"/>
<text x="680.20" y="218.00" font-size="7.0" fill="#262626" text-anchor="middle" font-family="Liberation Sans" letter-spacing="-0.2" stroke="#262626" stroke-width="0.1">50</text>
<line x1="503.50" y1="205.90" x2="506.00" y2="205.90" stroke="#8a8a8a" stroke-width="0.6"/>
<line x1="684.50" y1="205.90" x2="682.00" y2="205.90" stroke="#8a8a8a" stroke-width="0.6"/>
<text x="501.00" y="208.40" font-size="7.0" fill="#262626" text-anchor="end" font-family="Liberation Sans" letter-spacing="-0.2" stroke="#262626" stroke-width="0.1">0.0</text>
<line x1="503.50" y1="197.25" x2="505.00" y2="197.25" stroke="#8a8a8a" stroke-width="0.6"/>
<line x1="684.50" y1="197.25" x2="683.00" y2="197.25" stroke="#8a8a8a" stroke-width="0.6"/>
<line x1="503.50" y1="188.60" x2="505.00" y2="188.60" stroke="#8a8a8a" stroke-width="0.6"/>
<line x1="684.50" y1="188.60" x2="683.00" y2="188.60" stroke="#8a8a8a" stroke-width="0.6"/>
<line x1="503.50" y1="179.95" x2="505.00" y2="179.95" stroke="#8a8a8a" stroke-width="0.6"/>
<line x1="684.50" y1="179.95" x2="683.00" y2="179.95" stroke="#8a8a8a" stroke-width="0.6"/>
<line x1="503.50" y1="171.30" x2="505.00" y2="171.30" stroke="#8a8a8a" stroke-width="0.6"/>
<line x1="684.50" y1="171.30" x2="683.00" y2="171.30" stroke="#8a8a8a" stroke-width="0.6"/>
<line x1="503.50" y1="162.65" x2="506.00" y2="162.65" stroke="#8a8a8a" stroke-width="0.6"/>
<line x1="684.50" y1="162.65" x2="682.00" y2="162.65" stroke="#8a8a8a" stroke-width="0.6"/>
<text x="501.00" y="165.15" font-size="7.0" fill="#262626" text-anchor="end" font-family="Liberation Sans" letter-spacing="-0.2" stroke="#262626" stroke-width="0.1">0.5</text>
<line x1="503.50" y1="154.00" x2="505.00" y2="154.00" stroke="#8a8a8a" stroke-width="0.6"/>
<line x1="684.50" y1="154.00" x2="683.00" y2="154.00" stroke="#8a8a8a" stroke-width="0.6"/>
<line x1="503.50" y1="145.35" x2="505.00" y2="145.35" stroke="#8a8a8a" stroke-width="0.6"/>
<line x1="684.50" y1="145.35" x2="683.00" y2="145.35" stroke="#8a8a8a" stroke-width="0.6"/>
<line x1="503.50" y1="136.70" x2="505.00" y2="136.70" stroke="#8a8a8a" stroke-width="0.6"/>
<line x1="684.50" y1="136.70" x2="683.00" y2="136.70" stroke="#8a8a8a" stroke-width="0.6"/>
<line x1="503.50" y1="128.05" x2="505.00" y2="128.05" stroke="#8a8a8a" stroke-width="0.6"/>
<line x1="684.50" y1="128.05" x2="683.00" y2="128.05" stroke="#8a8a8a" stroke-width="0.6"/>
<line x1="503.50" y1="119.40" x2="506.00" y2="119.40" stroke="#8a8a8a" stroke-width="0.6"/>
<line x1="684.50" y1="119.40" x2="682.00" y2="119.40" stroke="#8a8a8a" stroke-width="0.6"/>
<text x="501.00" y="121.90" font-size="7.0" fill="#262626" text-anchor="end" font-family="Liberation Sans" letter-spacing="-0.2" stroke="#262626" stroke-width="0.1">1.0</text>
<line x1="503.50" y1="110.75" x2="505.00" y2="110.75" stroke="#8a8a8a" stroke-width="0.6"/>
<line x1="684.50" y1="110.75" x2="683.00" y2="110.75" stroke="#8a8a8a" stroke-width="0.6"/>
<line x1="503.50" y1="102.10" x2="505.00" y2="102.10" stroke="#8a8a8a" stroke-width="0.6"/>
<line x1="684.50" y1="102.10" x2="683.00" y2="102.10" stroke="#8a8a8a" stroke-width="0.6"/>
<line x1="503.50" y1="93.45" x2="505.00" y2="93.45" stroke="#8a8a8a" stroke-width="0.6"/>
<line x1="684.50" y1="93.45" x2="683.00" y2="93.45" stroke="#8a8a8a" stroke-width="0.6"/>
<line x1="503.50" y1="84.80" x2="505.00" y2="84.80" stroke="#8a8a8a" stroke-width="0.6"/>
<line x1="684.50" y1="84.80" x2="683.00" y2="84.80" stroke="#8a8a8a" stroke-width="0.6"/>
<line x1="503.50" y1="76.15" x2="506.00" y2="76.15" stroke="#8a8a8a" stroke-width="0.6"/>
<line x1="684.50" y1="76.15" x2="682.00" y2="76.15" stroke="#8a8a8a" stroke-width="0.6"/>
<text x="501.00" y="78.65" font-size="7.0" fill="#262626" text-anchor="end" font-family="Liberation Sans" letter-spacing="-0.2" stroke="#262626" stroke-width="0.1">1.5</text>
<line x1="503.50" y1="67.50" x2="505.00" y2="67.50" stroke="#8a8a8a" stroke-width="0.6"/>
<line x1="684.50" y1="67.50" x2="683.00" y2="67.50" stroke="#8a8a8a" stroke-width="0.6"/>
<line x1="503.50" y1="58.85" x2="505.00" y2="58.85" stroke="#8a8a8a" stroke-width="0.6"/>
<line x1="684.50" y1="58.85" x2="683.00" y2="58.85" stroke="#8a8a8a" stroke-width="0.6"/>
<line x1="503.50" y1="50.20" x2="505.00" y2="50.20" stroke="#8a8a8a" stroke-width="0.6"/>
<line x1="684.50" y1="50.20" x2="683.00" y2="50.20" stroke="#8a8a8a" stroke-width="0.6"/>
<line x1="503.50" y1="41.55" x2="505.00" y2="41.55" stroke="#8a8a8a" stroke-width="0.6"/>
<line x1="684.50" y1="41.55" x2="683.00" y2="41.55" stroke="#8a8a8a" stroke-width="0.6"/>
<line x1="503.50" y1="32.90" x2="506.00" y2="32.90" stroke="#8a8a8a" stroke-width="0.6"/>
<line x1="684.50" y1="32.90" x2="682.00" y2="32.90" stroke="#8a8a8a" stroke-width="0.6"/>
<text x="501.00" y="35.40" font-size="7.0" fill="#262626" text-anchor="end" font-family="Liberation Sans" letter-spacing="-0.2" stroke="#262626" stroke-width="0.1">2.0</text>
<text x="593.55" y="229.70" font-size="7.0" fill="#262626" text-anchor="middle" font-family="Liberation Sans" letter-spacing="-0.2" stroke="#262626" stroke-width="0.1">t (ns)</text>
<text transform="translate(486.30,119.40) rotate(-90)" x="0" y="0" font-size="7.0" fill="#262626" text-anchor="middle" font-family="Liberation Sans" stroke="#262626" stroke-width="0.1">g (eV)</text>
<text x="661.25" y="41.90" font-size="10" fill="#fff" font-family="Liberation Mono" letter-spacing="0.45" stroke="#fff" stroke-width="0.35">(c)</text>
<rect x="27.5" y="287.5" width="176.0" height="176.0" fill="none" stroke="#c4c4c4" stroke-width="1"/>
<line x1="31.00" y1="463.50" x2="31.00" y2="461.00" stroke="#8a8a8a" stroke-width="0.6"/>
<line x1="31.00" y1="287.50" x2="31.00" y2="290.00" stroke="#8a8a8a" stroke-width="0.6"/>
<text x="31.00" y="472.00" font-size="7.0" fill="#262626" text-anchor="middle" font-family="Liberation Sans" letter-spacing="-0.2" stroke="#262626" stroke-width="0.1">0</text>
<line x1="37.77" y1="463.50" x2="37.77" y2="462.00" stroke="#8a8a8a" stroke-width="0.6"/>
<line x1="37.77" y1="287.50" x2="37.77" y2="289.00" stroke="#8a8a8a" stroke-width="0.6"/>
<line x1="44.54" y1="463.50" x2="44.54" y2="462.00" stroke="#8a8a8a" stroke-width="0.6"/>
<line x1="44.54" y1="287.50" x2="44.54" y2="289.00" stroke="#8a8a8a" stroke-width="0.6"/>
<line x1="51.30" y1="463.50" x2="51.30" y2="462.00" stroke="#8a8a8a" stroke-width="0.6"/>
<line x1="51.30" y1="287.50" x2="51.30" y2="289.00" stroke="#8a8a8a" stroke-width="0.6"/>
<line x1="58.07" y1="463.50" x2="58.07" y2="462.00" stroke="#8a8a8a" stroke-width="0.6"/>
<line x1="58.07" y1="287.50" x2="58.07" y2="289.00" stroke="#8a8a8a" stroke-width="0.6"/>
<line x1="64.84" y1="463.50" x2="64.84" y2="461.00" stroke="#8a8a8a" stroke-width="0.6"/>
<line x1="64.84" y1="287.50" x2="64.84" y2="290.00" stroke="#8a8a8a" stroke-width="0.6"/>
<text x="64.84" y="472.00" font-size="7.0" fill="#262626" text-anchor="middle" font-family="Liberation Sans" letter-spacing="-0.2" stroke="#262626" stroke-width="0.1">10</text>
<line x1="71.61" y1="463.50" x2="71.61" y2="462.00" stroke="#8a8a8a" stroke-width="0.6"/>
<line x1="71.61" y1="287.50" x2="71.61" y2="289.00" stroke="#8a8a8a" stroke-width="0.6"/>
<line x1="78.38" y1="463.50" x2="78.38" y2="462.00" stroke="#8a8a8a" stroke-width="0.6"/>
<line x1="78.38" y1="287.50" x2="78.38" y2="289.00" stroke="#8a8a8a" stroke-width="0.6"/>
<line x1="85.14" y1="463.50" x2="85.14" y2="462.00" stroke="#8a8a8a" stroke-width="0.6"/>
<line x1="85.14" y1="287.50" x2="85.14" y2="289.00" stroke="#8a8a8a" stroke-width="0.6"/>
<line x1="91.91" y1="463.50" x2="91.91" y2="462.00" stroke="#8a8a8a" stroke-width="0.6"/>
<line x1="91.91" y1="287.50" x2="91.91" y2="289.00" stroke="#8a8a8a" stroke-width="0.6"/>
<line x1="98.68" y1="463.50" x2="98.68" y2="461.00" stroke="#8a8a8a" stroke-width="0.6"/>
<line x1="98.68" y1="287.50" x2="98.68" y2="290.00" stroke="#8a8a8a" stroke-width="0.6"/>
<text x="98.68" y="472.00" font-size="7.0" fill="#262626" text-anchor="middle" font-family="Liberation Sans" letter-spacing="-0.2" stroke="#262626" stroke-width="0.1">20</text>
<line x1="105.45" y1="463.50" x2="105.45" y2="462.00" stroke="#8a8a8a" stroke-width="0.6"/>
<line x1="105.45" y1="287.50" x2="105.45" y2="289.00" stroke="#8a8a8a" stroke-width="0.6"/>
<line x1="112.22" y1="463.50" x2="112.22" y2="462.00" stroke="#8a8a8a" stroke-width="0.6"/>
<line x1="112.22" y1="287.50" x2="112.22" y2="289.00" stroke="#8a8a8a" stroke-width="0.6"/>
<line x1="118.98" y1="463.50" x2="118.98" y2="462.00" stroke="#8a8a8a" stroke-width="0.6"/>
<line x1="118.98" y1="287.50" x2="118.98" y2="289.00" stroke="#8a8a8a" stroke-width="0.6"/>
<line x1="125.75" y1="463.50" x2="125.75" y2="462.00" stroke="#8a8a8a" stroke-width="0.6"/>
<line x1="125.75" y1="287.50" x2="125.75" y2="289.00" stroke="#8a8a8a" stroke-width="0.6"/>
<line x1="132.52" y1="463.50" x2="132.52" y2="461.00" stroke="#8a8a8a" stroke-width="0.6"/>
<line x1="132.52" y1="287.50" x2="132.52" y2="290.00" stroke="#8a8a8a" stroke-width="0.6"/>
<text x="132.52" y="472.00" font-size="7.0" fill="#262626" text-anchor="middle" font-family="Liberation Sans" letter-spacing="-0.2" stroke="#262626" stroke-width="0.1">30</text>
<line x1="139.29" y1="463.50" x2="139.29" y2="462.00" stroke="#8a8a8a" stroke-width="0.6"/>
<line x1="139.29" y1="287.50" x2="139.29" y2="289.00" stroke="#8a8a8a" stroke-width="0.6"/>
<line x1="146.06" y1="463.50" x2="146.06" y2="462.00" stroke="#8a8a8a" stroke-width="0.6"/>
<line x1="146.06" y1="287.50" x2="146.06" y2="289.00" stroke="#8a8a8a" stroke-width="0.6"/>
<line x1="152.82" y1="463.50" x2="152.82" y2="462.00" stroke="#8a8a8a" stroke-width="0.6"/>
<line x1="152.82" y1="287.50" x2="152.82" y2="289.00" stroke="#8a8a8a" stroke-width="0.6"/>
<line x1="159.59" y1="463.50" x2="159.59" y2="462.00" stroke="#8a8a8a" stroke-width="0.6"/>
<line x1="159.59" y1="287.50" x2="159.59" y2="289.00" stroke="#8a8a8a" stroke-width="0.6"/>
<line x1="166.36" y1="463.50" x2="166.36" y2="461.00" stroke="#8a8a8a" stroke-width="0.6"/>
<line x1="166.36" y1="287.50" x2="166.36" y2="290.00" stroke="#8a8a8a" stroke-width="0.6"/>
<text x="166.36" y="472.00" font-size="7.0" fill="#262626" text-anchor="middle" font-family="Liberation Sans" letter-spacing="-0.2" stroke="#262626" stroke-width="0.1">40</text>
<line x1="173.13" y1="463.50" x2="173.13" y2="462.00" stroke="#8a8a8a" stroke-width="0.6"/>
<line x1="173.13" y1="287.50" x2="173.13" y2="289.00" stroke="#8a8a8a" stroke-width="0.6"/>
<line x1="179.90" y1="463.50" x2="179.90" y2="462.00" stroke="#8a8a8a" stroke-width="0.6"/>
<line x1="179.90" y1="287.50" x2="179.90" y2="289.00" stroke="#8a8a8a" stroke-width="0.6"/>
<line x1="186.66" y1="463.50" x2="186.66" y2="462.00" stroke="#8a8a8a" stroke-width="0.6"/>
<line x1="186.66" y1="287.50" x2="186.66" y2="289.00" stroke="#8a8a8a" stroke-width="0.6"/>
<line x1="193.43" y1="463.50" x2="193.43" y2="462.00" stroke="#8a8a8a" stroke-width="0.6"/>
<line x1="193.43" y1="287.50" x2="193.43" y2="289.00" stroke="#8a8a8a" stroke-width="0.6"/>
<line x1="200.20" y1="463.50" x2="200.20" y2="461.00" stroke="#8a8a8a" stroke-width="0.6"/>
<line x1="200.20" y1="287.50" x2="200.20" y2="290.00" stroke="#8a8a8a" stroke-width="0.6"/>
<text x="200.20" y="472.00" font-size="7.0" fill="#262626" text-anchor="middle" font-family="Liberation Sans" letter-spacing="-0.2" stroke="#262626" stroke-width="0.1">50</text>
<line x1="27.50" y1="459.80" x2="30.00" y2="459.80" stroke="#8a8a8a" stroke-width="0.6"/>
<line x1="203.50" y1="459.80" x2="201.00" y2="459.80" stroke="#8a8a8a" stroke-width="0.6"/>
<text x="25.00" y="462.30" font-size="7.0" fill="#262626" text-anchor="end" font-family="Liberation Sans" letter-spacing="-0.2" stroke="#262626" stroke-width="0.1">−1.0</text>
<line x1="27.50" y1="451.36" x2="29.00" y2="451.36" stroke="#8a8a8a" stroke-width="0.6"/>
<line x1="203.50" y1="451.36" x2="202.00" y2="451.36" stroke="#8a8a8a" stroke-width="0.6"/>
<line x1="27.50" y1="442.92" x2="29.00" y2="442.92" stroke="#8a8a8a" stroke-width="0.6"/>
<line x1="203.50" y1="442.92" x2="202.00" y2="442.92" stroke="#8a8a8a" stroke-width="0.6"/>
<line x1="27.50" y1="434.48" x2="29.00" y2="434.48" stroke="#8a8a8a" stroke-width="0.6"/>
<line x1="203.50" y1="434.48" x2="202.00" y2="434.48" stroke="#8a8a8a" stroke-width="0.6"/>
<line x1="27.50" y1="426.04" x2="30.00" y2="426.04" stroke="#8a8a8a" stroke-width="0.6"/>
<line x1="203.50" y1="426.04" x2="201.00" y2="426.04" stroke="#8a8a8a" stroke-width="0.6"/>
<text x="25.00" y="428.54" font-size="7.0" fill="#262626" text-anchor="end" font-family="Liberation Sans" letter-spacing="-0.2" stroke="#262626" stroke-width="0.1">−0.8</text>
<line x1="27.50" y1="417.60" x2="29.00" y2="417.60" stroke="#8a8a8a" stroke-width="0.6"/>
<line x1="203.50" y1="417.60" x2="202.00" y2="417.60" stroke="#8a8a8a" stroke-width="0.6"/>
<line x1="27.50" y1="409.16" x2="29.00" y2="409.16" stroke="#8a8a8a" stroke-width="0.6"/>
<line x1="203.50" y1="409.16" x2="202.00" y2="409.16" stroke="#8a8a8a" stroke-width="0.6"/>
<line x1="27.50" y1="400.72" x2="29.00" y2="400.72" stroke="#8a8a8a" stroke-width="0.6"/>
<line x1="203.50" y1="400.72" x2="202.00" y2="400.72" stroke="#8a8a8a" stroke-width="0.6"/>
<line x1="27.50" y1="392.28" x2="30.00" y2="392.28" stroke="#8a8a8a" stroke-width="0.6"/>
<line x1="203.50" y1="392.28" x2="201.00" y2="392.28" stroke="#8a8a8a" stroke-width="0.6"/>
<text x="25.00" y="394.78" font-size="7.0" fill="#262626" text-anchor="end" font-family="Liberation Sans" letter-spacing="-0.2" stroke="#262626" stroke-width="0.1">−0.6</text>
<line x1="27.50" y1="383.84" x2="29.00" y2="383.84" stroke="#8a8a8a" stroke-width="0.6"/>
<line x1="203.50" y1="383.84" x2="202.00" y2="383.84" stroke="#8a8a8a" stroke-width="0.6"/>
<line x1="27.50" y1="375.40" x2="29.00" y2="375.40" stroke="#8a8a8a" stroke-width="0.6"/>
<line x1="203.50" y1="375.40" x2="202.00" y2="375.40" stroke="#8a8a8a" stroke-width="0.6"/>
<line x1="27.50" y1="366.96" x2="29.00" y2="366.96" stroke="#8a8a8a" stroke-width="0.6"/>
<line x1="203.50" y1="366.96" x2="202.00" y2="366.96" stroke="#8a8a8a" stroke-width="0.6"/>
<line x1="27.50" y1="358.52" x2="30.00" y2="358.52" stroke="#8a8a8a" stroke-width="0.6"/>
<line x1="203.50" y1="358.52" x2="201.00" y2="358.52" stroke="#8a8a8a" stroke-width="0.6"/>
<text x="25.00" y="361.02" font-size="7.0" fill="#262626" text-anchor="end" font-family="Liberation Sans" letter-spacing="-0.2" stroke="#262626" stroke-width="0.1">−0.4</text>
<line x1="27.50" y1="350.08" x2="29.00" y2="350.08" stroke="#8a8a8a" stroke-width="0.6"/>
<line x1="203.50" y1="350.08" x2="202.00" y2="350.08" stroke="#8a8a8a" stroke-width="0.6"/>
<line x1="27.50" y1="341.64" x2="29.00" y2="341.64" stroke="#8a8a8a" stroke-width="0.6"/>
<line x1="203.50" y1="341.64" x2="202.00" y2="341.64" stroke="#8a8a8a" stroke-width="0.6"/>
<line x1="27.50" y1="333.20" x2="29.00" y2="333.20" stroke="#8a8a8a" stroke-width="0.6"/>
<line x1="203.50" y1="333.20" x2="202.00" y2="333.20" stroke="#8a8a8a" stroke-width="0.6"/>
<line x1="27.50" y1="324.76" x2="30.00" y2="324.76" stroke="#8a8a8a" stroke-width="0.6"/>
<line x1="203.50" y1="324.76" x2="201.00" y2="324.76" stroke="#8a8a8a" stroke-width="0.6"/>
<text x="25.00" y="327.26" font-size="7.0" fill="#262626" text-anchor="end" font-family="Liberation Sans" letter-spacing="-0.2" stroke="#262626" stroke-width="0.1">−0.2</text>
<line x1="27.50" y1="316.32" x2="29.00" y2="316.32" stroke="#8a8a8a" stroke-width="0.6"/>
<line x1="203.50" y1="316.32" x2="202.00" y2="316.32" stroke="#8a8a8a" stroke-width="0.6"/>
<line x1="27.50" y1="307.88" x2="29.00" y2="307.88" stroke="#8a8a8a" stroke-width="0.6"/>
<line x1="203.50" y1="307.88" x2="202.00" y2="307.88" stroke="#8a8a8a" stroke-width="0.6"/>
<line x1="27.50" y1="299.44" x2="29.00" y2="299.44" stroke="#8a8a8a" stroke-width="0.6"/>
<line x1="203.50" y1="299.44" x2="202.00" y2="299.44" stroke="#8a8a8a" stroke-width="0.6"/>
<line x1="27.50" y1="291.00" x2="30.00" y2="291.00" stroke="#8a8a8a" stroke-width="0.6"/>
<line x1="203.50" y1="291.00" x2="201.00" y2="291.00" stroke="#8a8a8a" stroke-width="0.6"/>
<text x="25.00" y="293.50" font-size="7.0" fill="#262626" text-anchor="end" font-family="Liberation Sans" letter-spacing="-0.2" stroke="#262626" stroke-width="0.1">0.0</text>
<text x="115.60" y="483.70" font-size="7.0" fill="#262626" text-anchor="middle" font-family="Liberation Sans" letter-spacing="-0.2" stroke="#262626" stroke-width="0.1">t (ns)</text>
<text transform="translate(6.30,375.40) rotate(-90)" x="0" y="0" font-size="7.0" fill="#262626" text-anchor="middle" font-family="Liberation Sans" stroke="#262626" stroke-width="0.1">g (eV)</text>
<text x="180.25" y="300.60" font-size="10" fill="#fff" font-family="Liberation Mono" letter-spacing="0.70" stroke="#fff" stroke-width="0.35">(d)</text>
<rect x="267.5" y="287.5" width="176.0" height="176.0" fill="none" stroke="#c4c4c4" stroke-width="1"/>
<line x1="271.00" y1="463.50" x2="271.00" y2="461.00" stroke="#8a8a8a" stroke-width="0.6"/>
<line x1="271.00" y1="287.50" x2="271.00" y2="290.00" stroke="#8a8a8a" stroke-width="0.6"/>
<text x="271.00" y="472.00" font-size="7.0" fill="#262626" text-anchor="middle" font-family="Liberation Sans" letter-spacing="-0.2" stroke="#262626" stroke-width="0.1">0</text>
<line x1="277.77" y1="463.50" x2="277.77" y2="462.00" stroke="#8a8a8a" stroke-width="0.6"/>
<line x1="277.77" y1="287.50" x2="277.77" y2="289.00" stroke="#8a8a8a" stroke-width="0.6"/>
<line x1="284.54" y1="463.50" x2="284.54" y2="462.00" stroke="#8a8a8a" stroke-width="0.6"/>
<line x1="284.54" y1="287.50" x2="284.54" y2="289.00" stroke="#8a8a8a" stroke-width="0.6"/>
<line x1="291.30" y1="463.50" x2="291.30" y2="462.00" stroke="#8a8a8a" stroke-width="0.6"/>
<line x1="291.30" y1="287.50" x2="291.30" y2="289.00" stroke="#8a8a8a" stroke-width="0.6"/>
<line x1="298.07" y1="463.50" x2="298.07" y2="462.00" stroke="#8a8a8a" stroke-width="0.6"/>
<line x1="298.07" y1="287.50" x2="298.07" y2="289.00" stroke="#8a8a8a" stroke-width="0.6"/>
<line x1="304.84" y1="463.50" x2="304.84" y2="461.00" stroke="#8a8a8a" stroke-width="0.6"/>
<line x1="304.84" y1="287.50" x2="304.84" y2="290.00" stroke="#8a8a8a" stroke-width="0.6"/>
<text x="304.84" y="472.00" font-size="7.0" fill="#262626" text-anchor="middle" font-family="Liberation Sans" letter-spacing="-0.2" stroke="#262626" stroke-width="0.1">10</text>
<line x1="311.61" y1="463.50" x2="311.61" y2="462.00" stroke="#8a8a8a" stroke-width="0.6"/>
<line x1="311.61" y1="287.50" x2="311.61" y2="289.00" stroke="#8a8a8a" stroke-width="0.6"/>
<line x1="318.38" y1="463.50" x2="318.38" y2="462.00" stroke="#8a8a8a" stroke-width="0.6"/>
<line x1="318.38" y1="287.50" x2="318.38" y2="289.00" stroke="#8a8a8a" stroke-width="0.6"/>
<line x1="325.14" y1="463.50" x2="325.14" y2="462.00" stroke="#8a8a8a" stroke-width="0.6"/>
<line x1="325.14" y1="287.50" x2="325.14" y2="289.00" stroke="#8a8a8a" stroke-width="0.6"/>
<line x1="331.91" y1="463.50" x2="331.91" y2="462.00" stroke="#8a8a8a" stroke-width="0.6"/>
<line x1="331.91" y1="287.50" x2="331.91" y2="289.00" stroke="#8a8a8a" stroke-width="0.6"/>
<line x1="338.68" y1="463.50" x2="338.68" y2="461.00" stroke="#8a8a8a" stroke-width="0.6"/>
<line x1="338.68" y1="287.50" x2="338.68" y2="290.00" stroke="#8a8a8a" stroke-width="0.6"/>
<text x="338.68" y="472.00" font-size="7.0" fill="#262626" text-anchor="middle" font-family="Liberation Sans" letter-spacing="-0.2" stroke="#262626" stroke-width="0.1">20</text>
<line x1="345.45" y1="463.50" x2="345.45" y2="462.00" stroke="#8a8a8a" stroke-width="0.6"/>
<line x1="345.45" y1="287.50" x2="345.45" y2="289.00" stroke="#8a8a8a" stroke-width="0.6"/>
<line x1="352.22" y1="463.50" x2="352.22" y2="462.00" stroke="#8a8a8a" stroke-width="0.6"/>
<line x1="352.22" y1="287.50" x2="352.22" y2="289.00" stroke="#8a8a8a" stroke-width="0.6"/>
<line x1="358.98" y1="463.50" x2="358.98" y2="462.00" stroke="#8a8a8a" stroke-width="0.6"/>
<line x1="358.98" y1="287.50" x2="358.98" y2="289.00" stroke="#8a8a8a" stroke-width="0.6"/>
<line x1="365.75" y1="463.50" x2="365.75" y2="462.00" stroke="#8a8a8a" stroke-width="0.6"/>
<line x1="365.75" y1="287.50" x2="365.75" y2="289.00" stroke="#8a8a8a" stroke-width="0.6"/>
<line x1="372.52" y1="463.50" x2="372.52" y2="461.00" stroke="#8a8a8a" stroke-width="0.6"/>
<line x1="372.52" y1="287.50" x2="372.52" y2="290.00" stroke="#8a8a8a" stroke-width="0.6"/>
<text x="372.52" y="472.00" font-size="7.0" fill="#262626" text-anchor="middle" font-family="Liberation Sans" letter-spacing="-0.2" stroke="#262626" stroke-width="0.1">30</text>
<line x1="379.29" y1="463.50" x2="379.29" y2="462.00" stroke="#8a8a8a" stroke-width="0.6"/>
<line x1="379.29" y1="287.50" x2="379.29" y2="289.00" stroke="#8a8a8a" stroke-width="0.6"/>
<line x1="386.06" y1="463.50" x2="386.06" y2="462.00" stroke="#8a8a8a" stroke-width="0.6"/>
<line x1="386.06" y1="287.50" x2="386.06" y2="289.00" stroke="#8a8a8a" stroke-width="0.6"/>
<line x1="392.82" y1="463.50" x2="392.82" y2="462.00" stroke="#8a8a8a" stroke-width="0.6"/>
<line x1="392.82" y1="287.50" x2="392.82" y2="289.00" stroke="#8a8a8a" stroke-width="0.6"/>
<line x1="399.59" y1="463.50" x2="399.59" y2="462.00" stroke="#8a8a8a" stroke-width="0.6"/>
<line x1="399.59" y1="287.50" x2="399.59" y2="289.00" stroke="#8a8a8a" stroke-width="0.6"/>
<line x1="406.36" y1="463.50" x2="406.36" y2="461.00" stroke="#8a8a8a" stroke-width="0.6"/>
<line x1="406.36" y1="287.50" x2="406.36" y2="290.00" stroke="#8a8a8a" stroke-width="0.6"/>
<text x="406.36" y="472.00" font-size="7.0" fill="#262626" text-anchor="middle" font-family="Liberation Sans" letter-spacing="-0.2" stroke="#262626" stroke-width="0.1">40</text>
<line x1="413.13" y1="463.50" x2="413.13" y2="462.00" stroke="#8a8a8a" stroke-width="0.6"/>
<line x1="413.13" y1="287.50" x2="413.13" y2="289.00" stroke="#8a8a8a" stroke-width="0.6"/>
<line x1="419.90" y1="463.50" x2="419.90" y2="462.00" stroke="#8a8a8a" stroke-width="0.6"/>
<line x1="419.90" y1="287.50" x2="419.90" y2="289.00" stroke="#8a8a8a" stroke-width="0.6"/>
<line x1="426.66" y1="463.50" x2="426.66" y2="462.00" stroke="#8a8a8a" stroke-width="0.6"/>
<line x1="426.66" y1="287.50" x2="426.66" y2="289.00" stroke="#8a8a8a" stroke-width="0.6"/>
<line x1="433.43" y1="463.50" x2="433.43" y2="462.00" stroke="#8a8a8a" stroke-width="0.6"/>
<line x1="433.43" y1="287.50" x2="433.43" y2="289.00" stroke="#8a8a8a" stroke-width="0.6"/>
<line x1="440.20" y1="463.50" x2="440.20" y2="461.00" stroke="#8a8a8a" stroke-width="0.6"/>
<line x1="440.20" y1="287.50" x2="440.20" y2="290.00" stroke="#8a8a8a" stroke-width="0.6"/>
<text x="440.20" y="472.00" font-size="7.0" fill="#262626" text-anchor="middle" font-family="Liberation Sans" letter-spacing="-0.2" stroke="#262626" stroke-width="0.1">50</text>
<line x1="267.50" y1="459.80" x2="270.00" y2="459.80" stroke="#8a8a8a" stroke-width="0.6"/>
<line x1="443.50" y1="459.80" x2="441.00" y2="459.80" stroke="#8a8a8a" stroke-width="0.6"/>
<text x="265.00" y="462.30" font-size="7.0" fill="#262626" text-anchor="end" font-family="Liberation Sans" letter-spacing="-0.2" stroke="#262626" stroke-width="0.1">−1.0</text>
<line x1="267.50" y1="451.36" x2="269.00" y2="451.36" stroke="#8a8a8a" stroke-width="0.6"/>
<line x1="443.50" y1="451.36" x2="442.00" y2="451.36" stroke="#8a8a8a" stroke-width="0.6"/>
<line x1="267.50" y1="442.92" x2="269.00" y2="442.92" stroke="#8a8a8a" stroke-width="0.6"/>
<line x1="443.50" y1="442.92" x2="442.00" y2="442.92" stroke="#8a8a8a" stroke-width="0.6"/>
<line x1="267.50" y1="434.48" x2="269.00" y2="434.48" stroke="#8a8a8a" stroke-width="0.6"/>
<line x1="443.50" y1="434.48" x2="442.00" y2="434.48" stroke="#8a8a8a" stroke-width="0.6"/>
<line x1="267.50" y1="426.04" x2="270.00" y2="426.04" stroke="#8a8a8a" stroke-width="0.6"/>
<line x1="443.50" y1="426.04" x2="441.00" y2="426.04" stroke="#8a8a8a" stroke-width="0.6"/>
<text x="265.00" y="428.54" font-size="7.0" fill="#262626" text-anchor="end" font-family="Liberation Sans" letter-spacing="-0.2" stroke="#262626" stroke-width="0.1">−0.8</text>
<line x1="267.50" y1="417.60" x2="269.00" y2="417.60" stroke="#8a8a8a" stroke-width="0.6"/>
<line x1="443.50" y1="417.60" x2="442.00" y2="417.60" stroke="#8a8a8a" stroke-width="0.6"/>
<line x1="267.50" y1="409.16" x2="269.00" y2="409.16" stroke="#8a8a8a" stroke-width="0.6"/>
<line x1="443.50" y1="409.16" x2="442.00" y2="409.16" stroke="#8a8a8a" stroke-width="0.6"/>
<line x1="267.50" y1="400.72" x2="269.00" y2="400.72" stroke="#8a8a8a" stroke-width="0.6"/>
<line x1="443.50" y1="400.72" x2="442.00" y2="400.72" stroke="#8a8a8a" stroke-width="0.6"/>
<line x1="267.50" y1="392.28" x2="270.00" y2="392.28" stroke="#8a8a8a" stroke-width="0.6"/>
<line x1="443.50" y1="392.28" x2="441.00" y2="392.28" stroke="#8a8a8a" stroke-width="0.6"/>
<text x="265.00" y="394.78" font-size="7.0" fill="#262626" text-anchor="end" font-family="Liberation Sans" letter-spacing="-0.2" stroke="#262626" stroke-width="0.1">−0.6</text>
<line x1="267.50" y1="383.84" x2="269.00" y2="383.84" stroke="#8a8a8a" stroke-width="0.6"/>
<line x1="443.50" y1="383.84" x2="442.00" y2="383.84" stroke="#8a8a8a" stroke-width="0.6"/>
<line x1="267.50" y1="375.40" x2="269.00" y2="375.40" stroke="#8a8a8a" stroke-width="0.6"/>
<line x1="443.50" y1="375.40" x2="442.00" y2="375.40" stroke="#8a8a8a" stroke-width="0.6"/>
<line x1="267.50" y1="366.96" x2="269.00" y2="366.96" stroke="#8a8a8a" stroke-width="0.6"/>
<line x1="443.50" y1="366.96" x2="442.00" y2="366.96" stroke="#8a8a8a" stroke-width="0.6"/>
<line x1="267.50" y1="358.52" x2="270.00" y2="358.52" stroke="#8a8a8a" stroke-width="0.6"/>
<line x1="443.50" y1="358.52" x2="441.00" y2="358.52" stroke="#8a8a8a" stroke-width="0.6"/>
<text x="265.00" y="361.02" font-size="7.0" fill="#262626" text-anchor="end" font-family="Liberation Sans" letter-spacing="-0.2" stroke="#262626" stroke-width="0.1">−0.4</text>
<line x1="267.50" y1="350.08" x2="269.00" y2="350.08" stroke="#8a8a8a" stroke-width="0.6"/>
<line x1="443.50" y1="350.08" x2="442.00" y2="350.08" stroke="#8a8a8a" stroke-width="0.6"/>
<line x1="267.50" y1="341.64" x2="269.00" y2="341.64" stroke="#8a8a8a" stroke-width="0.6"/>
<line x1="443.50" y1="341.64" x2="442.00" y2="341.64" stroke="#8a8a8a" stroke-width="0.6"/>
<line x1="267.50" y1="333.20" x2="269.00" y2="333.20" stroke="#8a8a8a" stroke-width="0.6"/>
<line x1="443.50" y1="333.20" x2="442.00" y2="333.20" stroke="#8a8a8a" stroke-width="0.6"/>
<line x1="267.50" y1="324.76" x2="270.00" y2="324.76" stroke="#8a8a8a" stroke-width="0.6"/>
<line x1="443.50" y1="324.76" x2="441.00" y2="324.76" stroke="#8a8a8a" stroke-width="0.6"/>
<text x="265.00" y="327.26" font-size="7.0" fill="#262626" text-anchor="end" font-family="Liberation Sans" letter-spacing="-0.2" stroke="#262626" stroke-width="0.1">−0.2</text>
<line x1="267.50" y1="316.32" x2="269.00" y2="316.32" stroke="#8a8a8a" stroke-width="0.6"/>
<line x1="443.50" y1="316.32" x2="442.00" y2="316.32" stroke="#8a8a8a" stroke-width="0.6"/>
<line x1="267.50" y1="307.88" x2="269.00" y2="307.88" stroke="#8a8a8a" stroke-width="0.6"/>
<line x1="443.50" y1="307.88" x2="442.00" y2="307.88" stroke="#8a8a8a" stroke-width="0.6"/>
<line x1="267.50" y1="299.44" x2="269.00" y2="299.44" stroke="#8a8a8a" stroke-width="0.6"/>
<line x1="443.50" y1="299.44" x2="442.00" y2="299.44" stroke="#8a8a8a" stroke-width="0.6"/>
<line x1="267.50" y1="291.00" x2="270.00" y2="291.00" stroke="#8a8a8a" stroke-width="0.6"/>
<line x1="443.50" y1="291.00" x2="441.00" y2="291.00" stroke="#8a8a8a" stroke-width="0.6"/>
<text x="265.00" y="293.50" font-size="7.0" fill="#262626" text-anchor="end" font-family="Liberation Sans" letter-spacing="-0.2" stroke="#262626" stroke-width="0.1">0.0</text>
<text x="355.60" y="483.70" font-size="7.0" fill="#262626" text-anchor="middle" font-family="Liberation Sans" letter-spacing="-0.2" stroke="#262626" stroke-width="0.1">t (ns)</text>
<text transform="translate(246.30,375.40) rotate(-90)" x="0" y="0" font-size="7.0" fill="#262626" text-anchor="middle" font-family="Liberation Sans" stroke="#262626" stroke-width="0.1">g (eV)</text>
<text x="420.25" y="300.10" font-size="10" fill="#fff" font-family="Liberation Mono" letter-spacing="0.60" stroke="#fff" stroke-width="0.35">(e)</text>
<rect x="507.5" y="287.5" width="176.0" height="176.0" fill="none" stroke="#c4c4c4" stroke-width="1"/>
<line x1="511.00" y1="463.50" x2="511.00" y2="461.00" stroke="#8a8a8a" stroke-width="0.6"/>
<line x1="511.00" y1="287.50" x2="511.00" y2="290.00" stroke="#8a8a8a" stroke-width="0.6"/>
<text x="511.00" y="472.00" font-size="7.0" fill="#262626" text-anchor="middle" font-family="Liberation Sans" letter-spacing="-0.2" stroke="#262626" stroke-width="0.1">0</text>
<line x1="517.77" y1="463.50" x2="517.77" y2="462.00" stroke="#8a8a8a" stroke-width="0.6"/>
<line x1="517.77" y1="287.50" x2="517.77" y2="289.00" stroke="#8a8a8a" stroke-width="0.6"/>
<line x1="524.54" y1="463.50" x2="524.54" y2="462.00" stroke="#8a8a8a" stroke-width="0.6"/>
<line x1="524.54" y1="287.50" x2="524.54" y2="289.00" stroke="#8a8a8a" stroke-width="0.6"/>
<line x1="531.30" y1="463.50" x2="531.30" y2="462.00" stroke="#8a8a8a" stroke-width="0.6"/>
<line x1="531.30" y1="287.50" x2="531.30" y2="289.00" stroke="#8a8a8a" stroke-width="0.6"/>
<line x1="538.07" y1="463.50" x2="538.07" y2="462.00" stroke="#8a8a8a" stroke-width="0.6"/>
<line x1="538.07" y1="287.50" x2="538.07" y2="289.00" stroke="#8a8a8a" stroke-width="0.6"/>
<line x1="544.84" y1="463.50" x2="544.84" y2="461.00" stroke="#8a8a8a" stroke-width="0.6"/>
<line x1="544.84" y1="287.50" x2="544.84" y2="290.00" stroke="#8a8a8a" stroke-width="0.6"/>
<text x="544.84" y="472.00" font-size="7.0" fill="#262626" text-anchor="middle" font-family="Liberation Sans" letter-spacing="-0.2" stroke="#262626" stroke-width="0.1">10</text>
<line x1="551.61" y1="463.50" x2="551.61" y2="462.00" stroke="#8a8a8a" stroke-width="0.6"/>
<line x1="551.61" y1="287.50" x2="551.61" y2="289.00" stroke="#8a8a8a" stroke-width="0.6"/>
<line x1="558.38" y1="463.50" x2="558.38" y2="462.00" stroke="#8a8a8a" stroke-width="0.6"/>
<line x1="558.38" y1="287.50" x2="558.38" y2="289.00" stroke="#8a8a8a" stroke-width="0.6"/>
<line x1="565.14" y1="463.50" x2="565.14" y2="462.00" stroke="#8a8a8a" stroke-width="0.6"/>
<line x1="565.14" y1="287.50" x2="565.14" y2="289.00" stroke="#8a8a8a" stroke-width="0.6"/>
<line x1="571.91" y1="463.50" x2="571.91" y2="462.00" stroke="#8a8a8a" stroke-width="0.6"/>
<line x1="571.91" y1="287.50" x2="571.91" y2="289.00" stroke="#8a8a8a" stroke-width="0.6"/>
<line x1="578.68" y1="463.50" x2="578.68" y2="461.00" stroke="#8a8a8a" stroke-width="0.6"/>
<line x1="578.68" y1="287.50" x2="578.68" y2="290.00" stroke="#8a8a8a" stroke-width="0.6"/>
<text x="578.68" y="472.00" font-size="7.0" fill="#262626" text-anchor="middle" font-family="Liberation Sans" letter-spacing="-0.2" stroke="#262626" stroke-width="0.1">20</text>
<line x1="585.45" y1="463.50" x2="585.45" y2="462.00" stroke="#8a8a8a" stroke-width="0.6"/>
<line x1="585.45" y1="287.50" x2="585.45" y2="289.00" stroke="#8a8a8a" stroke-width="0.6"/>
<line x1="592.22" y1="463.50" x2="592.22" y2="462.00" stroke="#8a8a8a" stroke-width="0.6"/>
<line x1="592.22" y1="287.50" x2="592.22" y2="289.00" stroke="#8a8a8a" stroke-width="0.6"/>
<line x1="598.98" y1="463.50" x2="598.98" y2="462.00" stroke="#8a8a8a" stroke-width="0.6"/>
<line x1="598.98" y1="287.50" x2="598.98" y2="289.00" stroke="#8a8a8a" stroke-width="0.6"/>
<line x1="605.75" y1="463.50" x2="605.75" y2="462.00" stroke="#8a8a8a" stroke-width="0.6"/>
<line x1="605.75" y1="287.50" x2="605.75" y2="289.00" stroke="#8a8a8a" stroke-width="0.6"/>
<line x1="612.52" y1="463.50" x2="612.52" y2="461.00" stroke="#8a8a8a" stroke-width="0.6"/>
<line x1="612.52" y1="287.50" x2="612.52" y2="290.00" stroke="#8a8a8a" stroke-width="0.6"/>
<text x="612.52" y="472.00" font-size="7.0" fill="#262626" text-anchor="middle" font-family="Liberation Sans" letter-spacing="-0.2" stroke="#262626" stroke-width="0.1">30</text>
<line x1="619.29" y1="463.50" x2="619.29" y2="462.00" stroke="#8a8a8a" stroke-width="0.6"/>
<line x1="619.29" y1="287.50" x2="619.29" y2="289.00" stroke="#8a8a8a" stroke-width="0.6"/>
<line x1="626.06" y1="463.50" x2="626.06" y2="462.00" stroke="#8a8a8a" stroke-width="0.6"/>
<line x1="626.06" y1="287.50" x2="626.06" y2="289.00" stroke="#8a8a8a" stroke-width="0.6"/>
<line x1="632.82" y1="463.50" x2="632.82" y2="462.00" stroke="#8a8a8a" stroke-width="0.6"/>
<line x1="632.82" y1="287.50" x2="632.82" y2="289.00" stroke="#8a8a8a" stroke-width="0.6"/>
<line x1="639.59" y1="463.50" x2="639.59" y2="462.00" stroke="#8a8a8a" stroke-width="0.6"/>
<line x1="639.59" y1="287.50" x2="639.59" y2="289.00" stroke="#8a8a8a" stroke-width="0.6"/>
<line x1="646.36" y1="463.50" x2="646.36" y2="461.00" stroke="#8a8a8a" stroke-width="0.6"/>
<line x1="646.36" y1="287.50" x2="646.36" y2="290.00" stroke="#8a8a8a" stroke-width="0.6"/>
<text x="646.36" y="472.00" font-size="7.0" fill="#262626" text-anchor="middle" font-family="Liberation Sans" letter-spacing="-0.2" stroke="#262626" stroke-width="0.1">40</text>
<line x1="653.13" y1="463.50" x2="653.13" y2="462.00" stroke="#8a8a8a" stroke-width="0.6"/>
<line x1="653.13" y1="287.50" x2="653.13" y2="289.00" stroke="#8a8a8a" stroke-width="0.6"/>
<line x1="659.90" y1="463.50" x2="659.90" y2="462.00" stroke="#8a8a8a" stroke-width="0.6"/>
<line x1="659.90" y1="287.50" x2="659.90" y2="289.00" stroke="#8a8a8a" stroke-width="0.6"/>
<line x1="666.66" y1="463.50" x2="666.66" y2="462.00" stroke="#8a8a8a" stroke-width="0.6"/>
<line x1="666.66" y1="287.50" x2="666.66" y2="289.00" stroke="#8a8a8a" stroke-width="0.6"/>
<line x1="673.43" y1="463.50" x2="673.43" y2="462.00" stroke="#8a8a8a" stroke-width="0.6"/>
<line x1="673.43" y1="287.50" x2="673.43" y2="289.00" stroke="#8a8a8a" stroke-width="0.6"/>
<line x1="680.20" y1="463.50" x2="680.20" y2="461.00" stroke="#8a8a8a" stroke-width="0.6"/>
<line x1="680.20" y1="287.50" x2="680.20" y2="290.00" stroke="#8a8a8a" stroke-width="0.6"/>
<text x="680.20" y="472.00" font-size="7.0" fill="#262626" text-anchor="middle" font-family="Liberation Sans" letter-spacing="-0.2" stroke="#262626" stroke-width="0.1">50</text>
<line x1="507.50" y1="459.80" x2="510.00" y2="459.80" stroke="#8a8a8a" stroke-width="0.6"/>
<line x1="683.50" y1="459.80" x2="681.00" y2="459.80" stroke="#8a8a8a" stroke-width="0.6"/>
<text x="505.00" y="462.30" font-size="7.0" fill="#262626" text-anchor="end" font-family="Liberation Sans" letter-spacing="-0.2" stroke="#262626" stroke-width="0.1">−1.0</text>
<line x1="507.50" y1="451.36" x2="509.00" y2="451.36" stroke="#8a8a8a" stroke-width="0.6"/>
<line x1="683.50" y1="451.36" x2="682.00" y2="451.36" stroke="#8a8a8a" stroke-width="0.6"/>
<line x1="507.50" y1="442.92" x2="509.00" y2="442.92" stroke="#8a8a8a" stroke-width="0.6"/>
<line x1="683.50" y1="442.92" x2="682.00" y2="442.92" stroke="#8a8a8a" stroke-width="0.6"/>
<line x1="507.50" y1="434.48" x2="509.00" y2="434.48" stroke="#8a8a8a" stroke-width="0.6"/>
<line x1="683.50" y1="434.48" x2="682.00" y2="434.48" stroke="#8a8a8a" stroke-width="0.6"/>
<line x1="507.50" y1="426.04" x2="510.00" y2="426.04" stroke="#8a8a8a" stroke-width="0.6"/>
<line x1="683.50" y1="426.04" x2="681.00" y2="426.04" stroke="#8a8a8a" stroke-width="0.6"/>
<text x="505.00" y="428.54" font-size="7.0" fill="#262626" text-anchor="end" font-family="Liberation Sans" letter-spacing="-0.2" stroke="#262626" stroke-width="0.1">−0.8</text>
<line x1="507.50" y1="417.60" x2="509.00" y2="417.60" stroke="#8a8a8a" stroke-width="0.6"/>
<line x1="683.50" y1="417.60" x2="682.00" y2="417.60" stroke="#8a8a8a" stroke-width="0.6"/>
<line x1="507.50" y1="409.16" x2="509.00" y2="409.16" stroke="#8a8a8a" stroke-width="0.6"/>
<line x1="683.50" y1="409.16" x2="682.00" y2="409.16" stroke="#8a8a8a" stroke-width="0.6"/>
<line x1="507.50" y1="400.72" x2="509.00" y2="400.72" stroke="#8a8a8a" stroke-width="0.6"/>
<line x1="683.50" y1="400.72" x2="682.00" y2="400.72" stroke="#8a8a8a" stroke-width="0.6"/>
<line x1="507.50" y1="392.28" x2="510.00" y2="392.28" stroke="#8a8a8a" stroke-width="0.6"/>
<line x1="683.50" y1="392.28" x2="681.00" y2="392.28" stroke="#8a8a8a" stroke-width="0.6"/>
<text x="505.00" y="394.78" font-size="7.0" fill="#262626" text-anchor="end" font-family="Liberation Sans" letter-spacing="-0.2" stroke="#262626" stroke-width="0.1">−0.6</text>
<line x1="507.50" y1="383.84" x2="509.00" y2="383.84" stroke="#8a8a8a" stroke-width="0.6"/>
<line x1="683.50" y1="383.84" x2="682.00" y2="383.84" stroke="#8a8a8a" stroke-width="0.6"/>
<line x1="507.50" y1="375.40" x2="509.00" y2="375.40" stroke="#8a8a8a" stroke-width="0.6"/>
<line x1="683.50" y1="375.40" x2="682.00" y2="375.40" stroke="#8a8a8a" stroke-width="0.6"/>
<line x1="507.50" y1="366.96" x2="509.00" y2="366.96" stroke="#8a8a8a" stroke-width="0.6"/>
<line x1="683.50" y1="366.96" x2="682.00" y2="366.96" stroke="#8a8a8a" stroke-width="0.6"/>
<line x1="507.50" y1="358.52" x2="510.00" y2="358.52" stroke="#8a8a8a" stroke-width="0.6"/>
<line x1="683.50" y1="358.52" x2="681.00" y2="358.52" stroke="#8a8a8a" stroke-width="0.6"/>
<text x="505.00" y="361.02" font-size="7.0" fill="#262626" text-anchor="end" font-family="Liberation Sans" letter-spacing="-0.2" stroke="#262626" stroke-width="0.1">−0.4</text>
<line x1="507.50" y1="350.08" x2="509.00" y2="350.08" stroke="#8a8a8a" stroke-width="0.6"/>
<line x1="683.50" y1="350.08" x2="682.00" y2="350.08" stroke="#8a8a8a" stroke-width="0.6"/>
<line x1="507.50" y1="341.64" x2="509.00" y2="341.64" stroke="#8a8a8a" stroke-width="0.6"/>
<line x1="683.50" y1="341.64" x2="682.00" y2="341.64" stroke="#8a8a8a" stroke-width="0.6"/>
<line x1="507.50" y1="333.20" x2="509.00" y2="333.20" stroke="#8a8a8a" stroke-width="0.6"/>
<line x1="683.50" y1="333.20" x2="682.00" y2="333.20" stroke="#8a8a8a" stroke-width="0.6"/>
<line x1="507.50" y1="324.76" x2="510.00" y2="324.76" stroke="#8a8a8a" stroke-width="0.6"/>
<line x1="683.50" y1="324.76" x2="681.00" y2="324.76" stroke="#8a8a8a" stroke-width="0.6"/>
<text x="505.00" y="327.26" font-size="7.0" fill="#262626" text-anchor="end" font-family="Liberation Sans" letter-spacing="-0.2" stroke="#262626" stroke-width="0.1">−0.2</text>
<line x1="507.50" y1="316.32" x2="509.00" y2="316.32" stroke="#8a8a8a" stroke-width="0.6"/>
<line x1="683.50" y1="316.32" x2="682.00" y2="316.32" stroke="#8a8a8a" stroke-width="0.6"/>
<line x1="507.50" y1="307.88" x2="509.00" y2="307.88" stroke="#8a8a8a" stroke-width="0.6"/>
<line x1="683.50" y1="307.88" x2="682.00" y2="307.88" stroke="#8a8a8a" stroke-width="0.6"/>
<line x1="507.50" y1="299.44" x2="509.00" y2="299.44" stroke="#8a8a8a" stroke-width="0.6"/>
<line x1="683.50" y1="299.44" x2="682.00" y2="299.44" stroke="#8a8a8a" stroke-width="0.6"/>
<line x1="507.50" y1="291.00" x2="510.00" y2="291.00" stroke="#8a8a8a" stroke-width="0.6"/>
<line x1="683.50" y1="291.00" x2="681.00" y2="291.00" stroke="#8a8a8a" stroke-width="0.6"/>
<text x="505.00" y="293.50" font-size="7.0" fill="#262626" text-anchor="end" font-family="Liberation Sans" letter-spacing="-0.2" stroke="#262626" stroke-width="0.1">0.0</text>
<text x="595.60" y="483.70" font-size="7.0" fill="#262626" text-anchor="middle" font-family="Liberation Sans" letter-spacing="-0.2" stroke="#262626" stroke-width="0.1">t (ns)</text>
<text transform="translate(486.30,375.40) rotate(-90)" x="0" y="0" font-size="7.0" fill="#262626" text-anchor="middle" font-family="Liberation Sans" stroke="#262626" stroke-width="0.1">g (eV)</text>
<text x="660.45" y="300.90" font-size="10" fill="#fff" font-family="Liberation Mono" letter-spacing="0.35" stroke="#fff" stroke-width="0.35">(f)</text>
<text x="49.00" y="5.90" font-size="7.0" fill="#262626" text-anchor="middle" font-family="Liberation Sans" letter-spacing="-0.2" stroke="#262626" stroke-width="0.1">0</text>
<text x="82.69" y="5.90" font-size="7.0" fill="#262626" text-anchor="middle" font-family="Liberation Sans" letter-spacing="-0.2" stroke="#262626" stroke-width="0.1">0.1</text>
<text x="116.38" y="5.90" font-size="7.0" fill="#262626" text-anchor="middle" font-family="Liberation Sans" letter-spacing="-0.2" stroke="#262626" stroke-width="0.1">0.2</text>
<text x="150.07" y="5.90" font-size="7.0" fill="#262626" text-anchor="middle" font-family="Liberation Sans" letter-spacing="-0.2" stroke="#262626" stroke-width="0.1">0.3</text>
<line x1="49.00" y1="11.40" x2="162.00" y2="11.40" stroke="#cfcfcf" stroke-width="0.6"/>
<line x1="49.00" y1="11.40" x2="49.00" y2="9.00" stroke="#d4d4d4" stroke-width="0.4"/>
<line x1="55.74" y1="11.40" x2="55.74" y2="10.10" stroke="#d4d4d4" stroke-width="0.4"/>
<line x1="62.48" y1="11.40" x2="62.48" y2="10.10" stroke="#d4d4d4" stroke-width="0.4"/>
<line x1="69.21" y1="11.40" x2="69.21" y2="10.10" stroke="#d4d4d4" stroke-width="0.4"/>
<line x1="75.95" y1="11.40" x2="75.95" y2="10.10" stroke="#d4d4d4" stroke-width="0.4"/>
<line x1="82.69" y1="11.40" x2="82.69" y2="9.00" stroke="#d4d4d4" stroke-width="0.4"/>
<line x1="89.43" y1="11.40" x2="89.43" y2="10.10" stroke="#d4d4d4" stroke-width="0.4"/>
<line x1="96.17" y1="11.40" x2="96.17" y2="10.10" stroke="#d4d4d4" stroke-width="0.4"/>
<line x1="102.91" y1="11.40" x2="102.91" y2="10.10" stroke="#d4d4d4" stroke-width="0.4"/>
<line x1="109.64" y1="11.40" x2="109.64" y2="10.10" stroke="#d4d4d4" stroke-width="0.4"/>
<line x1="116.38" y1="11.40" x2="116.38" y2="9.00" stroke="#d4d4d4" stroke-width="0.4"/>
<line x1="123.12" y1="11.40" x2="123.12" y2="10.10" stroke="#d4d4d4" stroke-width="0.4"/>
<line x1="129.86" y1="11.40" x2="129.86" y2="10.10" stroke="#d4d4d4" stroke-width="0.4"/>
<line x1="136.60" y1="11.40" x2="136.60" y2="10.10" stroke="#d4d4d4" stroke-width="0.4"/>
<line x1="143.34" y1="11.40" x2="143.34" y2="10.10" stroke="#d4d4d4" stroke-width="0.4"/>
<line x1="150.07" y1="11.40" x2="150.07" y2="9.00" stroke="#d4d4d4" stroke-width="0.4"/>
<line x1="156.81" y1="11.40" x2="156.81" y2="10.10" stroke="#d4d4d4" stroke-width="0.4"/>
<text x="289.00" y="6.90" font-size="7.0" fill="#262626" text-anchor="middle" font-family="Liberation Sans" letter-spacing="-0.2" stroke="#262626" stroke-width="0.1">0</text>
<text x="324.60" y="6.90" font-size="7.0" fill="#262626" text-anchor="middle" font-family="Liberation Sans" letter-spacing="-0.2" stroke="#262626" stroke-width="0.1">0.1</text>
<text x="360.20" y="6.90" font-size="7.0" fill="#262626" text-anchor="middle" font-family="Liberation Sans" letter-spacing="-0.2" stroke="#262626" stroke-width="0.1">0.2</text>
<text x="395.81" y="6.90" font-size="7.0" fill="#262626" text-anchor="middle" font-family="Liberation Sans" letter-spacing="-0.2" stroke="#262626" stroke-width="0.1">0.3</text>
<line x1="289.00" y1="12.40" x2="402.00" y2="12.40" stroke="#cfcfcf" stroke-width="0.6"/>
<line x1="289.00" y1="12.40" x2="289.00" y2="10.00" stroke="#d4d4d4" stroke-width="0.4"/>
<line x1="296.12" y1="12.40" x2="296.12" y2="11.10" stroke="#d4d4d4" stroke-width="0.4"/>
<line x1="303.24" y1="12.40" x2="303.24" y2="11.10" stroke="#d4d4d4" stroke-width="0.4"/>
<line x1="310.36" y1="12.40" x2="310.36" y2="11.10" stroke="#d4d4d4" stroke-width="0.4"/>
<line x1="317.48" y1="12.40" x2="317.48" y2="11.10" stroke="#d4d4d4" stroke-width="0.4"/>
<line x1="324.60" y1="12.40" x2="324.60" y2="10.00" stroke="#d4d4d4" stroke-width="0.4"/>
<line x1="331.72" y1="12.40" x2="331.72" y2="11.10" stroke="#d4d4d4" stroke-width="0.4"/>
<line x1="338.84" y1="12.40" x2="338.84" y2="11.10" stroke="#d4d4d4" stroke-width="0.4"/>
<line x1="345.96" y1="12.40" x2="345.96" y2="11.10" stroke="#d4d4d4" stroke-width="0.4"/>
<line x1="353.08" y1="12.40" x2="353.08" y2="11.10" stroke="#d4d4d4" stroke-width="0.4"/>
<line x1="360.20" y1="12.40" x2="360.20" y2="10.00" stroke="#d4d4d4" stroke-width="0.4"/>
<line x1="367.32" y1="12.40" x2="367.32" y2="11.10" stroke="#d4d4d4" stroke-width="0.4"/>
<line x1="374.44" y1="12.40" x2="374.44" y2="11.10" stroke="#d4d4d4" stroke-width="0.4"/>
<line x1="381.56" y1="12.40" x2="381.56" y2="11.10" stroke="#d4d4d4" stroke-width="0.4"/>
<line x1="388.68" y1="12.40" x2="388.68" y2="11.10" stroke="#d4d4d4" stroke-width="0.4"/>
<line x1="395.81" y1="12.40" x2="395.81" y2="10.00" stroke="#d4d4d4" stroke-width="0.4"/>
<text x="529.00" y="5.90" font-size="7.0" fill="#262626" text-anchor="middle" font-family="Liberation Sans" letter-spacing="-0.2" stroke="#262626" stroke-width="0.1">0</text>
<text x="550.04" y="5.90" font-size="7.0" fill="#262626" text-anchor="middle" font-family="Liberation Sans" letter-spacing="-0.2" stroke="#262626" stroke-width="0.1">0.01</text>
<text x="571.09" y="5.90" font-size="7.0" fill="#262626" text-anchor="middle" font-family="Liberation Sans" letter-spacing="-0.2" stroke="#262626" stroke-width="0.1">0.02</text>
<text x="592.13" y="5.90" font-size="7.0" fill="#262626" text-anchor="middle" font-family="Liberation Sans" letter-spacing="-0.2" stroke="#262626" stroke-width="0.1">0.03</text>
<text x="613.17" y="5.90" font-size="7.0" fill="#262626" text-anchor="middle" font-family="Liberation Sans" letter-spacing="-0.2" stroke="#262626" stroke-width="0.1">0.04</text>
<text x="634.21" y="5.90" font-size="7.0" fill="#262626" text-anchor="middle" font-family="Liberation Sans" letter-spacing="-0.2" stroke="#262626" stroke-width="0.1">0.05</text>
<line x1="529.00" y1="11.40" x2="642.00" y2="11.40" stroke="#cfcfcf" stroke-width="0.6"/>
<line x1="529.00" y1="11.40" x2="529.00" y2="9.00" stroke="#d4d4d4" stroke-width="0.4"/>
<line x1="533.21" y1="11.40" x2="533.21" y2="10.10" stroke="#d4d4d4" stroke-width="0.4"/>
<line x1="537.42" y1="11.40" x2="537.42" y2="10.10" stroke="#d4d4d4" stroke-width="0.4"/>
<line x1="541.63" y1="11.40" x2="541.63" y2="10.10" stroke="#d4d4d4" stroke-width="0.4"/>
<line x1="545.83" y1="11.40" x2="545.83" y2="10.10" stroke="#d4d4d4" stroke-width="0.4"/>
<line x1="550.04" y1="11.40" x2="550.04" y2="9.00" stroke="#d4d4d4" stroke-width="0.4"/>
<line x1="554.25" y1="11.40" x2="554.25" y2="10.10" stroke="#d4d4d4" stroke-width="0.4"/>
<line x1="558.46" y1="11.40" x2="558.46" y2="10.10" stroke="#d4d4d4" stroke-width="0.4"/>
<line x1="562.67" y1="11.40" x2="562.67" y2="10.10" stroke="#d4d4d4" stroke-width="0.4"/>
<line x1="566.88" y1="11.40" x2="566.88" y2="10.10" stroke="#d4d4d4" stroke-width="0.4"/>
<line x1="571.09" y1="11.40" x2="571.09" y2="9.00" stroke="#d4d4d4" stroke-width="0.4"/>
<line x1="575.29" y1="11.40" x2="575.29" y2="10.10" stroke="#d4d4d4" stroke-width="0.4"/>
<line x1="579.50" y1="11.40" x2="579.50" y2="10.10" stroke="#d4d4d4" stroke-width="0.4"/>
<line x1="583.71" y1="11.40" x2="583.71" y2="10.10" stroke="#d4d4d4" stroke-width="0.4"/>
<line x1="587.92" y1="11.40" x2="587.92" y2="10.10" stroke="#d4d4d4" stroke-width="0.4"/>
<line x1="592.13" y1="11.40" x2="592.13" y2="9.00" stroke="#d4d4d4" stroke-width="0.4"/>
<line x1="596.34" y1="11.40" x2="596.34" y2="10.10" stroke="#d4d4d4" stroke-width="0.4"/>
<line x1="600.55" y1="11.40" x2="600.55" y2="10.10" stroke="#d4d4d4" stroke-width="0.4"/>
<line x1="604.75" y1="11.40" x2="604.75" y2="10.10" stroke="#d4d4d4" stroke-width="0.4"/>
<line x1="608.96" y1="11.40" x2="608.96" y2="10.10" stroke="#d4d4d4" stroke-width="0.4"/>
<line x1="613.17" y1="11.40" x2="613.17" y2="9.00" stroke="#d4d4d4" stroke-width="0.4"/>
<line x1="617.38" y1="11.40" x2="617.38" y2="10.10" stroke="#d4d4d4" stroke-width="0.4"/>
<line x1="621.59" y1="11.40" x2="621.59" y2="10.10" stroke="#d4d4d4" stroke-width="0.4"/>
<line x1="625.80" y1="11.40" x2="625.80" y2="10.10" stroke="#d4d4d4" stroke-width="0.4"/>
<line x1="630.01" y1="11.40" x2="630.01" y2="10.10" stroke="#d4d4d4" stroke-width="0.4"/>
<line x1="634.21" y1="11.40" x2="634.21" y2="9.00" stroke="#d4d4d4" stroke-width="0.4"/>
<line x1="638.42" y1="11.40" x2="638.42" y2="10.10" stroke="#d4d4d4" stroke-width="0.4"/>
<text x="49.00" y="263.70" font-size="7.0" fill="#262626" text-anchor="middle" font-family="Liberation Sans" letter-spacing="-0.2" stroke="#262626" stroke-width="0.1">0</text>
<text x="69.04" y="263.70" font-size="7.0" fill="#262626" text-anchor="middle" font-family="Liberation Sans" letter-spacing="-0.2" stroke="#262626" stroke-width="0.1">0.05</text>
<text x="89.07" y="263.70" font-size="7.0" fill="#262626" text-anchor="middle" font-family="Liberation Sans" letter-spacing="-0.2" stroke="#262626" stroke-width="0.1">0.10</text>
<text x="109.11" y="263.70" font-size="7.0" fill="#262626" text-anchor="middle" font-family="Liberation Sans" letter-spacing="-0.2" stroke="#262626" stroke-width="0.1">0.15</text>
<text x="129.14" y="263.70" font-size="7.0" fill="#262626" text-anchor="middle" font-family="Liberation Sans" letter-spacing="-0.2" stroke="#262626" stroke-width="0.1">0.20</text>
<text x="149.18" y="263.70" font-size="7.0" fill="#262626" text-anchor="middle" font-family="Liberation Sans" letter-spacing="-0.2" stroke="#262626" stroke-width="0.1">0.25</text>
<line x1="49.00" y1="269.30" x2="161.80" y2="269.30" stroke="#cfcfcf" stroke-width="0.6"/>
<line x1="49.00" y1="269.30" x2="49.00" y2="266.90" stroke="#d4d4d4" stroke-width="0.4"/>
<line x1="53.01" y1="269.30" x2="53.01" y2="268.00" stroke="#d4d4d4" stroke-width="0.4"/>
<line x1="57.01" y1="269.30" x2="57.01" y2="268.00" stroke="#d4d4d4" stroke-width="0.4"/>
<line x1="61.02" y1="269.30" x2="61.02" y2="268.00" stroke="#d4d4d4" stroke-width="0.4"/>
<line x1="65.03" y1="269.30" x2="65.03" y2="268.00" stroke="#d4d4d4" stroke-width="0.4"/>
<line x1="69.04" y1="269.30" x2="69.04" y2="266.90" stroke="#d4d4d4" stroke-width="0.4"/>
<line x1="73.04" y1="269.30" x2="73.04" y2="268.00" stroke="#d4d4d4" stroke-width="0.4"/>
<line x1="77.05" y1="269.30" x2="77.05" y2="268.00" stroke="#d4d4d4" stroke-width="0.4"/>
<line x1="81.06" y1="269.30" x2="81.06" y2="268.00" stroke="#d4d4d4" stroke-width="0.4"/>
<line x1="85.06" y1="269.30" x2="85.06" y2="268.00" stroke="#d4d4d4" stroke-width="0.4"/>
<line x1="89.07" y1="269.30" x2="89.07" y2="266.90" stroke="#d4d4d4" stroke-width="0.4"/>
<line x1="93.08" y1="269.30" x2="93.08" y2="268.00" stroke="#d4d4d4" stroke-width="0.4"/>
<line x1="97.09" y1="269.30" x2="97.09" y2="268.00" stroke="#d4d4d4" stroke-width="0.4"/>
<line x1="101.09" y1="269.30" x2="101.09" y2="268.00" stroke="#d4d4d4" stroke-width="0.4"/>
<line x1="105.10" y1="269.30" x2="105.10" y2="268.00" stroke="#d4d4d4" stroke-width="0.4"/>
<line x1="109.11" y1="269.30" x2="109.11" y2="266.90" stroke="#d4d4d4" stroke-width="0.4"/>
<line x1="113.11" y1="269.30" x2="113.11" y2="268.00" stroke="#d4d4d4" stroke-width="0.4"/>
<line x1="117.12" y1="269.30" x2="117.12" y2="268.00" stroke="#d4d4d4" stroke-width="0.4"/>
<line x1="121.13" y1="269.30" x2="121.13" y2="268.00" stroke="#d4d4d4" stroke-width="0.4"/>
<line x1="125.13" y1="269.30" x2="125.13" y2="268.00" stroke="#d4d4d4" stroke-width="0.4"/>
<line x1="129.14" y1="269.30" x2="129.14" y2="266.90" stroke="#d4d4d4" stroke-width="0.4"/>
<line x1="133.15" y1="269.30" x2="133.15" y2="268.00" stroke="#d4d4d4" stroke-width="0.4"/>
<line x1="137.16" y1="269.30" x2="137.16" y2="268.00" stroke="#d4d4d4" stroke-width="0.4"/>
<line x1="141.16" y1="269.30" x2="141.16" y2="268.00" stroke="#d4d4d4" stroke-width="0.4"/>
<line x1="145.17" y1="269.30" x2="145.17" y2="268.00" stroke="#d4d4d4" stroke-width="0.4"/>
<line x1="149.18" y1="269.30" x2="149.18" y2="266.90" stroke="#d4d4d4" stroke-width="0.4"/>
<line x1="153.18" y1="269.30" x2="153.18" y2="268.00" stroke="#d4d4d4" stroke-width="0.4"/>
<line x1="157.19" y1="269.30" x2="157.19" y2="268.00" stroke="#d4d4d4" stroke-width="0.4"/>
<line x1="161.20" y1="269.30" x2="161.20" y2="268.00" stroke="#d4d4d4" stroke-width="0.4"/>
<text x="289.00" y="263.70" font-size="7.0" fill="#262626" text-anchor="middle" font-family="Liberation Sans" letter-spacing="-0.2" stroke="#262626" stroke-width="0.1">0</text>
<text x="310.30" y="263.70" font-size="7.0" fill="#262626" text-anchor="middle" font-family="Liberation Sans" letter-spacing="-0.2" stroke="#262626" stroke-width="0.1">0.025</text>
<text x="331.61" y="263.70" font-size="7.0" fill="#262626" text-anchor="middle" font-family="Liberation Sans" letter-spacing="-0.2" stroke="#262626" stroke-width="0.1">0.050</text>
<text x="352.91" y="263.70" font-size="7.0" fill="#262626" text-anchor="middle" font-family="Liberation Sans" letter-spacing="-0.2" stroke="#262626" stroke-width="0.1">0.075</text>
<text x="374.22" y="263.70" font-size="7.0" fill="#262626" text-anchor="middle" font-family="Liberation Sans" letter-spacing="-0.2" stroke="#262626" stroke-width="0.1">0.100</text>
<text x="395.52" y="263.70" font-size="7.0" fill="#262626" text-anchor="middle" font-family="Liberation Sans" letter-spacing="-0.2" stroke="#262626" stroke-width="0.1">0.125</text>
<line x1="289.00" y1="269.30" x2="402.00" y2="269.30" stroke="#cfcfcf" stroke-width="0.6"/>
<line x1="289.00" y1="269.30" x2="289.00" y2="266.90" stroke="#d4d4d4" stroke-width="0.4"/>
<line x1="293.26" y1="269.30" x2="293.26" y2="268.00" stroke="#d4d4d4" stroke-width="0.4"/>
<line x1="297.52" y1="269.30" x2="297.52" y2="268.00" stroke="#d4d4d4" stroke-width="0.4"/>
<line x1="301.78" y1="269.30" x2="301.78" y2="268.00" stroke="#d4d4d4" stroke-width="0.4"/>
<line x1="306.04" y1="269.30" x2="306.04" y2="268.00" stroke="#d4d4d4" stroke-width="0.4"/>
<line x1="310.30" y1="269.30" x2="310.30" y2="266.90" stroke="#d4d4d4" stroke-width="0.4"/>
<line x1="314.57" y1="269.30" x2="314.57" y2="268.00" stroke="#d4d4d4" stroke-width="0.4"/>
<line x1="318.83" y1="269.30" x2="318.83" y2="268.00" stroke="#d4d4d4" stroke-width="0.4"/>
<line x1="323.09" y1="269.30" x2="323.09" y2="268.00" stroke="#d4d4d4" stroke-width="0.4"/>
<line x1="327.35" y1="269.30" x2="327.35" y2="268.00" stroke="#d4d4d4" stroke-width="0.4"/>
<line x1="331.61" y1="269.30" x2="331.61" y2="266.90" stroke="#d4d4d4" stroke-width="0.4"/>
<line x1="335.87" y1="269.30" x2="335.87" y2="268.00" stroke="#d4d4d4" stroke-width="0.4"/>
<line x1="340.13" y1="269.30" x2="340.13" y2="268.00" stroke="#d4d4d4" stroke-width="0.4"/>
<line x1="344.39" y1="269.30" x2="344.39" y2="268.00" stroke="#d4d4d4" stroke-width="0.4"/>
<line x1="348.65" y1="269.30" x2="348.65" y2="268.00" stroke="#d4d4d4" stroke-width="0.4"/>
<line x1="352.91" y1="269.30" x2="352.91" y2="266.90" stroke="#d4d4d4" stroke-width="0.4"/>
<line x1="357.17" y1="269.30" x2="357.17" y2="268.00" stroke="#d4d4d4" stroke-width="0.4"/>
<line x1="361.44" y1="269.30" x2="361.44" y2="268.00" stroke="#d4d4d4" stroke-width="0.4"/>
<line x1="365.70" y1="269.30" x2="365.70" y2="268.00" stroke="#d4d4d4" stroke-width="0.4"/>
<line x1="369.96" y1="269.30" x2="369.96" y2="268.00" stroke="#d4d4d4" stroke-width="0.4"/>
<line x1="374.22" y1="269.30" x2="374.22" y2="266.90" stroke="#d4d4d4" stroke-width="0.4"/>
<line x1="378.48" y1="269.30" x2="378.48" y2="268.00" stroke="#d4d4d4" stroke-width="0.4"/>
<line x1="382.74" y1="269.30" x2="382.74" y2="268.00" stroke="#d4d4d4" stroke-width="0.4"/>
<line x1="387.00" y1="269.30" x2="387.00" y2="268.00" stroke="#d4d4d4" stroke-width="0.4"/>
<line x1="391.26" y1="269.30" x2="391.26" y2="268.00" stroke="#d4d4d4" stroke-width="0.4"/>
<line x1="395.52" y1="269.30" x2="395.52" y2="266.90" stroke="#d4d4d4" stroke-width="0.4"/>
<line x1="399.78" y1="269.30" x2="399.78" y2="268.00" stroke="#d4d4d4" stroke-width="0.4"/>
<text x="529.00" y="263.70" font-size="7.0" fill="#262626" text-anchor="middle" font-family="Liberation Sans" letter-spacing="-0.2" stroke="#262626" stroke-width="0.1">0</text>
<text x="548.58" y="263.70" font-size="7.0" fill="#262626" text-anchor="middle" font-family="Liberation Sans" letter-spacing="-0.2" stroke="#262626" stroke-width="0.1">0.01</text>
<text x="568.17" y="263.70" font-size="7.0" fill="#262626" text-anchor="middle" font-family="Liberation Sans" letter-spacing="-0.2" stroke="#262626" stroke-width="0.1">0.02</text>
<text x="587.75" y="263.70" font-size="7.0" fill="#262626" text-anchor="middle" font-family="Liberation Sans" letter-spacing="-0.2" stroke="#262626" stroke-width="0.1">0.03</text>
<text x="607.34" y="263.70" font-size="7.0" fill="#262626" text-anchor="middle" font-family="Liberation Sans" letter-spacing="-0.2" stroke="#262626" stroke-width="0.1">0.04</text>
<text x="626.92" y="263.70" font-size="7.0" fill="#262626" text-anchor="middle" font-family="Liberation Sans" letter-spacing="-0.2" stroke="#262626" stroke-width="0.1">0.05</text>
<line x1="529.00" y1="269.30" x2="642.00" y2="269.30" stroke="#cfcfcf" stroke-width="0.6"/>
<line x1="529.00" y1="269.30" x2="529.00" y2="266.90" stroke="#d4d4d4" stroke-width="0.4"/>
<line x1="532.92" y1="269.30" x2="532.92" y2="268.00" stroke="#d4d4d4" stroke-width="0.4"/>
<line x1="536.83" y1="269.30" x2="536.83" y2="268.00" stroke="#d4d4d4" stroke-width="0.4"/>
<line x1="540.75" y1="269.30" x2="540.75" y2="268.00" stroke="#d4d4d4" stroke-width="0.4"/>
<line x1="544.67" y1="269.30" x2="544.67" y2="268.00" stroke="#d4d4d4" stroke-width="0.4"/>
<line x1="548.58" y1="269.30" x2="548.58" y2="266.90" stroke="#d4d4d4" stroke-width="0.4"/>
<line x1="552.50" y1="269.30" x2="552.50" y2="268.00" stroke="#d4d4d4" stroke-width="0.4"/>
<line x1="556.42" y1="269.30" x2="556.42" y2="268.00" stroke="#d4d4d4" stroke-width="0.4"/>
<line x1="560.33" y1="269.30" x2="560.33" y2="268.00" stroke="#d4d4d4" stroke-width="0.4"/>
<line x1="564.25" y1="269.30" x2="564.25" y2="268.00" stroke="#d4d4d4" stroke-width="0.4"/>
<line x1="568.17" y1="269.30" x2="568.17" y2="266.90" stroke="#d4d4d4" stroke-width="0.4"/>
<line x1="572.08" y1="269.30" x2="572.08" y2="268.00" stroke="#d4d4d4" stroke-width="0.4"/>
<line x1="576.00" y1="269.30" x2="576.00" y2="268.00" stroke="#d4d4d4" stroke-width="0.4"/>
<line x1="579.92" y1="269.30" x2="579.92" y2="268.00" stroke="#d4d4d4" stroke-width="0.4"/>
<line x1="583.84" y1="269.30" x2="583.84" y2="268.00" stroke="#d4d4d4" stroke-width="0.4"/>
<line x1="587.75" y1="269.30" x2="587.75" y2="266.90" stroke="#d4d4d4" stroke-width="0.4"/>
<line x1="591.67" y1="269.30" x2="591.67" y2="268.00" stroke="#d4d4d4" stroke-width="0.4"/>
<line x1="595.59" y1="269.30" x2="595.59" y2="268.00" stroke="#d4d4d4" stroke-width="0.4"/>
<line x1="599.50" y1="269.30" x2="599.50" y2="268.00" stroke="#d4d4d4" stroke-width="0.4"/>
<line x1="603.42" y1="269.30" x2="603.42" y2="268.00" stroke="#d4d4d4" stroke-width="0.4"/>
<line x1="607.34" y1="269.30" x2="607.34" y2="266.90" stroke="#d4d4d4" stroke-width="0.4"/>
<line x1="611.25" y1="269.30" x2="611.25" y2="268.00" stroke="#d4d4d4" stroke-width="0.4"/>
<line x1="615.17" y1="269.30" x2="615.17" y2="268.00" stroke="#d4d4d4" stroke-width="0.4"/>
<line x1="619.09" y1="269.30" x2="619.09" y2="268.00" stroke="#d4d4d4" stroke-width="0.4"/>
<line x1="623.00" y1="269.30" x2="623.00" y2="268.00" stroke="#d4d4d4" stroke-width="0.4"/>
<line x1="626.92" y1="269.30" x2="626.92" y2="266.90" stroke="#d4d4d4" stroke-width="0.4"/>
<line x1="630.84" y1="269.30" x2="630.84" y2="268.00" stroke="#d4d4d4" stroke-width="0.4"/>
<line x1="634.75" y1="269.30" x2="634.75" y2="268.00" stroke="#d4d4d4" stroke-width="0.4"/>
<line x1="638.67" y1="269.30" x2="638.67" y2="268.00" stroke="#d4d4d4" stroke-width="0.4"/>
</svg>
<script>
var P = {"a": {"x0": 26.9, "x1": 200.2, "y0": 32.9, "y1": 205.9, "fl": 23, "fr": 204, "ft": 29, "fb": 209, "gtop": 2.0, "gbot": 0.0, "gmaj": 0.5, "gmin": 0.1}, "b": {"x0": 266.9, "x1": 440.2, "y0": 33.9, "y1": 206.9, "fl": 263, "fr": 444, "ft": 30, "fb": 210, "gtop": 2.0, "gbot": 0.0, "gmaj": 0.5, "gmin": 0.1}, "c": {"x0": 506.9, "x1": 680.2, "y0": 32.9, "y1": 205.9, "fl": 503, "fr": 684, "ft": 29, "fb": 209, "gtop": 2.0, "gbot": 0.0, "gmaj": 0.5, "gmin": 0.1}, "d": {"x0": 31.0, "x1": 200.2, "y0": 291.0, "y1": 459.8, "fl": 27, "fr": 203, "ft": 287, "fb": 463, "gtop": 0.0, "gbot": -1.0, "gmaj": 0.2, "gmin": 0.05}, "e": {"x0": 271.0, "x1": 440.2, "y0": 291.0, "y1": 459.8, "fl": 267, "fr": 443, "ft": 287, "fb": 463, "gtop": 0.0, "gbot": -1.0, "gmaj": 0.2, "gmin": 0.05}, "f": {"x0": 511.0, "x1": 680.2, "y0": 291.0, "y1": 459.8, "fl": 507, "fr": 683, "ft": 287, "fb": 463, "gtop": 0.0, "gbot": -1.0, "gmaj": 0.2, "gmin": 0.05}};
var CB = {"a": {"x0": 49.0, "x1": 162.0, "y0": 11.8, "y1": 19.0, "ly": 11.4, "minor": 0.02, "vmax": 0.3354, "ty": 3.4, "ticks": [[0, "0"], [0.1, "0.1"], [0.2, "0.2"], [0.3, "0.3"]]}, "b": {"x0": 289.0, "x1": 402.0, "y0": 12.8, "y1": 20.0, "ly": 12.4, "minor": 0.02, "vmax": 0.3174, "ty": 4.4, "ticks": [[0, "0"], [0.1, "0.1"], [0.2, "0.2"], [0.3, "0.3"]]}, "c": {"x0": 529.0, "x1": 642.0, "y0": 11.8, "y1": 19.0, "ly": 11.4, "minor": 0.002, "vmax": 0.0537, "ty": 3.4, "ticks": [[0, "0"], [0.01, "0.01"], [0.02, "0.02"], [0.03, "0.03"], [0.04, "0.04"], [0.05, "0.05"]]}, "d": {"x0": 49.0, "x1": 161.8, "y0": 269.9, "y1": 276.8, "ly": 269.3, "minor": 0.01, "vmax": 0.2815, "ty": 261.2, "ticks": [[0, "0"], [0.05, "0.05"], [0.1, "0.10"], [0.15, "0.15"], [0.2, "0.20"], [0.25, "0.25"]]}, "e": {"x0": 289.0, "x1": 402.0, "y0": 269.9, "y1": 276.8, "ly": 269.3, "minor": 0.005, "vmax": 0.1326, "ty": 261.2, "ticks": [[0, "0"], [0.025, "0.025"], [0.05, "0.050"], [0.075, "0.075"], [0.1, "0.100"], [0.125, "0.125"]]}, "f": {"x0": 529.0, "x1": 642.0, "y0": 269.9, "y1": 276.8, "ly": 269.3, "minor": 0.002, "vmax": 0.0577, "ty": 261.2, "ticks": [[0, "0"], [0.01, "0.01"], [0.02, "0.02"], [0.03, "0.03"], [0.04, "0.04"], [0.05, "0.05"]]}};
// SunsetColors-like map
var STOPS = [
 [0.00, 0,0,0],
 [0.06, 24,9,36],
 [0.165, 92,31,140],
 [0.30, 182,56,92],
 [0.42, 226,78,62],
 [0.52, 245,112,22],
 [0.65, 251,152,18],
 [0.80, 253,206,88],
 [0.90, 254,236,175],
 [0.95, 255,248,220],
 [1.00, 255,255,255]
];
function cmap(v){
  if(v<=0) return [0,0,0];
  if(v>=1) return [255,255,255];
  for(var i=1;i<STOPS.length;i++){
    if(v<=STOPS[i][0]){
      var a=STOPS[i-1], b=STOPS[i], f=(v-a[0])/(b[0]-a[0]);
      return [a[1]+(b[1]-a[1])*f, a[2]+(b[2]-a[2])*f, a[3]+(b[3]-a[3])*f];
    }
  }
  return [255,255,255];
}
function s2(x){var s=Math.sin(x);return s*s;}
function ex(x){return Math.exp(x);}
function S(ph,p){var s=0.5-0.5*Math.cos(ph);return Math.pow(s,p);}
function G(ts,gs,V){
  return function(t,g){
    var i=0; while(i<ts.length-2 && t>ts[i+1]) i++;
    var j=0; while(j<gs.length-2 && g>gs[j+1]) j++;
    var ft=(t-ts[i])/(ts[i+1]-ts[i]); ft=Math.max(0,Math.min(1,ft));
    var fg=(g-gs[j])/(gs[j+1]-gs[j]); fg=Math.max(0,Math.min(1,fg));
    var a=V[j][i]*(1-ft)+V[j][i+1]*ft, b=V[j+1][i]*(1-ft)+V[j+1][i+1]*ft;
    return a*(1-fg)+b*fg;
  };
}
var TE=[0,2.5,8,14,22,32,50], GE=[-1,-0.8,-0.6,-0.4,-0.2,0];
var PkE=G(TE,GE,[
 [1.0,1.0,0.82,0.68,0.56,0.48,0.42],
 [0.85,0.85,0.68,0.56,0.46,0.4,0.36],
 [0.7,0.7,0.55,0.4,0.31,0.27,0.25],
 [0.55,0.55,0.42,0.3,0.24,0.21,0.18],
 [0.42,0.42,0.32,0.24,0.2,0.18,0.15],
 [0.3,0.3,0.25,0.2,0.18,0.15,0.1]]);
var TrE=G(TE,GE,[
 [0,0,0,0.08,0.16,0.22,0.26],
 [0,0,0,0.06,0.13,0.18,0.21],
 [0,0,0,0.04,0.09,0.13,0.16],
 [0,0,0,0.02,0.06,0.09,0.12],
 [0,0,0,0.01,0.03,0.06,0.08],
 [0,0,0,0,0.02,0.04,0.05]]);
var PkF=G(TE,GE,[
 [1.0,1.0,0.82,0.66,0.54,0.46,0.42],
 [0.85,0.85,0.68,0.54,0.44,0.38,0.35],
 [0.7,0.7,0.55,0.39,0.3,0.26,0.24],
 [0.55,0.55,0.42,0.29,0.23,0.2,0.17],
 [0.42,0.42,0.32,0.23,0.19,0.17,0.14],
 [0.3,0.3,0.25,0.2,0.17,0.14,0.1]]);
var TrF=G(TE,GE,[
 [0,0,0,0.09,0.18,0.24,0.28],
 [0,0,0,0.07,0.14,0.19,0.22],
 [0,0,0,0.04,0.1,0.14,0.17],
 [0,0,0,0.02,0.07,0.1,0.12],
 [0,0,0,0.01,0.04,0.06,0.08],
 [0,0,0,0,0.02,0.04,0.05]]);
var TC=[0,1.5,6,12,20,30,40,50], GC=[0,0.5,1.0,1.5,1.75,1.82,1.88,2.0];
var PkC=G(TC,GC,[
 [1.0,1.0,0.78,0.62,0.55,0.45,0.38,0.35],
 [0.75,0.75,0.6,0.5,0.42,0.35,0.3,0.27],
 [0.55,0.55,0.45,0.38,0.32,0.26,0.23,0.21],
 [0.42,0.42,0.33,0.27,0.23,0.2,0.18,0.17],
 [0.37,0.37,0.28,0.22,0.18,0.15,0.13,0.12],
 [0.35,0.35,0.25,0.15,0.06,0.03,0.03,0.03],
 [0.33,0.33,0.24,0.18,0.12,0.09,0.08,0.07],
 [0.32,0.32,0.22,0.18,0.12,0.10,0.09,0.08]]);
var TrC=G(TC,GC,[
 [0,0,0,0.02,0.08,0.14,0.17,0.19],
 [0,0,0,0.02,0.06,0.10,0.12,0.14],
 [0,0,0,0.01,0.04,0.08,0.10,0.11],
 [0,0,0,0.01,0.03,0.06,0.08,0.09],
 [0,0,0,0.01,0.02,0.04,0.05,0.06],
 [0,0,0,0,0.01,0.01,0.01,0.01],
 [0,0,0,0,0.01,0.02,0.03,0.03],
 [0,0,0,0,0.01,0.02,0.03,0.03]]);
var TD=[0,2,8,15,25,35,50], GD=[-1,-0.75,-0.5,-0.35,-0.24,-0.17,-0.12,-0.05,0];
var PkD=G(TD,GD,[
 [1.0,1.0,0.78,0.66,0.55,0.5,0.46],
 [0.8,0.8,0.65,0.55,0.46,0.42,0.4],
 [0.62,0.62,0.52,0.42,0.35,0.32,0.3],
 [0.52,0.52,0.42,0.33,0.26,0.24,0.23],
 [0.45,0.45,0.34,0.26,0.22,0.2,0.2],
 [0.42,0.42,0.28,0.14,0.12,0.12,0.12],
 [0.4,0.4,0.25,0.1,0.08,0.08,0.08],
 [0.36,0.36,0.28,0.22,0.2,0.2,0.2],
 [0.33,0.33,0.28,0.26,0.25,0.25,0.25]]);
var TrD=G(TD,GD,[
 [0,0,0,0.08,0.22,0.3,0.35],
 [0,0,0,0.05,0.16,0.22,0.26],
 [0,0,0,0.02,0.08,0.12,0.15],
 [0,0,0,0.01,0.02,0.03,0.04],
 [0,0,0,0,0.01,0.01,0.01],
 [0,0,0,0,0,0,0],
 [0,0,0,0,0,0,0],
 [0,0,0,0,0,0,0],
 [0,0,0,0,0,0,0]]);
var PD_w=G([0,50],[-1,-0.75,-0.55,-0.45,-0.35,-0.2,-0.1,0],[[0.92,0.92],[0.88,0.88],[0.75,0.75],[0.5,0.5],[0.2,0.2],[0.15,0.15],[0.3,0.3],[0.5,0.5]]);
var TA=[0,1.5,5,10,18,28,38,50], GA=[0,0.3,0.6,0.75,0.9,1.05,1.2,1.4,1.7,2.0];
var PkA=G(TA,GA,[
 [0.6,0.62,0.62,0.5,0.45,0.42,0.4,0.4],
 [0.65,0.68,0.62,0.5,0.42,0.38,0.36,0.35],
 [0.7,0.72,0.62,0.45,0.35,0.28,0.2,0.18],
 [0.7,0.72,0.65,0.45,0.28,0.2,0.18,0.2],
 [0.72,0.72,0.65,0.42,0.26,0.22,0.25,0.3],
 [0.74,0.74,0.66,0.45,0.3,0.3,0.36,0.38],
 [0.76,0.76,0.68,0.52,0.42,0.45,0.46,0.45],
 [0.8,0.8,0.72,0.62,0.58,0.55,0.52,0.5],
 [0.9,0.9,0.82,0.72,0.66,0.6,0.57,0.55],
 [1.0,1.0,0.88,0.78,0.7,0.64,0.6,0.58]]);
var TrA=G(TA,GA,[
 [0,0,0,0,0,0,0,0],
 [0,0,0,0,0,0,0,0],
 [0,0,0,0,0,0,0,0],
 [0,0,0,0,0,0,0,0],
 [0,0,0,0,0,0,0,0],
 [0,0,0,0,0.02,0.05,0.08,0.1],
 [0,0,0,0.02,0.05,0.12,0.18,0.2],
 [0,0,0,0.05,0.15,0.25,0.28,0.3],
 [0,0,0.02,0.1,0.3,0.4,0.42,0.44],
 [0,0,0.02,0.15,0.35,0.45,0.48,0.5]]);
var TAe=[0,10,25,50];
var PA_eL=G(TAe,GA,[
 [1,1,1,1],[1,1,1,1],[0.9,0.9,0.9,0.8],[0.8,0.7,0.5,0.4],[0.7,0.6,0.3,0.15],[0.6,0.5,0.1,0.05],[0.5,0.4,0,0],[0.3,0.2,0,0],[0.1,0.05,0,0],[0,0,0,0]]);
var PA_ec=G(TAe,GA,[
 [0,0,0,0],[0,0.05,0.05,0],[0.05,0.25,0.2,0.3],[0.15,0.3,0.5,0.6],[0.2,0.3,0.7,0.8],[0.2,0.3,0.8,0.85],[0.2,0.35,0.85,0.9],[0.2,0.45,0.9,0.9],[0.15,0.5,0.9,0.9],[0.1,0.45,0.9,0.9]]);
var PA_ea=G(TAe,GA,[
 [0.15,0.1,0.03,0],[0.1,0.08,0.03,0],[0.1,0.1,0.1,0.2],[0.1,0.15,0.25,0.25],[0.1,0.15,0.2,0.15],[0.15,0.2,0.15,0.1],[0.25,0.3,0.1,0.05],[0.5,0.4,0.06,0.03],[0.8,0.5,0.05,0.03],[1.0,0.55,0.05,0.03]]);
var TB=[0,1,2.2,3.2,4.5,6,7.5,9,11,13,18,25,35,50], GB=[0,0.5,1.0,1.2,1.35,1.5,1.65,1.8,2.0];
var SmB=G(TB,GB,[
 [0,0,0,0,0,0,0,0,0,0,0,0,0,0],
 [0,0.02,0.03,0.05,0.05,0.02,0,0,0,0,0,0,0,0],
 [0,0.03,0.05,0.15,0.25,0.12,0.02,0,0,0,0,0,0,0],
 [0,0.05,0.08,0.25,0.42,0.3,0.05,0.02,0.03,0.05,0.03,0.04,0.05,0.06],
 [0,0.05,0.1,0.35,0.55,0.5,0.15,0.05,0.06,0.08,0.06,0.06,0.07,0.08],
 [0,0.05,0.1,0.4,0.62,0.6,0.3,0.08,0.1,0.12,0.15,0.2,0.26,0.3],
 [0,0.05,0.1,0.45,0.75,0.75,0.5,0.15,0.22,0.3,0.42,0.5,0.52,0.52],
 [0,0.05,0.1,0.5,0.88,0.92,0.85,0.6,0.6,0.62,0.68,0.64,0.62,0.62],
 [0,0.05,0.1,0.5,0.92,1.0,0.95,0.82,0.72,0.76,0.82,0.72,0.66,0.68]]);
var OsB=G(TB,GB,[
 [0,0.4,0.4,0.4,0.4,0.38,0.36,0.35,0.33,0.32,0.3,0.27,0.24,0.22],
 [0,0.3,0.32,0.35,0.35,0.32,0.31,0.3,0.29,0.28,0.25,0.22,0.18,0.15],
 [0,0.2,0.2,0.2,0.2,0.2,0.18,0.17,0.16,0.15,0.13,0.1,0.07,0.05],
 [0,0.2,0.2,0.15,0.1,0.16,0.17,0.18,0.18,0.18,0.18,0.17,0.15,0.14],
 [0,0.2,0.2,0.1,0.05,0.1,0.16,0.18,0.2,0.22,0.24,0.24,0.22,0.2],
 [0,0.2,0.15,0.05,0.03,0.05,0.15,0.2,0.22,0.24,0.25,0.24,0.22,0.2],
 [0,0.15,0.1,0.03,0.02,0.03,0.05,0.12,0.15,0.15,0.12,0.1,0.08,0.08],
 [0,0.1,0.05,0.02,0.02,0.02,0.02,0.02,0.02,0.02,0.02,0.02,0.02,0.02],
 [0,0.1,0.05,0.02,0.02,0.02,0.02,0.02,0.02,0.02,0.02,0.02,0.02,0.02]]);
var PB_e1=G([0,50],[0,0.4,0.7,1.0,1.3,1.6,2.0],[[1,1],[1,1],[0.6,0.5],[0.35,0.35],[0.3,0.3],[0.2,0.2],[0.15,0.15]]);
var PB_e2=G([0,50],[0,0.4,0.7,1.0,1.3,1.6,2.0],[[0,0],[0,0],[0.25,0.3],[0.35,0.35],[0.3,0.3],[0.2,0.2],[0.1,0.1]]);
function PB_e(t,g){return [PB_e1(t,g),PB_e2(t,g)];}
var MODELS = {
 a: function(t,g){
   var pL=(4.1+0.45*g*g-0.1*g*g*g)*t;
   var ac=1.74+0.09*g, bc=0.52+1.09*g;
   var pc=ac*t+bc*20*Math.log(1+t/20);
   var pa=6.08*t-pc;
   var sL=0.5-0.5*Math.cos(pL), sc=0.5-0.5*Math.cos(pc), sa=0.5-0.5*Math.cos(pa);
   var F=Math.pow(sL,PA_eL(t,g))*Math.pow(sc,PA_ec(t,g))*Math.pow(sa,PA_ea(t,g));
   var pk=PkA(t,g), tr=TrA(t,g);
   var d=0.4*Math.max(0,1-g/0.6)*Math.exp(-t/20);
   F*=1-d*(0.5+0.5*Math.cos(1.26*(t-5.0)));
   return 0.3354*(tr+(pk-tr)*F);
 },
 b: function(t,g){
   var a=1.74+0.09*g, bb=0.52+1.09*g;
   var p1=a*t+bb*20*Math.log(1+t/20);
   var p2=6.08*t-p1;
   var e=PB_e(t,g);
   var s1=0.5-0.5*Math.cos(p1), s2=0.5-0.5*Math.cos(p2);
   var F=Math.pow(s1,e[0])*Math.pow(s2,e[1]);
   return 0.3174*(SmB(t,g)+OsB(t,g)*F);
 },
 c: function(t,g){
   var a=1.74+0.09*g, b=0.52+1.09*g;
   var ph=a*t+b*20*Math.log(1+t/20);
   var pk=PkC(t,g), tr=TrC(t,g);
   return 0.0537*(tr+(pk-tr)*S(ph,1.1));
 },
 d: function(t,g){
   var wA=2.49+0.81*g, wB=2.49-0.73*g;
   var pA=wA*t, pB=wB*t;
   var w=PD_w(t,g);
   // complex amplitude: 1 - w e^{ipA} - (1-w) e^{ipB}
   var re=1-w*Math.cos(pA)-(1-w)*Math.cos(pB);
   var im=-w*Math.sin(pA)-(1-w)*Math.sin(pB);
   var F=(re*re+im*im)/4;
   var pk=PkD(t,g), tr=TrD(t,g);
   return 0.2815*(tr+(pk-tr)*F);
 },
 e: function(t,g){
   var W=1.933+0.701*g-0.094*g*g;
   var ph=W*t*(1+0.0030*g*t);
   var pk=PkE(t,g), tr=TrE(t,g);
   var pp=Math.min(1.1,0.6+0.5*(g+1));
   return 0.1326*(tr+(pk-tr)*S(ph,pp));
 },
 f: function(t,g){
   var W=1.933+0.701*g-0.094*g*g;
   var ph=W*t*(1+0.0030*g*t);
   var pk=PkF(t,g), tr=TrF(t,g);
   var pp=Math.min(1.1,0.6+0.5*(g+1));
   return 0.0577*(tr+(pk-tr)*S(ph,pp));
 }
};

(function(){
  var cv=document.getElementById('c'), ctx=cv.getContext('2d');
  var W=685,H=487;
  var img=ctx.createImageData(W,H), d=img.data;
  for(var i=0;i<W*H;i++){d[4*i]=255;d[4*i+1]=255;d[4*i+2]=255;d[4*i+3]=255;}
  function cov(a0,a1,p){ // overlap of [p,p+1] with [a0,a1]
    return Math.max(0, Math.min(a1,p+1)-Math.max(a0,p));
  }
  function put(px,py,rgb,c){
    var j=4*(py*W+px);
    d[j]=d[j]*(1-c)+rgb[0]*c; d[j+1]=d[j+1]*(1-c)+rgb[1]*c; d[j+2]=d[j+2]*(1-c)+rgb[2]*c;
  }
  var SS=3;
  for(var k in P){
    var p=P[k], f=MODELS[k], vmax=CB[k].vmax;
    var X0=Math.floor(p.x0), X1=Math.ceil(p.x1), Y0=Math.floor(p.y0), Y1=Math.ceil(p.y1);
    for(var py=Y0;py<Y1;py++){
      var cy=cov(p.y0,p.y1,py); if(cy<=0) continue;
      for(var px=X0;px<X1;px++){
        var cx=cov(p.x0,p.x1,px); if(cx<=0) continue;
        var acc=[0,0,0];
        for(var sy=0;sy<SS;sy++){
          var yy=py+(sy+0.5)/SS; yy=Math.min(Math.max(yy,p.y0),p.y1);
          var g=p.gbot+(p.gtop-p.gbot)*(p.y1-yy)/(p.y1-p.y0);
          for(var sx=0;sx<SS;sx++){
            var xx=px+(sx+0.5)/SS; xx=Math.min(Math.max(xx,p.x0),p.x1);
            var t=50*(xx-p.x0)/(p.x1-p.x0);
            var v=f(t,g)/vmax;
            var c=cmap(v);
            acc[0]+=c[0];acc[1]+=c[1];acc[2]+=c[2];
          }
        }
        var n=SS*SS;
        put(px,py,[acc[0]/n,acc[1]/n,acc[2]/n],cx*cy);
      }
    }
    // colorbar
    var b=CB[k];
    for(var py=Math.floor(b.y0);py<Math.ceil(b.y1);py++){
      var cy=cov(b.y0,b.y1,py); if(cy<=0) continue;
      for(var px=Math.floor(b.x0);px<Math.ceil(b.x1);px++){
        var cx=cov(b.x0,b.x1,px); if(cx<=0) continue;
        var v=(px+0.5-b.x0)/(b.x1-b.x0);
        put(px,py,cmap(v),cx*cy);
      }
    }
  }
  ctx.putImageData(img,0,0);
})();
</script>
</body></html>
